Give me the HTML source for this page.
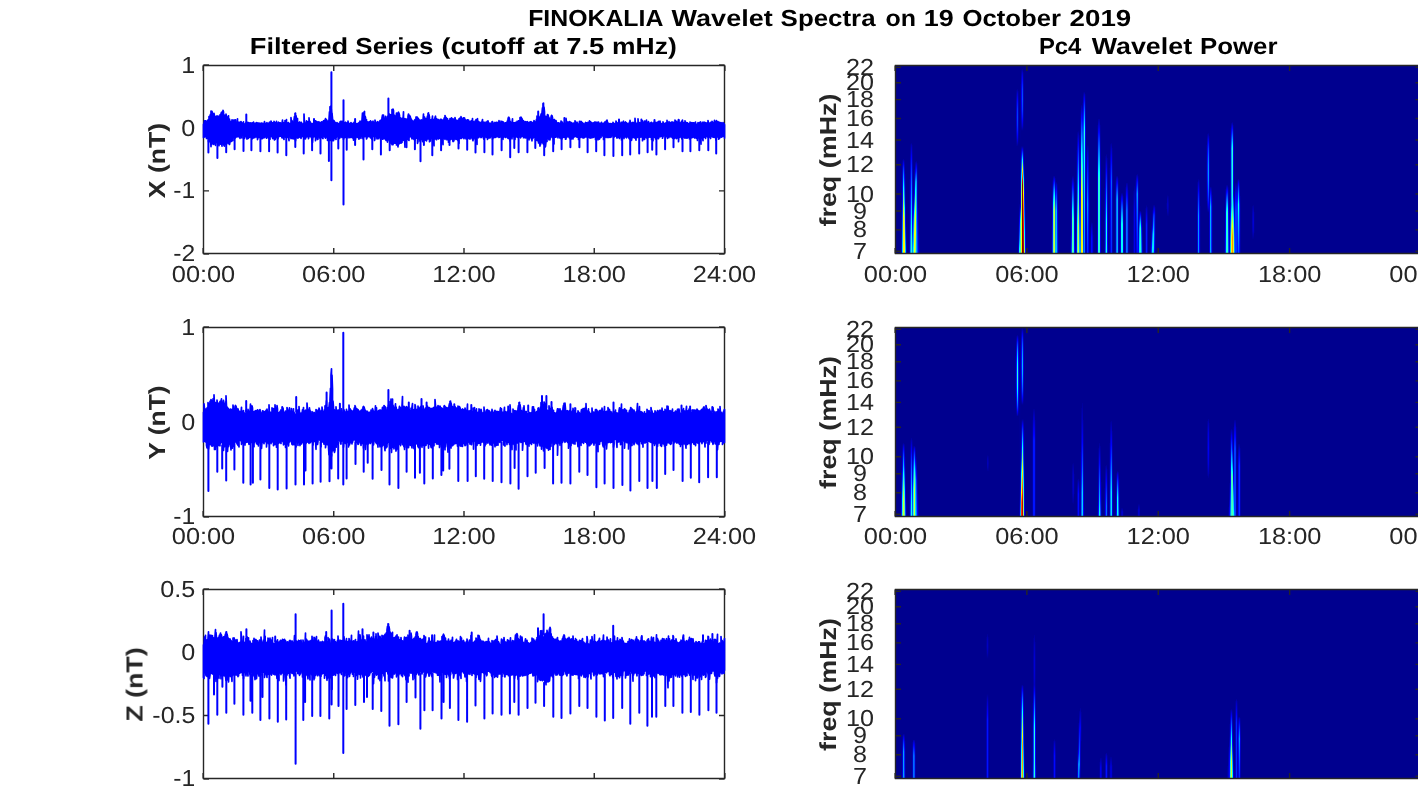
<!DOCTYPE html><html><head><meta charset="utf-8"><title>FINOKALIA Wavelet Spectra</title>
<style>html,body{margin:0;padding:0;background:#fff;overflow:hidden}svg{display:block}text{font-family:"Liberation Sans",sans-serif;fill:#262626;text-rendering:geometricPrecision}</style></head><body>
<svg width="1418" height="788" viewBox="0 0 1418 788">
<rect width="1418" height="788" fill="#fff"/>
<g shape-rendering="crispEdges">
<rect x="895.5" y="65.5" width="524.5" height="188.0" fill="#00008f"/>
<defs><linearGradient id="a5" x2="0" y2="1"><stop offset="0" stop-color="#000099"/><stop offset="0.581" stop-color="#0000b3"/><stop offset="1" stop-color="#0000d9"/></linearGradient><linearGradient id="a6" x2="0" y2="1"><stop offset="0" stop-color="#000096"/><stop offset="0.065" stop-color="#0000b7"/><stop offset="0.172" stop-color="#0000d7"/><stop offset="0.452" stop-color="#0002ff"/><stop offset="0.624" stop-color="#0050ff"/><stop offset="1" stop-color="#00e2ff"/></linearGradient><linearGradient id="a7" x2="0" y2="1"><stop offset="0" stop-color="#00008f"/><stop offset="0.043" stop-color="#0000dc"/><stop offset="0.064" stop-color="#0000fb"/><stop offset="0.074" stop-color="#000bff"/><stop offset="0.181" stop-color="#0086ff"/><stop offset="0.309" stop-color="#03fffc"/><stop offset="0.606" stop-color="#fbff04"/><stop offset="0.628" stop-color="#fff400"/><stop offset="1" stop-color="#fff400"/></linearGradient><linearGradient id="a8" x2="0" y2="1"><stop offset="0" stop-color="#000096"/><stop offset="0.194" stop-color="#0004ff"/><stop offset="0.333" stop-color="#0058ff"/><stop offset="0.452" stop-color="#00acff"/><stop offset="0.516" stop-color="#01fffe"/><stop offset="0.624" stop-color="#8aff75"/><stop offset="0.667" stop-color="#a2ff5d"/><stop offset="0.849" stop-color="#eaff15"/><stop offset="0.935" stop-color="#feff01"/><stop offset="1" stop-color="#fff500"/></linearGradient><linearGradient id="a9" x2="0" y2="1"><stop offset="0" stop-color="#000099"/><stop offset="0.354" stop-color="#0000b5"/><stop offset="0.62" stop-color="#0003ff"/><stop offset="0.759" stop-color="#0048ff"/><stop offset="1" stop-color="#00e0ff"/></linearGradient><linearGradient id="a10" x2="0" y2="1"><stop offset="0" stop-color="#000099"/><stop offset="0.538" stop-color="#0000b0"/><stop offset="1" stop-color="#0000d8"/></linearGradient><linearGradient id="a13" x2="0" y2="1"><stop offset="0" stop-color="#000099"/><stop offset="0.514" stop-color="#0000a0"/><stop offset="1" stop-color="#0000ba"/></linearGradient><linearGradient id="a14" x2="0" y2="1"><stop offset="0" stop-color="#000097"/><stop offset="0.156" stop-color="#0000c6"/><stop offset="0.45" stop-color="#0000ff"/><stop offset="0.67" stop-color="#0023ff"/><stop offset="0.853" stop-color="#0070ff"/><stop offset="1" stop-color="#0091ff"/></linearGradient><linearGradient id="a15" x2="0" y2="1"><stop offset="0" stop-color="#00008f"/><stop offset="0.018" stop-color="#0000ab"/><stop offset="0.045" stop-color="#0000c3"/><stop offset="0.136" stop-color="#0000ff"/><stop offset="0.391" stop-color="#0079ff"/><stop offset="0.745" stop-color="#00feff"/><stop offset="0.855" stop-color="#23ffdc"/><stop offset="1" stop-color="#23ffdc"/></linearGradient><linearGradient id="a16" x2="0" y2="1"><stop offset="0" stop-color="#000097"/><stop offset="0.231" stop-color="#0000bf"/><stop offset="0.667" stop-color="#0000f0"/><stop offset="0.722" stop-color="#0000ff"/><stop offset="0.806" stop-color="#001dff"/><stop offset="0.907" stop-color="#0066ff"/><stop offset="1" stop-color="#009aff"/></linearGradient><linearGradient id="a17" x2="0" y2="1"><stop offset="0" stop-color="#000099"/><stop offset="0.102" stop-color="#0000a5"/><stop offset="0.169" stop-color="#0000b7"/><stop offset="0.322" stop-color="#0001ff"/><stop offset="0.441" stop-color="#004fff"/><stop offset="0.593" stop-color="#0091ff"/><stop offset="0.678" stop-color="#00aeff"/><stop offset="0.797" stop-color="#00c8ff"/><stop offset="0.898" stop-color="#00feff"/><stop offset="1" stop-color="#32ffcd"/></linearGradient><linearGradient id="a18" x2="0" y2="1"><stop offset="0" stop-color="#000099"/><stop offset="0.19" stop-color="#0000ca"/><stop offset="0.298" stop-color="#0003ff"/><stop offset="0.393" stop-color="#0060ff"/><stop offset="0.512" stop-color="#00ffff"/><stop offset="0.571" stop-color="#55ffaa"/><stop offset="0.762" stop-color="#ebff14"/><stop offset="1" stop-color="#ecff13"/></linearGradient><linearGradient id="a19" x2="0" y2="1"><stop offset="0" stop-color="#000096"/><stop offset="0.11" stop-color="#0000fb"/><stop offset="0.121" stop-color="#0009ff"/><stop offset="0.176" stop-color="#0054ff"/><stop offset="0.22" stop-color="#00a1ff"/><stop offset="0.319" stop-color="#00fdff"/><stop offset="0.604" stop-color="#ecff13"/><stop offset="0.78" stop-color="#ecff13"/><stop offset="0.879" stop-color="#aeff51"/><stop offset="1" stop-color="#75ff8a"/></linearGradient><linearGradient id="a20" x2="0" y2="1"><stop offset="0" stop-color="#00008f"/><stop offset="0.076" stop-color="#0000fc"/><stop offset="0.228" stop-color="#00a1ff"/><stop offset="0.478" stop-color="#00b4ff"/><stop offset="0.598" stop-color="#00b4ff"/><stop offset="0.641" stop-color="#00a8ff"/><stop offset="1" stop-color="#00aeff"/></linearGradient><linearGradient id="a21" x2="0" y2="1"><stop offset="0" stop-color="#000098"/><stop offset="0.211" stop-color="#0000bf"/><stop offset="0.411" stop-color="#0000bd"/><stop offset="0.6" stop-color="#0000fe"/><stop offset="0.789" stop-color="#002bff"/><stop offset="1" stop-color="#004aff"/></linearGradient><linearGradient id="a22" x2="0" y2="1"><stop offset="0" stop-color="#000099"/><stop offset="1" stop-color="#0000e8"/></linearGradient><linearGradient id="a23" x2="0" y2="1"><stop offset="0" stop-color="#000099"/><stop offset="1" stop-color="#0000ae"/></linearGradient><linearGradient id="a120" x2="0" y2="1"><stop offset="0" stop-color="#000097"/><stop offset="0.236" stop-color="#0000c7"/><stop offset="0.491" stop-color="#0000d9"/><stop offset="0.745" stop-color="#0000c9"/><stop offset="1" stop-color="#000097"/></linearGradient><linearGradient id="a121" x2="0" y2="1"><stop offset="0" stop-color="#00008f"/><stop offset="0.088" stop-color="#0000cc"/><stop offset="0.211" stop-color="#0004ff"/><stop offset="0.351" stop-color="#002cff"/><stop offset="0.491" stop-color="#003bff"/><stop offset="0.632" stop-color="#0030ff"/><stop offset="0.789" stop-color="#0004ff"/><stop offset="0.912" stop-color="#0000cc"/><stop offset="1" stop-color="#00008f"/></linearGradient><linearGradient id="a122" x2="0" y2="1"><stop offset="0" stop-color="#000098"/><stop offset="0.08" stop-color="#0000b5"/><stop offset="0.167" stop-color="#0000c0"/><stop offset="0.259" stop-color="#0000b2"/><stop offset="0.34" stop-color="#00008f"/><stop offset="0.778" stop-color="#000093"/><stop offset="0.92" stop-color="#0000b0"/><stop offset="0.969" stop-color="#0000ce"/><stop offset="1" stop-color="#0000ec"/></linearGradient><linearGradient id="a123" x2="0" y2="1"><stop offset="0" stop-color="#000096"/><stop offset="0.224" stop-color="#0000cc"/><stop offset="0.367" stop-color="#0000fc"/><stop offset="0.551" stop-color="#0035ff"/><stop offset="0.694" stop-color="#006fff"/><stop offset="0.735" stop-color="#0084ff"/><stop offset="0.898" stop-color="#00f8ff"/><stop offset="1" stop-color="#32ffcd"/></linearGradient><linearGradient id="a124" x2="0" y2="1"><stop offset="0" stop-color="#000099"/><stop offset="0.13" stop-color="#00009c"/><stop offset="0.367" stop-color="#00008f"/><stop offset="0.503" stop-color="#0000aa"/><stop offset="0.598" stop-color="#0000d2"/><stop offset="0.722" stop-color="#0000f0"/><stop offset="0.728" stop-color="#0004ff"/><stop offset="0.763" stop-color="#0081ff"/><stop offset="0.805" stop-color="#01fffe"/><stop offset="0.822" stop-color="#34ffcb"/><stop offset="0.828" stop-color="#37ffc8"/><stop offset="1" stop-color="#37ffc8"/></linearGradient><linearGradient id="a125" x2="0" y2="1"><stop offset="0" stop-color="#000099"/><stop offset="0.038" stop-color="#0000c0"/><stop offset="0.082" stop-color="#0000df"/><stop offset="0.126" stop-color="#0000f1"/><stop offset="0.169" stop-color="#0000f6"/><stop offset="0.213" stop-color="#0000ed"/><stop offset="0.257" stop-color="#0000d8"/><stop offset="0.306" stop-color="#0000b1"/><stop offset="0.333" stop-color="#00008f"/><stop offset="0.415" stop-color="#00008f"/><stop offset="0.459" stop-color="#0000f7"/><stop offset="0.464" stop-color="#0004ff"/><stop offset="0.503" stop-color="#004cff"/><stop offset="0.541" stop-color="#0086ff"/><stop offset="0.579" stop-color="#00f0ff"/><stop offset="0.585" stop-color="#01fffe"/><stop offset="0.628" stop-color="#83ff7c"/><stop offset="0.661" stop-color="#99ff66"/><stop offset="0.754" stop-color="#c6ff39"/><stop offset="0.874" stop-color="#f0ff0f"/><stop offset="0.923" stop-color="#feff01"/><stop offset="1" stop-color="#ffec00"/></linearGradient><linearGradient id="a126" x2="0" y2="1"><stop offset="0" stop-color="#00008f"/><stop offset="0.027" stop-color="#0000cf"/><stop offset="0.06" stop-color="#0003ff"/><stop offset="0.114" stop-color="#003cff"/><stop offset="0.168" stop-color="#004fff"/><stop offset="0.223" stop-color="#003cff"/><stop offset="0.277" stop-color="#0003ff"/><stop offset="0.31" stop-color="#0000cf"/><stop offset="0.337" stop-color="#00008f"/><stop offset="0.418" stop-color="#00008f"/><stop offset="0.424" stop-color="#0000a0"/><stop offset="0.44" stop-color="#0000f6"/><stop offset="0.446" stop-color="#0013ff"/><stop offset="0.495" stop-color="#04fffb"/><stop offset="0.549" stop-color="#fff900"/><stop offset="0.603" stop-color="#fc0000"/><stop offset="0.63" stop-color="#800000"/><stop offset="1" stop-color="#800000"/></linearGradient><linearGradient id="a127" x2="0" y2="1"><stop offset="0" stop-color="#000099"/><stop offset="0.083" stop-color="#0000b5"/><stop offset="0.16" stop-color="#0000bd"/><stop offset="0.249" stop-color="#0000b0"/><stop offset="0.326" stop-color="#00008f"/><stop offset="0.409" stop-color="#00008f"/><stop offset="0.492" stop-color="#0000fc"/><stop offset="0.541" stop-color="#0052ff"/><stop offset="0.564" stop-color="#009aff"/><stop offset="0.586" stop-color="#00f0ff"/><stop offset="0.591" stop-color="#08fff7"/><stop offset="0.624" stop-color="#9dff62"/><stop offset="0.669" stop-color="#ffff00"/><stop offset="0.713" stop-color="#ffb000"/><stop offset="0.757" stop-color="#ff7000"/><stop offset="0.807" stop-color="#ff3600"/><stop offset="0.862" stop-color="#ff0200"/><stop offset="1" stop-color="#a80000"/></linearGradient><linearGradient id="a128" x2="0" y2="1"><stop offset="0" stop-color="#000099"/><stop offset="0.124" stop-color="#0000ad"/><stop offset="0.348" stop-color="#0000fe"/><stop offset="0.517" stop-color="#0055ff"/><stop offset="0.753" stop-color="#00f8ff"/><stop offset="0.764" stop-color="#01fffe"/><stop offset="1" stop-color="#a9ff56"/></linearGradient><linearGradient id="a129" x2="0" y2="1"><stop offset="0" stop-color="#000099"/><stop offset="0.469" stop-color="#0000bd"/><stop offset="0.878" stop-color="#0000fd"/><stop offset="1" stop-color="#0018ff"/></linearGradient><linearGradient id="a130" x2="0" y2="1"><stop offset="0" stop-color="#000099"/><stop offset="1" stop-color="#00009d"/></linearGradient><linearGradient id="a155" x2="0" y2="1"><stop offset="0" stop-color="#000099"/><stop offset="1" stop-color="#0000a4"/></linearGradient><linearGradient id="a156" x2="0" y2="1"><stop offset="0" stop-color="#000098"/><stop offset="0.219" stop-color="#0000be"/><stop offset="0.425" stop-color="#0000f1"/><stop offset="0.534" stop-color="#0000ff"/><stop offset="1" stop-color="#003cff"/></linearGradient><linearGradient id="a157" x2="0" y2="1"><stop offset="0" stop-color="#00008f"/><stop offset="0.104" stop-color="#0003ff"/><stop offset="0.351" stop-color="#00ffff"/><stop offset="0.455" stop-color="#62ff9d"/><stop offset="0.468" stop-color="#65ff9a"/><stop offset="1" stop-color="#87ff78"/></linearGradient><linearGradient id="a158" x2="0" y2="1"><stop offset="0" stop-color="#00008f"/><stop offset="0.065" stop-color="#0000ff"/><stop offset="0.182" stop-color="#009eff"/><stop offset="0.26" stop-color="#00faff"/><stop offset="0.273" stop-color="#0afff5"/><stop offset="0.455" stop-color="#ccff33"/><stop offset="1" stop-color="#ceff31"/></linearGradient><linearGradient id="a159" x2="0" y2="1"><stop offset="0" stop-color="#000099"/><stop offset="0.12" stop-color="#0000c2"/><stop offset="0.227" stop-color="#0006ff"/><stop offset="0.44" stop-color="#0084ff"/><stop offset="0.693" stop-color="#0090ff"/><stop offset="1" stop-color="#00bdff"/></linearGradient><linearGradient id="a160" x2="0" y2="1"><stop offset="0" stop-color="#000090"/><stop offset="0.042" stop-color="#0000c1"/><stop offset="0.113" stop-color="#0000fc"/><stop offset="0.282" stop-color="#0073ff"/><stop offset="0.408" stop-color="#00beff"/><stop offset="1" stop-color="#00beff"/></linearGradient><linearGradient id="a161" x2="0" y2="1"><stop offset="0" stop-color="#000097"/><stop offset="0.174" stop-color="#0000bb"/><stop offset="0.391" stop-color="#0000f7"/><stop offset="0.449" stop-color="#0000fe"/><stop offset="1" stop-color="#002fff"/></linearGradient><linearGradient id="a162" x2="0" y2="1"><stop offset="0" stop-color="#000099"/><stop offset="1" stop-color="#0000ac"/></linearGradient><linearGradient id="a174" x2="0" y2="1"><stop offset="0" stop-color="#000099"/><stop offset="1" stop-color="#0000ab"/></linearGradient><linearGradient id="a175" x2="0" y2="1"><stop offset="0" stop-color="#000099"/><stop offset="0.726" stop-color="#0000ff"/><stop offset="1" stop-color="#004eff"/></linearGradient><linearGradient id="a176" x2="0" y2="1"><stop offset="0" stop-color="#00008f"/><stop offset="0.117" stop-color="#0000fc"/><stop offset="0.455" stop-color="#03fffc"/><stop offset="0.558" stop-color="#4bffb4"/><stop offset="1" stop-color="#4bffb4"/></linearGradient><linearGradient id="a177" x2="0" y2="1"><stop offset="0" stop-color="#00008f"/><stop offset="0.156" stop-color="#0004ff"/><stop offset="0.558" stop-color="#00faff"/><stop offset="1" stop-color="#2cffd3"/></linearGradient><linearGradient id="a178" x2="0" y2="1"><stop offset="0" stop-color="#000099"/><stop offset="0.662" stop-color="#0000d4"/><stop offset="0.887" stop-color="#0000fc"/><stop offset="1" stop-color="#001bff"/></linearGradient><linearGradient id="a179" x2="0" y2="1"><stop offset="0" stop-color="#000099"/><stop offset="1" stop-color="#00009f"/></linearGradient><linearGradient id="a180" x2="0" y2="1"><stop offset="0" stop-color="#000099"/><stop offset="0.476" stop-color="#0000ad"/><stop offset="0.689" stop-color="#0000c9"/><stop offset="0.961" stop-color="#0000fe"/><stop offset="1" stop-color="#0009ff"/></linearGradient><linearGradient id="a181" x2="0" y2="1"><stop offset="0" stop-color="#000096"/><stop offset="0.24" stop-color="#0001ff"/><stop offset="0.545" stop-color="#0070ff"/><stop offset="0.744" stop-color="#01fffe"/><stop offset="0.785" stop-color="#1effe1"/><stop offset="1" stop-color="#52ffad"/></linearGradient><linearGradient id="a182" x2="0" y2="1"><stop offset="0" stop-color="#00008f"/><stop offset="0.041" stop-color="#0000bd"/><stop offset="0.115" stop-color="#0000fd"/><stop offset="0.467" stop-color="#00fbff"/><stop offset="0.779" stop-color="#c1ff3e"/><stop offset="1" stop-color="#c4ff3b"/></linearGradient><linearGradient id="a183" x2="0" y2="1"><stop offset="0" stop-color="#000098"/><stop offset="0.576" stop-color="#0001ff"/><stop offset="0.669" stop-color="#002bff"/><stop offset="0.78" stop-color="#006aff"/><stop offset="1" stop-color="#00c2ff"/></linearGradient><linearGradient id="a184" x2="0" y2="1"><stop offset="0" stop-color="#000099"/><stop offset="0.552" stop-color="#0000ff"/><stop offset="0.762" stop-color="#003fff"/><stop offset="1" stop-color="#00a6ff"/></linearGradient><linearGradient id="a185" x2="0" y2="1"><stop offset="0" stop-color="#000095"/><stop offset="0.088" stop-color="#0002ff"/><stop offset="0.331" stop-color="#00ffff"/><stop offset="0.601" stop-color="#fffc00"/><stop offset="0.622" stop-color="#ffea00"/><stop offset="1" stop-color="#ffea00"/></linearGradient><linearGradient id="a186" x2="0" y2="1"><stop offset="0" stop-color="#000099"/><stop offset="0.02" stop-color="#00009c"/><stop offset="0.12" stop-color="#0000ff"/><stop offset="0.42" stop-color="#00fcff"/><stop offset="0.553" stop-color="#66ff99"/><stop offset="0.627" stop-color="#b2ff4d"/><stop offset="0.787" stop-color="#d0ff2f"/><stop offset="1" stop-color="#e7ff18"/></linearGradient><linearGradient id="a187" x2="0" y2="1"><stop offset="0" stop-color="#00008f"/><stop offset="0.037" stop-color="#0000be"/><stop offset="0.112" stop-color="#0001ff"/><stop offset="0.255" stop-color="#0067ff"/><stop offset="0.863" stop-color="#0022ff"/><stop offset="1" stop-color="#005cff"/></linearGradient><linearGradient id="a188" x2="0" y2="1"><stop offset="0" stop-color="#00008f"/><stop offset="0.019" stop-color="#0000c2"/><stop offset="0.05" stop-color="#0000fd"/><stop offset="0.13" stop-color="#007fff"/><stop offset="0.224" stop-color="#00ffff"/><stop offset="0.255" stop-color="#22ffdd"/><stop offset="0.416" stop-color="#00ffff"/><stop offset="1" stop-color="#0082ff"/></linearGradient><linearGradient id="a189" x2="0" y2="1"><stop offset="0" stop-color="#000098"/><stop offset="0.245" stop-color="#0000ee"/><stop offset="1" stop-color="#0000c9"/></linearGradient><linearGradient id="a190" x2="0" y2="1"><stop offset="0" stop-color="#000099"/><stop offset="0.524" stop-color="#0000cd"/><stop offset="0.796" stop-color="#0000bf"/><stop offset="1" stop-color="#0000bf"/></linearGradient><linearGradient id="a191" x2="0" y2="1"><stop offset="0" stop-color="#000095"/><stop offset="0.065" stop-color="#0000c1"/><stop offset="0.185" stop-color="#0000fe"/><stop offset="0.546" stop-color="#0094ff"/><stop offset="1" stop-color="#0028ff"/></linearGradient><linearGradient id="a192" x2="0" y2="1"><stop offset="0" stop-color="#000097"/><stop offset="0.159" stop-color="#0000c6"/><stop offset="0.411" stop-color="#0001ff"/><stop offset="0.551" stop-color="#001cff"/><stop offset="0.766" stop-color="#0000ff"/><stop offset="1" stop-color="#0000f1"/></linearGradient><linearGradient id="a193" x2="0" y2="1"><stop offset="0" stop-color="#000099"/><stop offset="0.395" stop-color="#0000a2"/><stop offset="1" stop-color="#00009e"/></linearGradient><linearGradient id="a194" x2="0" y2="1"><stop offset="0" stop-color="#000099"/><stop offset="1" stop-color="#0000af"/></linearGradient><linearGradient id="a195" x2="0" y2="1"><stop offset="0" stop-color="#00008f"/><stop offset="0.161" stop-color="#0000c0"/><stop offset="0.452" stop-color="#0000fd"/><stop offset="0.516" stop-color="#0009ff"/><stop offset="1" stop-color="#0009ff"/></linearGradient><linearGradient id="a196" x2="0" y2="1"><stop offset="0" stop-color="#000098"/><stop offset="0.5" stop-color="#0000df"/><stop offset="1" stop-color="#0000e9"/></linearGradient><linearGradient id="a197" x2="0" y2="1"><stop offset="0" stop-color="#000099"/><stop offset="1" stop-color="#00009e"/></linearGradient><linearGradient id="a201" x2="0" y2="1"><stop offset="0" stop-color="#000099"/><stop offset="0.422" stop-color="#0000d4"/><stop offset="0.75" stop-color="#0000d5"/><stop offset="1" stop-color="#0000ea"/></linearGradient><linearGradient id="a202" x2="0" y2="1"><stop offset="0" stop-color="#000099"/><stop offset="0.104" stop-color="#0002ff"/><stop offset="0.403" stop-color="#00feff"/><stop offset="0.448" stop-color="#23ffdc"/><stop offset="1" stop-color="#23ffdc"/></linearGradient><linearGradient id="a203" x2="0" y2="1"><stop offset="0" stop-color="#000099"/><stop offset="0.104" stop-color="#0002ff"/><stop offset="0.403" stop-color="#00feff"/><stop offset="0.448" stop-color="#23ffdc"/><stop offset="1" stop-color="#23ffdc"/></linearGradient><linearGradient id="a204" x2="0" y2="1"><stop offset="0" stop-color="#000099"/><stop offset="0.422" stop-color="#0000d4"/><stop offset="0.75" stop-color="#0000d5"/><stop offset="1" stop-color="#0000ea"/></linearGradient><linearGradient id="a208" x2="0" y2="1"><stop offset="0" stop-color="#000099"/><stop offset="1" stop-color="#0000a9"/></linearGradient><linearGradient id="a209" x2="0" y2="1"><stop offset="0" stop-color="#000098"/><stop offset="0.443" stop-color="#0000ff"/><stop offset="0.691" stop-color="#0034ff"/><stop offset="0.845" stop-color="#0035ff"/><stop offset="1" stop-color="#0054ff"/></linearGradient><linearGradient id="a210" x2="0" y2="1"><stop offset="0" stop-color="#000094"/><stop offset="0.182" stop-color="#0004ff"/><stop offset="0.667" stop-color="#00fdff"/><stop offset="0.707" stop-color="#0ffff0"/><stop offset="1" stop-color="#0ffff0"/></linearGradient><linearGradient id="a211" x2="0" y2="1"><stop offset="0" stop-color="#000099"/><stop offset="0.684" stop-color="#0000fb"/><stop offset="0.874" stop-color="#0000ff"/><stop offset="1" stop-color="#0015ff"/></linearGradient><linearGradient id="a212" x2="0" y2="1"><stop offset="0" stop-color="#000099"/><stop offset="1" stop-color="#00009c"/></linearGradient><linearGradient id="a213" x2="0" y2="1"><stop offset="0" stop-color="#000099"/><stop offset="1" stop-color="#00009a"/></linearGradient><linearGradient id="a214" x2="0" y2="1"><stop offset="0" stop-color="#000097"/><stop offset="0.128" stop-color="#0000c3"/><stop offset="0.339" stop-color="#0000fa"/><stop offset="1" stop-color="#0000e0"/></linearGradient><linearGradient id="a215" x2="0" y2="1"><stop offset="0" stop-color="#000096"/><stop offset="0.064" stop-color="#0000c5"/><stop offset="0.164" stop-color="#0000fe"/><stop offset="0.355" stop-color="#0059ff"/><stop offset="1" stop-color="#0027ff"/></linearGradient><linearGradient id="a216" x2="0" y2="1"><stop offset="0" stop-color="#000099"/><stop offset="0.314" stop-color="#0000bf"/><stop offset="1" stop-color="#0000b3"/></linearGradient><linearGradient id="a219" x2="0" y2="1"><stop offset="0" stop-color="#000098"/><stop offset="0.26" stop-color="#0000b3"/><stop offset="1" stop-color="#0000b6"/></linearGradient><linearGradient id="a220" x2="0" y2="1"><stop offset="0" stop-color="#00008f"/><stop offset="0.052" stop-color="#0000c8"/><stop offset="0.13" stop-color="#0005ff"/><stop offset="0.273" stop-color="#0064ff"/><stop offset="0.312" stop-color="#0076ff"/><stop offset="0.896" stop-color="#0076ff"/><stop offset="1" stop-color="#007dff"/></linearGradient><linearGradient id="a221" x2="0" y2="1"><stop offset="0" stop-color="#00008f"/><stop offset="0.026" stop-color="#0000b7"/><stop offset="0.091" stop-color="#0000fb"/><stop offset="0.26" stop-color="#008aff"/><stop offset="0.312" stop-color="#00aaff"/><stop offset="1" stop-color="#00aaff"/></linearGradient><linearGradient id="a222" x2="0" y2="1"><stop offset="0" stop-color="#000097"/><stop offset="0.28" stop-color="#0000c3"/><stop offset="1" stop-color="#0000c7"/></linearGradient><linearGradient id="a224" x2="0" y2="1"><stop offset="0" stop-color="#000098"/><stop offset="0.474" stop-color="#0000cc"/><stop offset="0.754" stop-color="#0000cf"/><stop offset="1" stop-color="#0000e1"/></linearGradient><linearGradient id="a225" x2="0" y2="1"><stop offset="0" stop-color="#00008f"/><stop offset="0.083" stop-color="#0000df"/><stop offset="0.133" stop-color="#0008ff"/><stop offset="0.333" stop-color="#0091ff"/><stop offset="0.517" stop-color="#00faff"/><stop offset="1" stop-color="#00faff"/></linearGradient><linearGradient id="a226" x2="0" y2="1"><stop offset="0" stop-color="#00008f"/><stop offset="0.083" stop-color="#0000df"/><stop offset="0.133" stop-color="#0008ff"/><stop offset="0.333" stop-color="#0091ff"/><stop offset="0.517" stop-color="#00faff"/><stop offset="1" stop-color="#00faff"/></linearGradient><linearGradient id="a227" x2="0" y2="1"><stop offset="0" stop-color="#000098"/><stop offset="0.474" stop-color="#0000cc"/><stop offset="0.754" stop-color="#0000cf"/><stop offset="1" stop-color="#0000e1"/></linearGradient><linearGradient id="a229" x2="0" y2="1"><stop offset="0" stop-color="#000099"/><stop offset="0.364" stop-color="#0000b8"/><stop offset="1" stop-color="#0000bb"/></linearGradient><linearGradient id="a230" x2="0" y2="1"><stop offset="0" stop-color="#000098"/><stop offset="0.071" stop-color="#0000cb"/><stop offset="0.171" stop-color="#0003ff"/><stop offset="0.4" stop-color="#006dff"/><stop offset="1" stop-color="#006dff"/></linearGradient><linearGradient id="a231" x2="0" y2="1"><stop offset="0" stop-color="#000097"/><stop offset="0.086" stop-color="#0000c7"/><stop offset="0.214" stop-color="#0000fe"/><stop offset="0.4" stop-color="#0045ff"/><stop offset="1" stop-color="#004aff"/></linearGradient><linearGradient id="a232" x2="0" y2="1"><stop offset="0" stop-color="#000099"/><stop offset="0.333" stop-color="#0000ac"/><stop offset="1" stop-color="#0000ae"/></linearGradient><linearGradient id="a237" x2="0" y2="1"><stop offset="0" stop-color="#000099"/><stop offset="0.355" stop-color="#0000af"/><stop offset="1" stop-color="#0000af"/></linearGradient><linearGradient id="a238" x2="0" y2="1"><stop offset="0" stop-color="#000096"/><stop offset="0.388" stop-color="#0000e9"/><stop offset="1" stop-color="#0000ea"/></linearGradient><linearGradient id="a239" x2="0" y2="1"><stop offset="0" stop-color="#000098"/><stop offset="0.192" stop-color="#0000a8"/><stop offset="0.452" stop-color="#0000af"/><stop offset="1" stop-color="#0000af"/></linearGradient><linearGradient id="a240" x2="0" y2="1"><stop offset="0" stop-color="#000099"/><stop offset="0.051" stop-color="#0000c4"/><stop offset="0.141" stop-color="#0001ff"/><stop offset="0.244" stop-color="#003cff"/><stop offset="0.256" stop-color="#003cff"/><stop offset="0.744" stop-color="#0001ff"/><stop offset="1" stop-color="#0000e0"/></linearGradient><linearGradient id="a241" x2="0" y2="1"><stop offset="0" stop-color="#00008f"/><stop offset="0.089" stop-color="#0000fb"/><stop offset="0.253" stop-color="#0093ff"/><stop offset="0.266" stop-color="#0094ff"/><stop offset="1" stop-color="#000aff"/></linearGradient><linearGradient id="a242" x2="0" y2="1"><stop offset="0" stop-color="#000096"/><stop offset="0.234" stop-color="#0000c5"/><stop offset="0.662" stop-color="#0000b6"/><stop offset="0.948" stop-color="#0000ff"/><stop offset="1" stop-color="#0010ff"/></linearGradient><linearGradient id="a243" x2="0" y2="1"><stop offset="0" stop-color="#000091"/><stop offset="0.19" stop-color="#0001ff"/><stop offset="0.405" stop-color="#009cff"/><stop offset="0.429" stop-color="#00a5ff"/><stop offset="0.667" stop-color="#00c8ff"/><stop offset="1" stop-color="#00e5ff"/></linearGradient><linearGradient id="a244" x2="0" y2="1"><stop offset="0" stop-color="#00008f"/><stop offset="0.095" stop-color="#0003ff"/><stop offset="0.262" stop-color="#00a4ff"/><stop offset="0.357" stop-color="#00f5ff"/><stop offset="0.381" stop-color="#0afff5"/><stop offset="0.405" stop-color="#1dffe2"/><stop offset="0.429" stop-color="#23ffdc"/><stop offset="1" stop-color="#23ffdc"/></linearGradient><linearGradient id="a245" x2="0" y2="1"><stop offset="0" stop-color="#000095"/><stop offset="0.195" stop-color="#0000c8"/><stop offset="0.341" stop-color="#0003ff"/><stop offset="0.415" stop-color="#0023ff"/><stop offset="0.585" stop-color="#004aff"/><stop offset="1" stop-color="#0092ff"/></linearGradient><linearGradient id="a246" x2="0" y2="1"><stop offset="0" stop-color="#000098"/><stop offset="0.571" stop-color="#0000b2"/><stop offset="1" stop-color="#0000d1"/></linearGradient><linearGradient id="a249" x2="0" y2="1"><stop offset="0" stop-color="#000098"/><stop offset="0.356" stop-color="#0000b7"/><stop offset="1" stop-color="#0000b7"/></linearGradient><linearGradient id="a250" x2="0" y2="1"><stop offset="0" stop-color="#00008f"/><stop offset="0.125" stop-color="#0000c6"/><stop offset="0.312" stop-color="#0003ff"/><stop offset="0.417" stop-color="#001dff"/><stop offset="1" stop-color="#001dff"/></linearGradient><linearGradient id="a251" x2="0" y2="1"><stop offset="0" stop-color="#000099"/><stop offset="0.37" stop-color="#0000cb"/><stop offset="1" stop-color="#0000cc"/></linearGradient><linearGradient id="a254" x2="0" y2="1"><stop offset="0" stop-color="#000099"/><stop offset="1" stop-color="#0000af"/></linearGradient><linearGradient id="a255" x2="0" y2="1"><stop offset="0" stop-color="#000098"/><stop offset="0.407" stop-color="#0000be"/><stop offset="0.704" stop-color="#0000f7"/><stop offset="0.741" stop-color="#0002ff"/><stop offset="1" stop-color="#0040ff"/></linearGradient><linearGradient id="a256" x2="0" y2="1"><stop offset="0" stop-color="#000099"/><stop offset="0.256" stop-color="#0000bd"/><stop offset="0.326" stop-color="#0000d2"/><stop offset="0.419" stop-color="#0001ff"/><stop offset="0.558" stop-color="#0064ff"/><stop offset="0.744" stop-color="#00bbff"/><stop offset="0.86" stop-color="#00e6ff"/><stop offset="1" stop-color="#00e6ff"/></linearGradient><linearGradient id="a257" x2="0" y2="1"><stop offset="0" stop-color="#00008f"/><stop offset="0.104" stop-color="#0000cd"/><stop offset="0.167" stop-color="#0000fd"/><stop offset="0.208" stop-color="#0022ff"/><stop offset="0.292" stop-color="#004fff"/><stop offset="0.604" stop-color="#00e5ff"/><stop offset="0.875" stop-color="#00e6ff"/><stop offset="1" stop-color="#00bfff"/></linearGradient><linearGradient id="a258" x2="0" y2="1"><stop offset="0" stop-color="#00008f"/><stop offset="0.083" stop-color="#0000d5"/><stop offset="0.146" stop-color="#0000fd"/><stop offset="0.167" stop-color="#000aff"/><stop offset="0.229" stop-color="#0021ff"/><stop offset="0.604" stop-color="#002fff"/><stop offset="0.938" stop-color="#0002ff"/><stop offset="1" stop-color="#0000f7"/></linearGradient><linearGradient id="a259" x2="0" y2="1"><stop offset="0" stop-color="#000098"/><stop offset="0.174" stop-color="#0000a8"/><stop offset="1" stop-color="#00009c"/></linearGradient><linearGradient id="a270" x2="0" y2="1"><stop offset="0" stop-color="#000099"/><stop offset="1" stop-color="#000099"/></linearGradient><linearGradient id="a271" x2="0" y2="1"><stop offset="0" stop-color="#00008f"/><stop offset="0.238" stop-color="#0000b4"/><stop offset="0.476" stop-color="#0000c2"/><stop offset="0.762" stop-color="#0000b4"/><stop offset="1" stop-color="#00008f"/></linearGradient><linearGradient id="a272" x2="0" y2="1"><stop offset="0" stop-color="#000097"/><stop offset="0.474" stop-color="#0000b1"/><stop offset="0.737" stop-color="#0000ab"/><stop offset="1" stop-color="#000097"/></linearGradient><linearGradient id="a301" x2="0" y2="1"><stop offset="0" stop-color="#000099"/><stop offset="0.479" stop-color="#0000d9"/><stop offset="1" stop-color="#0000d9"/></linearGradient><linearGradient id="a302" x2="0" y2="1"><stop offset="0" stop-color="#00008f"/><stop offset="0.054" stop-color="#0000bb"/><stop offset="0.176" stop-color="#0001ff"/><stop offset="0.5" stop-color="#0094ff"/><stop offset="1" stop-color="#0095ff"/></linearGradient><linearGradient id="a303" x2="0" y2="1"><stop offset="0" stop-color="#000096"/><stop offset="0.178" stop-color="#0000c3"/><stop offset="0.493" stop-color="#0001ff"/><stop offset="1" stop-color="#0001ff"/></linearGradient><linearGradient id="a304" x2="0" y2="1"><stop offset="0" stop-color="#000099"/><stop offset="1" stop-color="#00009c"/></linearGradient><linearGradient id="a310" x2="0" y2="1"><stop offset="0" stop-color="#000099"/><stop offset="0.509" stop-color="#0000a2"/><stop offset="1" stop-color="#000099"/></linearGradient><linearGradient id="a311" x2="0" y2="1"><stop offset="0" stop-color="#000096"/><stop offset="0.115" stop-color="#0000cf"/><stop offset="0.269" stop-color="#0001ff"/><stop offset="0.385" stop-color="#0016ff"/><stop offset="0.5" stop-color="#001cff"/><stop offset="0.603" stop-color="#0016ff"/><stop offset="0.718" stop-color="#0002ff"/><stop offset="0.872" stop-color="#0000d1"/><stop offset="1" stop-color="#00008f"/></linearGradient><linearGradient id="a312" x2="0" y2="1"><stop offset="0" stop-color="#00008f"/><stop offset="0.076" stop-color="#0000dd"/><stop offset="0.127" stop-color="#0007ff"/><stop offset="0.215" stop-color="#0041ff"/><stop offset="0.316" stop-color="#0072ff"/><stop offset="0.418" stop-color="#008eff"/><stop offset="0.506" stop-color="#0095ff"/><stop offset="0.595" stop-color="#008dff"/><stop offset="0.696" stop-color="#006fff"/><stop offset="0.797" stop-color="#003dff"/><stop offset="0.886" stop-color="#0002ff"/><stop offset="0.949" stop-color="#0000cc"/><stop offset="1" stop-color="#000093"/></linearGradient><linearGradient id="a313" x2="0" y2="1"><stop offset="0" stop-color="#000099"/><stop offset="0.128" stop-color="#0000bb"/><stop offset="0.256" stop-color="#0000cc"/><stop offset="0.385" stop-color="#0000cb"/><stop offset="0.521" stop-color="#0000b7"/><stop offset="0.607" stop-color="#0000d2"/><stop offset="0.94" stop-color="#0000d2"/><stop offset="1" stop-color="#0000da"/></linearGradient><linearGradient id="a314" x2="0" y2="1"><stop offset="0" stop-color="#000092"/><stop offset="0.03" stop-color="#0000bc"/><stop offset="0.091" stop-color="#0000fb"/><stop offset="0.303" stop-color="#00aaff"/><stop offset="1" stop-color="#00aaff"/></linearGradient><linearGradient id="a315" x2="0" y2="1"><stop offset="0" stop-color="#00008f"/><stop offset="0.076" stop-color="#0000c1"/><stop offset="0.212" stop-color="#0002ff"/><stop offset="0.303" stop-color="#0027ff"/><stop offset="0.894" stop-color="#0027ff"/><stop offset="1" stop-color="#0035ff"/></linearGradient><linearGradient id="a316" x2="0" y2="1"><stop offset="0" stop-color="#000099"/><stop offset="0.207" stop-color="#0000a3"/><stop offset="1" stop-color="#0000a6"/></linearGradient><linearGradient id="a328" x2="0" y2="1"><stop offset="0" stop-color="#000099"/><stop offset="1" stop-color="#0000a3"/></linearGradient><linearGradient id="a329" x2="0" y2="1"><stop offset="0" stop-color="#000099"/><stop offset="0.375" stop-color="#0000da"/><stop offset="0.688" stop-color="#0000fe"/><stop offset="1" stop-color="#0023ff"/></linearGradient><linearGradient id="a330" x2="0" y2="1"><stop offset="0" stop-color="#00008f"/><stop offset="0.118" stop-color="#0000fe"/><stop offset="0.397" stop-color="#00f9ff"/><stop offset="0.412" stop-color="#00ffff"/><stop offset="1" stop-color="#13ffec"/></linearGradient><linearGradient id="a331" x2="0" y2="1"><stop offset="0" stop-color="#00008f"/><stop offset="0.074" stop-color="#0000e8"/><stop offset="0.103" stop-color="#0009ff"/><stop offset="0.353" stop-color="#00feff"/><stop offset="0.412" stop-color="#2dffd2"/><stop offset="1" stop-color="#2dffd2"/></linearGradient><linearGradient id="a332" x2="0" y2="1"><stop offset="0" stop-color="#000097"/><stop offset="0.197" stop-color="#0000c0"/><stop offset="0.409" stop-color="#0001ff"/><stop offset="1" stop-color="#0053ff"/></linearGradient><linearGradient id="a333" x2="0" y2="1"><stop offset="0" stop-color="#000099"/><stop offset="0.35" stop-color="#0000ab"/><stop offset="1" stop-color="#0000df"/></linearGradient><linearGradient id="a334" x2="0" y2="1"><stop offset="0" stop-color="#000099"/><stop offset="0.168" stop-color="#0000b6"/><stop offset="0.584" stop-color="#0000b7"/><stop offset="0.696" stop-color="#0000fe"/><stop offset="0.872" stop-color="#0099ff"/><stop offset="1" stop-color="#00d5ff"/></linearGradient><linearGradient id="a335" x2="0" y2="1"><stop offset="0" stop-color="#000097"/><stop offset="0.054" stop-color="#0000e6"/><stop offset="0.077" stop-color="#0005ff"/><stop offset="0.2" stop-color="#009bff"/><stop offset="0.631" stop-color="#009bff"/><stop offset="0.692" stop-color="#00f7ff"/><stop offset="0.7" stop-color="#04fffb"/><stop offset="0.877" stop-color="#f6ff09"/><stop offset="0.915" stop-color="#ffff00"/><stop offset="1" stop-color="#fff100"/></linearGradient><linearGradient id="a336" x2="0" y2="1"><stop offset="0" stop-color="#00008f"/><stop offset="0.053" stop-color="#0003ff"/><stop offset="0.176" stop-color="#00efff"/><stop offset="0.191" stop-color="#0cfff3"/><stop offset="0.206" stop-color="#23ffdc"/><stop offset="0.649" stop-color="#23ffdc"/><stop offset="0.794" stop-color="#feff01"/><stop offset="0.878" stop-color="#ff9100"/><stop offset="1" stop-color="#ff9000"/></linearGradient><linearGradient id="a337" x2="0" y2="1"><stop offset="0" stop-color="#000099"/><stop offset="0.188" stop-color="#0000e2"/><stop offset="0.539" stop-color="#0000e2"/><stop offset="0.555" stop-color="#0000f7"/><stop offset="0.562" stop-color="#0004ff"/><stop offset="0.727" stop-color="#00f5ff"/><stop offset="0.734" stop-color="#01fffe"/><stop offset="0.875" stop-color="#b8ff47"/><stop offset="1" stop-color="#daff25"/></linearGradient><linearGradient id="a338" x2="0" y2="1"><stop offset="0" stop-color="#000099"/><stop offset="0.097" stop-color="#00009f"/><stop offset="0.226" stop-color="#0000b5"/><stop offset="0.5" stop-color="#0000ff"/><stop offset="0.742" stop-color="#005bff"/><stop offset="1" stop-color="#0095ff"/></linearGradient><linearGradient id="a339" x2="0" y2="1"><stop offset="0" stop-color="#00008f"/><stop offset="0.086" stop-color="#0000be"/><stop offset="0.257" stop-color="#0001ff"/><stop offset="0.4" stop-color="#0030ff"/><stop offset="1" stop-color="#0031ff"/></linearGradient><linearGradient id="a340" x2="0" y2="1"><stop offset="0" stop-color="#000092"/><stop offset="0.1" stop-color="#0000c4"/><stop offset="0.257" stop-color="#0001ff"/><stop offset="0.4" stop-color="#0030ff"/><stop offset="1" stop-color="#0031ff"/></linearGradient><linearGradient id="a341" x2="0" y2="1"><stop offset="0" stop-color="#000099"/><stop offset="0.247" stop-color="#0001ff"/><stop offset="0.342" stop-color="#0034ff"/><stop offset="0.438" stop-color="#0038ff"/><stop offset="0.699" stop-color="#002bff"/><stop offset="1" stop-color="#0005ff"/></linearGradient><linearGradient id="a342" x2="0" y2="1"><stop offset="0" stop-color="#00008f"/><stop offset="0.041" stop-color="#0000d3"/><stop offset="0.081" stop-color="#0006ff"/><stop offset="0.203" stop-color="#0086ff"/><stop offset="0.338" stop-color="#02fffd"/><stop offset="0.351" stop-color="#0efff1"/><stop offset="0.405" stop-color="#00feff"/><stop offset="1" stop-color="#0047ff"/></linearGradient><linearGradient id="a343" x2="0" y2="1"><stop offset="0" stop-color="#000099"/><stop offset="0.247" stop-color="#0001ff"/><stop offset="0.342" stop-color="#0034ff"/><stop offset="0.438" stop-color="#0038ff"/><stop offset="0.699" stop-color="#002bff"/><stop offset="1" stop-color="#0005ff"/></linearGradient><linearGradient id="a344" x2="0" y2="1"><stop offset="0" stop-color="#000099"/><stop offset="0.298" stop-color="#0000a5"/><stop offset="1" stop-color="#0000a6"/></linearGradient><linearGradient id="a356" x2="0" y2="1"><stop offset="0" stop-color="#000099"/><stop offset="0.25" stop-color="#0000b5"/><stop offset="0.5" stop-color="#0000be"/><stop offset="0.75" stop-color="#0000b4"/><stop offset="1" stop-color="#000096"/></linearGradient><linearGradient id="a357" x2="0" y2="1"><stop offset="0" stop-color="#000095"/><stop offset="0.235" stop-color="#0000c4"/><stop offset="0.5" stop-color="#0000d6"/><stop offset="0.765" stop-color="#0000c2"/><stop offset="1" stop-color="#00008f"/></linearGradient><linearGradient id="a358" x2="0" y2="1"><stop offset="0" stop-color="#000099"/><stop offset="1" stop-color="#000099"/></linearGradient></defs>
<rect x="901" y="209.5" width="1" height="44" fill="url(#a5)"/><rect x="902" y="159.5" width="1" height="94" fill="url(#a6)"/><rect x="903" y="158.5" width="1" height="95" fill="url(#a7)"/><rect x="904" y="159.5" width="1" height="94" fill="url(#a8)"/><rect x="905" y="173.5" width="1" height="80" fill="url(#a9)"/><rect x="906" y="226.5" width="1" height="27" fill="url(#a10)"/><rect x="909" y="178.5" width="1" height="75" fill="url(#a13)"/><rect x="910" y="143.5" width="1" height="110" fill="url(#a14)"/><rect x="911" y="142.5" width="1" height="111" fill="url(#a15)"/><rect x="912" y="144.5" width="1" height="109" fill="url(#a16)"/><rect x="913" y="193.5" width="1" height="60" fill="url(#a17)"/><rect x="914" y="168.5" width="1" height="85" fill="url(#a18)"/><rect x="915" y="161.5" width="1" height="92" fill="url(#a19)"/><rect x="916" y="160.5" width="1" height="93" fill="url(#a20)"/><rect x="917" y="162.5" width="1" height="91" fill="url(#a21)"/><rect x="918" y="207.5" width="1" height="46" fill="url(#a22)"/><rect x="919" y="233.5" width="1" height="20" fill="url(#a23)"/><rect x="1016" y="89.5" width="1" height="56" fill="url(#a120)"/><rect x="1017" y="88.5" width="1" height="58" fill="url(#a121)"/><rect x="1018" y="90.5" width="1" height="163" fill="url(#a122)"/><rect x="1019" y="203.5" width="1" height="50" fill="url(#a123)"/><rect x="1020" y="83.5" width="1" height="170" fill="url(#a124)"/><rect x="1021" y="69.5" width="1" height="184" fill="url(#a125)"/><rect x="1022" y="68.5" width="1" height="185" fill="url(#a126)"/><rect x="1023" y="71.5" width="1" height="182" fill="url(#a127)"/><rect x="1024" y="163.5" width="1" height="90" fill="url(#a128)"/><rect x="1025" y="203.5" width="1" height="50" fill="url(#a129)"/><rect x="1026" y="247.5" width="1" height="6" fill="url(#a130)"/><rect x="1051" y="225.5" width="1" height="28" fill="url(#a155)"/><rect x="1052" y="179.5" width="1" height="74" fill="url(#a156)"/><rect x="1053" y="175.5" width="1" height="78" fill="url(#a157)"/><rect x="1054" y="175.5" width="1" height="78" fill="url(#a158)"/><rect x="1055" y="177.5" width="1" height="76" fill="url(#a159)"/><rect x="1056" y="181.5" width="1" height="72" fill="url(#a160)"/><rect x="1057" y="183.5" width="1" height="70" fill="url(#a161)"/><rect x="1058" y="208.5" width="1" height="45" fill="url(#a162)"/><rect x="1070" y="235.5" width="1" height="18" fill="url(#a174)"/><rect x="1071" y="179.5" width="1" height="74" fill="url(#a175)"/><rect x="1072" y="175.5" width="1" height="78" fill="url(#a176)"/><rect x="1073" y="175.5" width="1" height="78" fill="url(#a177)"/><rect x="1074" y="181.5" width="1" height="72" fill="url(#a178)"/><rect x="1075" y="245.5" width="1" height="8" fill="url(#a179)"/><rect x="1076" y="149.5" width="1" height="104" fill="url(#a180)"/><rect x="1077" y="131.5" width="1" height="122" fill="url(#a181)"/><rect x="1078" y="130.5" width="1" height="123" fill="url(#a182)"/><rect x="1079" y="134.5" width="1" height="119" fill="url(#a183)"/><rect x="1080" y="109.5" width="1" height="144" fill="url(#a184)"/><rect x="1081" y="104.5" width="1" height="149" fill="url(#a185)"/><rect x="1082" y="102.5" width="1" height="151" fill="url(#a186)"/><rect x="1083" y="91.5" width="1" height="162" fill="url(#a187)"/><rect x="1084" y="91.5" width="1" height="162" fill="url(#a188)"/><rect x="1085" y="93.5" width="1" height="160" fill="url(#a189)"/><rect x="1086" y="149.5" width="1" height="104" fill="url(#a190)"/><rect x="1087" y="144.5" width="1" height="109" fill="url(#a191)"/><rect x="1088" y="145.5" width="1" height="108" fill="url(#a192)"/><rect x="1089" y="171.5" width="1" height="82" fill="url(#a193)"/><rect x="1090" y="226.5" width="1" height="27" fill="url(#a194)"/><rect x="1091" y="221.5" width="1" height="32" fill="url(#a195)"/><rect x="1092" y="222.5" width="1" height="31" fill="url(#a196)"/><rect x="1093" y="234.5" width="1" height="19" fill="url(#a197)"/><rect x="1097" y="124.5" width="1" height="129" fill="url(#a201)"/><rect x="1098" y="118.5" width="1" height="135" fill="url(#a202)"/><rect x="1099" y="118.5" width="1" height="135" fill="url(#a203)"/><rect x="1100" y="124.5" width="1" height="129" fill="url(#a204)"/><rect x="1104" y="187.5" width="1" height="66" fill="url(#a208)"/><rect x="1105" y="155.5" width="1" height="98" fill="url(#a209)"/><rect x="1106" y="153.5" width="1" height="100" fill="url(#a210)"/><rect x="1107" y="157.5" width="1" height="96" fill="url(#a211)"/><rect x="1108" y="244.5" width="1" height="9" fill="url(#a212)"/><rect x="1109" y="167.5" width="1" height="86" fill="url(#a213)"/><rect x="1110" y="143.5" width="1" height="110" fill="url(#a214)"/><rect x="1111" y="142.5" width="1" height="111" fill="url(#a215)"/><rect x="1112" y="147.5" width="1" height="106" fill="url(#a216)"/><rect x="1115" y="179.5" width="1" height="74" fill="url(#a219)"/><rect x="1116" y="175.5" width="1" height="78" fill="url(#a220)"/><rect x="1117" y="175.5" width="1" height="78" fill="url(#a221)"/><rect x="1118" y="177.5" width="1" height="76" fill="url(#a222)"/><rect x="1120" y="195.5" width="1" height="58" fill="url(#a224)"/><rect x="1121" y="192.5" width="1" height="61" fill="url(#a225)"/><rect x="1122" y="192.5" width="1" height="61" fill="url(#a226)"/><rect x="1123" y="195.5" width="1" height="58" fill="url(#a227)"/><rect x="1125" y="186.5" width="1" height="67" fill="url(#a229)"/><rect x="1126" y="182.5" width="1" height="71" fill="url(#a230)"/><rect x="1127" y="182.5" width="1" height="71" fill="url(#a231)"/><rect x="1128" y="189.5" width="1" height="64" fill="url(#a232)"/><rect x="1133" y="190.5" width="1" height="63" fill="url(#a237)"/><rect x="1134" y="185.5" width="1" height="68" fill="url(#a238)"/><rect x="1135" y="179.5" width="1" height="74" fill="url(#a239)"/><rect x="1136" y="174.5" width="1" height="79" fill="url(#a240)"/><rect x="1137" y="173.5" width="1" height="80" fill="url(#a241)"/><rect x="1138" y="175.5" width="1" height="78" fill="url(#a242)"/><rect x="1139" y="210.5" width="1" height="43" fill="url(#a243)"/><rect x="1140" y="210.5" width="1" height="43" fill="url(#a244)"/><rect x="1141" y="211.5" width="1" height="42" fill="url(#a245)"/><rect x="1142" y="224.5" width="1" height="29" fill="url(#a246)"/><rect x="1145" y="207.5" width="1" height="46" fill="url(#a249)"/><rect x="1146" y="204.5" width="1" height="49" fill="url(#a250)"/><rect x="1147" y="206.5" width="1" height="47" fill="url(#a251)"/><rect x="1150" y="243.5" width="1" height="10" fill="url(#a254)"/><rect x="1151" y="225.5" width="1" height="28" fill="url(#a255)"/><rect x="1152" y="209.5" width="1" height="44" fill="url(#a256)"/><rect x="1153" y="204.5" width="1" height="49" fill="url(#a257)"/><rect x="1154" y="204.5" width="1" height="49" fill="url(#a258)"/><rect x="1155" y="206.5" width="1" height="47" fill="url(#a259)"/><rect x="1166" y="202.5" width="1" height="6" fill="url(#a270)"/><rect x="1167" y="194.5" width="1" height="22" fill="url(#a271)"/><rect x="1168" y="195.5" width="1" height="20" fill="url(#a272)"/><rect x="1197" y="181.5" width="1" height="72" fill="url(#a301)"/><rect x="1198" y="178.5" width="1" height="75" fill="url(#a302)"/><rect x="1199" y="179.5" width="1" height="74" fill="url(#a303)"/><rect x="1200" y="205.5" width="1" height="48" fill="url(#a304)"/><rect x="1206" y="144.5" width="1" height="56" fill="url(#a310)"/><rect x="1207" y="133.5" width="1" height="79" fill="url(#a311)"/><rect x="1208" y="132.5" width="1" height="80" fill="url(#a312)"/><rect x="1209" y="135.5" width="1" height="118" fill="url(#a313)"/><rect x="1210" y="186.5" width="1" height="67" fill="url(#a314)"/><rect x="1211" y="186.5" width="1" height="67" fill="url(#a315)"/><rect x="1212" y="194.5" width="1" height="59" fill="url(#a316)"/><rect x="1224" y="231.5" width="1" height="22" fill="url(#a328)"/><rect x="1225" y="188.5" width="1" height="65" fill="url(#a329)"/><rect x="1226" y="184.5" width="1" height="69" fill="url(#a330)"/><rect x="1227" y="184.5" width="1" height="69" fill="url(#a331)"/><rect x="1228" y="186.5" width="1" height="67" fill="url(#a332)"/><rect x="1229" y="212.5" width="1" height="41" fill="url(#a333)"/><rect x="1230" y="127.5" width="1" height="126" fill="url(#a334)"/><rect x="1231" y="122.5" width="1" height="131" fill="url(#a335)"/><rect x="1232" y="121.5" width="1" height="132" fill="url(#a336)"/><rect x="1233" y="124.5" width="1" height="129" fill="url(#a337)"/><rect x="1234" y="190.5" width="1" height="63" fill="url(#a338)"/><rect x="1235" y="182.5" width="1" height="71" fill="url(#a339)"/><rect x="1236" y="182.5" width="1" height="71" fill="url(#a340)"/><rect x="1237" y="179.5" width="1" height="74" fill="url(#a341)"/><rect x="1238" y="178.5" width="1" height="75" fill="url(#a342)"/><rect x="1239" y="179.5" width="1" height="74" fill="url(#a343)"/><rect x="1240" y="195.5" width="1" height="58" fill="url(#a344)"/><rect x="1252" y="205.5" width="1" height="33" fill="url(#a356)"/><rect x="1253" y="204.5" width="1" height="35" fill="url(#a357)"/><rect x="1254" y="211.5" width="1" height="21" fill="url(#a358)"/>
<rect x="895.5" y="327.5" width="524.5" height="189.0" fill="#00008f"/>
<defs><linearGradient id="b4" x2="0" y2="1"><stop offset="0" stop-color="#000099"/><stop offset="1" stop-color="#0000a4"/></linearGradient><linearGradient id="b5" x2="0" y2="1"><stop offset="0" stop-color="#000099"/><stop offset="0.413" stop-color="#0000ba"/><stop offset="0.826" stop-color="#0000ff"/><stop offset="1" stop-color="#0024ff"/></linearGradient><linearGradient id="b6" x2="0" y2="1"><stop offset="0" stop-color="#000094"/><stop offset="0.097" stop-color="#0000b4"/><stop offset="0.306" stop-color="#0000e3"/><stop offset="0.361" stop-color="#0000fc"/><stop offset="0.486" stop-color="#0044ff"/><stop offset="0.764" stop-color="#00f9ff"/><stop offset="1" stop-color="#3affc5"/></linearGradient><linearGradient id="b7" x2="0" y2="1"><stop offset="0" stop-color="#00008f"/><stop offset="0.055" stop-color="#0000d8"/><stop offset="0.096" stop-color="#0004ff"/><stop offset="0.233" stop-color="#0079ff"/><stop offset="0.411" stop-color="#00f8ff"/><stop offset="0.425" stop-color="#02fffd"/><stop offset="0.753" stop-color="#ccff33"/><stop offset="1" stop-color="#ceff31"/></linearGradient><linearGradient id="b8" x2="0" y2="1"><stop offset="0" stop-color="#000097"/><stop offset="0.069" stop-color="#0000bc"/><stop offset="0.194" stop-color="#0000eb"/><stop offset="0.25" stop-color="#0000fd"/><stop offset="0.306" stop-color="#0010ff"/><stop offset="0.653" stop-color="#00f9ff"/><stop offset="0.764" stop-color="#3fffc0"/><stop offset="1" stop-color="#6cff93"/></linearGradient><linearGradient id="b9" x2="0" y2="1"><stop offset="0" stop-color="#000099"/><stop offset="0.153" stop-color="#00009e"/><stop offset="0.407" stop-color="#0000b9"/><stop offset="0.559" stop-color="#0000d6"/><stop offset="0.695" stop-color="#0000fd"/><stop offset="1" stop-color="#0054ff"/></linearGradient><linearGradient id="b10" x2="0" y2="1"><stop offset="0" stop-color="#000099"/><stop offset="1" stop-color="#0000b1"/></linearGradient><linearGradient id="b13" x2="0" y2="1"><stop offset="0" stop-color="#000099"/><stop offset="1" stop-color="#0000aa"/></linearGradient><linearGradient id="b14" x2="0" y2="1"><stop offset="0" stop-color="#000099"/><stop offset="0.263" stop-color="#0000c7"/><stop offset="0.684" stop-color="#0001ff"/><stop offset="1" stop-color="#0052ff"/></linearGradient><linearGradient id="b15" x2="0" y2="1"><stop offset="0" stop-color="#000097"/><stop offset="0.064" stop-color="#0000c3"/><stop offset="0.179" stop-color="#0000ff"/><stop offset="0.449" stop-color="#0076ff"/><stop offset="0.808" stop-color="#00fdff"/><stop offset="0.859" stop-color="#0ffff0"/><stop offset="1" stop-color="#0ffff0"/></linearGradient><linearGradient id="b16" x2="0" y2="1"><stop offset="0" stop-color="#000099"/><stop offset="0.474" stop-color="#0000e4"/><stop offset="0.539" stop-color="#0000ff"/><stop offset="0.776" stop-color="#0040ff"/><stop offset="1" stop-color="#006fff"/></linearGradient><linearGradient id="b17" x2="0" y2="1"><stop offset="0" stop-color="#000092"/><stop offset="0.057" stop-color="#0000ba"/><stop offset="0.186" stop-color="#0005ff"/><stop offset="0.614" stop-color="#03fffc"/><stop offset="0.7" stop-color="#14ffeb"/><stop offset="1" stop-color="#36ffc9"/></linearGradient><linearGradient id="b18" x2="0" y2="1"><stop offset="0" stop-color="#00008f"/><stop offset="0.043" stop-color="#0000dd"/><stop offset="0.071" stop-color="#0006ff"/><stop offset="0.2" stop-color="#008dff"/><stop offset="0.314" stop-color="#00eeff"/><stop offset="0.343" stop-color="#06fff9"/><stop offset="0.629" stop-color="#ceff31"/><stop offset="1" stop-color="#ceff31"/></linearGradient><linearGradient id="b19" x2="0" y2="1"><stop offset="0" stop-color="#000097"/><stop offset="0.174" stop-color="#0000dd"/><stop offset="0.217" stop-color="#0000ff"/><stop offset="0.478" stop-color="#00c2ff"/><stop offset="1" stop-color="#00ebff"/></linearGradient><linearGradient id="b20" x2="0" y2="1"><stop offset="0" stop-color="#000098"/><stop offset="0.169" stop-color="#0000c4"/><stop offset="0.322" stop-color="#0000fe"/><stop offset="0.39" stop-color="#001bff"/><stop offset="0.576" stop-color="#0044ff"/><stop offset="1" stop-color="#0087ff"/></linearGradient><linearGradient id="b21" x2="0" y2="1"><stop offset="0" stop-color="#000098"/><stop offset="0.413" stop-color="#0000bf"/><stop offset="0.891" stop-color="#0000fd"/><stop offset="1" stop-color="#000dff"/></linearGradient><linearGradient id="b22" x2="0" y2="1"><stop offset="0" stop-color="#000099"/><stop offset="1" stop-color="#0000b7"/></linearGradient><linearGradient id="b91" x2="0" y2="1"><stop offset="0" stop-color="#00008f"/><stop offset="0.25" stop-color="#0000ae"/><stop offset="0.5" stop-color="#0000b8"/><stop offset="0.75" stop-color="#0000ae"/><stop offset="1" stop-color="#00008f"/></linearGradient><linearGradient id="b92" x2="0" y2="1"><stop offset="0" stop-color="#000097"/><stop offset="0.5" stop-color="#0000aa"/><stop offset="1" stop-color="#000097"/></linearGradient><linearGradient id="b119" x2="0" y2="1"><stop offset="0" stop-color="#000099"/><stop offset="1" stop-color="#000099"/></linearGradient><linearGradient id="b120" x2="0" y2="1"><stop offset="0" stop-color="#000095"/><stop offset="0.113" stop-color="#0000cd"/><stop offset="0.263" stop-color="#0000fe"/><stop offset="0.388" stop-color="#0015ff"/><stop offset="0.5" stop-color="#001cff"/><stop offset="0.613" stop-color="#0015ff"/><stop offset="0.725" stop-color="#0000ff"/><stop offset="0.887" stop-color="#0000cb"/><stop offset="1" stop-color="#00008f"/></linearGradient><linearGradient id="b121" x2="0" y2="1"><stop offset="0" stop-color="#00008f"/><stop offset="0.049" stop-color="#0000e1"/><stop offset="0.074" stop-color="#0005ff"/><stop offset="0.148" stop-color="#005eff"/><stop offset="0.222" stop-color="#00a6ff"/><stop offset="0.296" stop-color="#00deff"/><stop offset="0.358" stop-color="#02fffd"/><stop offset="0.432" stop-color="#1bffe4"/><stop offset="0.506" stop-color="#23ffdc"/><stop offset="0.58" stop-color="#1affe5"/><stop offset="0.654" stop-color="#00feff"/><stop offset="0.716" stop-color="#00daff"/><stop offset="0.79" stop-color="#00a1ff"/><stop offset="0.864" stop-color="#0058ff"/><stop offset="0.938" stop-color="#0000fc"/><stop offset="0.975" stop-color="#0000c4"/><stop offset="1" stop-color="#00008f"/></linearGradient><linearGradient id="b122" x2="0" y2="1"><stop offset="0" stop-color="#000095"/><stop offset="0.113" stop-color="#0000cd"/><stop offset="0.263" stop-color="#0000fe"/><stop offset="0.388" stop-color="#0015ff"/><stop offset="0.5" stop-color="#001cff"/><stop offset="0.613" stop-color="#0015ff"/><stop offset="0.725" stop-color="#0000ff"/><stop offset="0.887" stop-color="#0000cb"/><stop offset="1" stop-color="#00008f"/></linearGradient><linearGradient id="b123" x2="0" y2="1"><stop offset="0" stop-color="#000099"/><stop offset="0.762" stop-color="#000091"/><stop offset="0.881" stop-color="#00009c"/><stop offset="1" stop-color="#0000bb"/></linearGradient><linearGradient id="b124" x2="0" y2="1"><stop offset="0" stop-color="#000099"/><stop offset="0.17" stop-color="#00009d"/><stop offset="0.433" stop-color="#00008f"/><stop offset="0.655" stop-color="#00009f"/><stop offset="0.76" stop-color="#0000c8"/><stop offset="0.836" stop-color="#0000fd"/><stop offset="0.877" stop-color="#0029ff"/><stop offset="1" stop-color="#00c9ff"/></linearGradient><linearGradient id="b125" x2="0" y2="1"><stop offset="0" stop-color="#000095"/><stop offset="0.059" stop-color="#0000d2"/><stop offset="0.128" stop-color="#0000fd"/><stop offset="0.198" stop-color="#000eff"/><stop offset="0.267" stop-color="#0002ff"/><stop offset="0.342" stop-color="#0000d5"/><stop offset="0.385" stop-color="#0000ad"/><stop offset="0.406" stop-color="#00008f"/><stop offset="0.481" stop-color="#00008f"/><stop offset="0.626" stop-color="#0000fd"/><stop offset="0.69" stop-color="#003eff"/><stop offset="0.727" stop-color="#008eff"/><stop offset="0.77" stop-color="#00f8ff"/><stop offset="0.775" stop-color="#06fff9"/><stop offset="0.872" stop-color="#fffd00"/><stop offset="0.925" stop-color="#ff7500"/><stop offset="1" stop-color="#ff3100"/></linearGradient><linearGradient id="b126" x2="0" y2="1"><stop offset="0" stop-color="#00008f"/><stop offset="0.043" stop-color="#0001ff"/><stop offset="0.085" stop-color="#0050ff"/><stop offset="0.128" stop-color="#0089ff"/><stop offset="0.17" stop-color="#00abff"/><stop offset="0.207" stop-color="#00b4ff"/><stop offset="0.245" stop-color="#00a9ff"/><stop offset="0.287" stop-color="#0086ff"/><stop offset="0.33" stop-color="#004cff"/><stop offset="0.367" stop-color="#0006ff"/><stop offset="0.388" stop-color="#0000d4"/><stop offset="0.41" stop-color="#00008f"/><stop offset="0.484" stop-color="#00008f"/><stop offset="0.516" stop-color="#0000f4"/><stop offset="0.521" stop-color="#0003ff"/><stop offset="0.58" stop-color="#008fff"/><stop offset="0.633" stop-color="#05fffa"/><stop offset="0.734" stop-color="#d2ff2d"/><stop offset="0.761" stop-color="#fff800"/><stop offset="0.894" stop-color="#fe0000"/><stop offset="0.926" stop-color="#c60000"/><stop offset="1" stop-color="#c60000"/></linearGradient><linearGradient id="b127" x2="0" y2="1"><stop offset="0" stop-color="#000098"/><stop offset="0.102" stop-color="#0000d1"/><stop offset="0.204" stop-color="#0000e2"/><stop offset="0.312" stop-color="#0000c9"/><stop offset="0.366" stop-color="#0000ad"/><stop offset="0.403" stop-color="#00008f"/><stop offset="0.478" stop-color="#00008f"/><stop offset="0.516" stop-color="#0000c8"/><stop offset="0.575" stop-color="#0000ff"/><stop offset="0.688" stop-color="#003eff"/><stop offset="0.833" stop-color="#00faff"/><stop offset="0.925" stop-color="#7bff84"/><stop offset="1" stop-color="#9eff61"/></linearGradient><linearGradient id="b128" x2="0" y2="1"><stop offset="0" stop-color="#000099"/><stop offset="0.326" stop-color="#0000a0"/><stop offset="0.453" stop-color="#0000ab"/><stop offset="0.674" stop-color="#0000c6"/><stop offset="1" stop-color="#0000fc"/></linearGradient><linearGradient id="b136" x2="0" y2="1"><stop offset="0" stop-color="#000099"/><stop offset="0.219" stop-color="#0000a6"/><stop offset="1" stop-color="#0000a6"/></linearGradient><linearGradient id="b137" x2="0" y2="1"><stop offset="0" stop-color="#000094"/><stop offset="0.084" stop-color="#0000c0"/><stop offset="0.243" stop-color="#0000ff"/><stop offset="0.299" stop-color="#0013ff"/><stop offset="1" stop-color="#0013ff"/></linearGradient><linearGradient id="b138" x2="0" y2="1"><stop offset="0" stop-color="#000094"/><stop offset="0.084" stop-color="#0000c0"/><stop offset="0.243" stop-color="#0000ff"/><stop offset="0.299" stop-color="#0013ff"/><stop offset="1" stop-color="#0013ff"/></linearGradient><linearGradient id="b139" x2="0" y2="1"><stop offset="0" stop-color="#000099"/><stop offset="0.219" stop-color="#0000a6"/><stop offset="1" stop-color="#0000a6"/></linearGradient><linearGradient id="b176" x2="0" y2="1"><stop offset="0" stop-color="#000096"/><stop offset="0.237" stop-color="#0000ae"/><stop offset="0.5" stop-color="#0000b7"/><stop offset="0.737" stop-color="#0000b0"/><stop offset="1" stop-color="#000098"/></linearGradient><linearGradient id="b177" x2="0" y2="1"><stop offset="0" stop-color="#000094"/><stop offset="0.25" stop-color="#0000bd"/><stop offset="0.5" stop-color="#0000cc"/><stop offset="0.75" stop-color="#0000bf"/><stop offset="1" stop-color="#000097"/></linearGradient><linearGradient id="b178" x2="0" y2="1"><stop offset="0" stop-color="#000099"/><stop offset="1" stop-color="#000099"/></linearGradient><linearGradient id="b181" x2="0" y2="1"><stop offset="0" stop-color="#000098"/><stop offset="0.389" stop-color="#0000c3"/><stop offset="1" stop-color="#0000c3"/></linearGradient><linearGradient id="b182" x2="0" y2="1"><stop offset="0" stop-color="#000097"/><stop offset="0.135" stop-color="#0000c5"/><stop offset="0.351" stop-color="#0000fd"/><stop offset="0.405" stop-color="#0009ff"/><stop offset="1" stop-color="#0009ff"/></linearGradient><linearGradient id="b183" x2="0" y2="1"><stop offset="0" stop-color="#000097"/><stop offset="0.371" stop-color="#0000b2"/><stop offset="1" stop-color="#0000b2"/></linearGradient><linearGradient id="b184" x2="0" y2="1"><stop offset="0" stop-color="#000099"/><stop offset="1" stop-color="#0000b3"/></linearGradient><linearGradient id="b185" x2="0" y2="1"><stop offset="0" stop-color="#000099"/><stop offset="0.259" stop-color="#0000be"/><stop offset="0.556" stop-color="#0000ff"/><stop offset="0.694" stop-color="#0026ff"/><stop offset="0.778" stop-color="#004cff"/><stop offset="1" stop-color="#006dff"/></linearGradient><linearGradient id="b186" x2="0" y2="1"><stop offset="0" stop-color="#000099"/><stop offset="0.168" stop-color="#0000bf"/><stop offset="0.354" stop-color="#0000fe"/><stop offset="0.549" stop-color="#0054ff"/><stop offset="0.788" stop-color="#00d2ff"/><stop offset="1" stop-color="#00d2ff"/></linearGradient><linearGradient id="b187" x2="0" y2="1"><stop offset="0" stop-color="#000099"/><stop offset="0.521" stop-color="#0000c3"/><stop offset="1" stop-color="#0005ff"/></linearGradient><linearGradient id="b188" x2="0" y2="1"><stop offset="0" stop-color="#000099"/><stop offset="1" stop-color="#00009c"/></linearGradient><linearGradient id="b201" x2="0" y2="1"><stop offset="0" stop-color="#000099"/><stop offset="1" stop-color="#0000a0"/></linearGradient><linearGradient id="b202" x2="0" y2="1"><stop offset="0" stop-color="#000099"/><stop offset="0.75" stop-color="#0000e2"/><stop offset="0.868" stop-color="#0000ff"/><stop offset="1" stop-color="#0022ff"/></linearGradient><linearGradient id="b203" x2="0" y2="1"><stop offset="0" stop-color="#000097"/><stop offset="0.288" stop-color="#0003ff"/><stop offset="0.945" stop-color="#00f6ff"/><stop offset="1" stop-color="#00faff"/></linearGradient><linearGradient id="b204" x2="0" y2="1"><stop offset="0" stop-color="#000099"/><stop offset="0.671" stop-color="#0001ff"/><stop offset="0.757" stop-color="#000fff"/><stop offset="0.957" stop-color="#0056ff"/><stop offset="1" stop-color="#005eff"/></linearGradient><linearGradient id="b205" x2="0" y2="1"><stop offset="0" stop-color="#000099"/><stop offset="1" stop-color="#0000ad"/></linearGradient><linearGradient id="b208" x2="0" y2="1"><stop offset="0" stop-color="#000099"/><stop offset="1" stop-color="#00009f"/></linearGradient><linearGradient id="b209" x2="0" y2="1"><stop offset="0" stop-color="#000098"/><stop offset="0.28" stop-color="#0000c5"/><stop offset="0.74" stop-color="#0000ff"/><stop offset="1" stop-color="#0007ff"/></linearGradient><linearGradient id="b210" x2="0" y2="1"><stop offset="0" stop-color="#000096"/><stop offset="0.118" stop-color="#0000c1"/><stop offset="0.333" stop-color="#0000fe"/><stop offset="0.804" stop-color="#006dff"/><stop offset="1" stop-color="#006dff"/></linearGradient><linearGradient id="b211" x2="0" y2="1"><stop offset="0" stop-color="#000098"/><stop offset="0.787" stop-color="#0000c4"/><stop offset="1" stop-color="#0000c4"/></linearGradient><linearGradient id="b213" x2="0" y2="1"><stop offset="0" stop-color="#000099"/><stop offset="1" stop-color="#0000b4"/></linearGradient><linearGradient id="b214" x2="0" y2="1"><stop offset="0" stop-color="#000097"/><stop offset="0.372" stop-color="#0000ff"/><stop offset="0.745" stop-color="#0073ff"/><stop offset="0.904" stop-color="#0073ff"/><stop offset="1" stop-color="#0081ff"/></linearGradient><linearGradient id="b215" x2="0" y2="1"><stop offset="0" stop-color="#000098"/><stop offset="0.253" stop-color="#0000ff"/><stop offset="0.747" stop-color="#00e6ff"/><stop offset="1" stop-color="#00e6ff"/></linearGradient><linearGradient id="b216" x2="0" y2="1"><stop offset="0" stop-color="#000099"/><stop offset="0.718" stop-color="#0000d6"/><stop offset="1" stop-color="#0000dd"/></linearGradient><linearGradient id="b219" x2="0" y2="1"><stop offset="0" stop-color="#000099"/><stop offset="1" stop-color="#00009d"/></linearGradient><linearGradient id="b220" x2="0" y2="1"><stop offset="0" stop-color="#000098"/><stop offset="0.488" stop-color="#0000dc"/><stop offset="0.721" stop-color="#0000e9"/><stop offset="0.86" stop-color="#0000fc"/><stop offset="1" stop-color="#0015ff"/></linearGradient><linearGradient id="b221" x2="0" y2="1"><stop offset="0" stop-color="#00008f"/><stop offset="0.111" stop-color="#0000e8"/><stop offset="0.156" stop-color="#0007ff"/><stop offset="0.356" stop-color="#007fff"/><stop offset="0.6" stop-color="#00feff"/><stop offset="1" stop-color="#05fffa"/></linearGradient><linearGradient id="b222" x2="0" y2="1"><stop offset="0" stop-color="#000098"/><stop offset="0.136" stop-color="#0000cf"/><stop offset="0.295" stop-color="#0003ff"/><stop offset="0.591" stop-color="#0055ff"/><stop offset="0.705" stop-color="#0058ff"/><stop offset="1" stop-color="#008fff"/></linearGradient><linearGradient id="b223" x2="0" y2="1"><stop offset="0" stop-color="#000099"/><stop offset="1" stop-color="#0000b9"/></linearGradient><linearGradient id="b225" x2="0" y2="1"><stop offset="0" stop-color="#00008f"/><stop offset="0.5" stop-color="#0000be"/><stop offset="1" stop-color="#0000c1"/></linearGradient><linearGradient id="b226" x2="0" y2="1"><stop offset="0" stop-color="#00008f"/><stop offset="0.5" stop-color="#0000c9"/><stop offset="1" stop-color="#0000cc"/></linearGradient><linearGradient id="b227" x2="0" y2="1"><stop offset="0" stop-color="#000098"/><stop offset="1" stop-color="#00009b"/></linearGradient><linearGradient id="b241" x2="0" y2="1"><stop offset="0" stop-color="#000099"/><stop offset="1" stop-color="#00009b"/></linearGradient><linearGradient id="b242" x2="0" y2="1"><stop offset="0" stop-color="#00008f"/><stop offset="0.5" stop-color="#0000ca"/><stop offset="1" stop-color="#0000cc"/></linearGradient><linearGradient id="b243" x2="0" y2="1"><stop offset="0" stop-color="#00008f"/><stop offset="0.5" stop-color="#0000bf"/><stop offset="1" stop-color="#0000c1"/></linearGradient><linearGradient id="b311" x2="0" y2="1"><stop offset="0" stop-color="#000099"/><stop offset="0.259" stop-color="#0000b3"/><stop offset="0.5" stop-color="#0000bb"/><stop offset="0.741" stop-color="#0000b3"/><stop offset="1" stop-color="#000099"/></linearGradient><linearGradient id="b312" x2="0" y2="1"><stop offset="0" stop-color="#000099"/><stop offset="0.103" stop-color="#0000bc"/><stop offset="0.241" stop-color="#0000dc"/><stop offset="0.5" stop-color="#0000f4"/><stop offset="0.759" stop-color="#0000dc"/><stop offset="0.897" stop-color="#0000bc"/><stop offset="1" stop-color="#000099"/></linearGradient><linearGradient id="b313" x2="0" y2="1"><stop offset="0" stop-color="#000099"/><stop offset="0.5" stop-color="#0000ac"/><stop offset="1" stop-color="#000099"/></linearGradient><linearGradient id="b332" x2="0" y2="1"><stop offset="0" stop-color="#000099"/><stop offset="1" stop-color="#0000ac"/></linearGradient><linearGradient id="b333" x2="0" y2="1"><stop offset="0" stop-color="#000099"/><stop offset="0.485" stop-color="#0000b5"/><stop offset="1" stop-color="#0006ff"/></linearGradient><linearGradient id="b334" x2="0" y2="1"><stop offset="0" stop-color="#000096"/><stop offset="0.163" stop-color="#0000b8"/><stop offset="0.453" stop-color="#0000d5"/><stop offset="0.616" stop-color="#0001ff"/><stop offset="1" stop-color="#00a4ff"/></linearGradient><linearGradient id="b335" x2="0" y2="1"><stop offset="0" stop-color="#000097"/><stop offset="0.115" stop-color="#0000ff"/><stop offset="0.448" stop-color="#01fffe"/><stop offset="0.552" stop-color="#4bffb4"/><stop offset="0.632" stop-color="#31ffce"/><stop offset="0.724" stop-color="#24ffdb"/><stop offset="1" stop-color="#29ffd6"/></linearGradient><linearGradient id="b336" x2="0" y2="1"><stop offset="0" stop-color="#000096"/><stop offset="0.116" stop-color="#0000c6"/><stop offset="0.221" stop-color="#0000ff"/><stop offset="0.372" stop-color="#0076ff"/><stop offset="0.442" stop-color="#00bfff"/><stop offset="0.488" stop-color="#00ffff"/><stop offset="0.547" stop-color="#49ffb6"/><stop offset="0.558" stop-color="#4bffb4"/><stop offset="1" stop-color="#4bffb4"/></linearGradient><linearGradient id="b337" x2="0" y2="1"><stop offset="0" stop-color="#000099"/><stop offset="0.382" stop-color="#0000b0"/><stop offset="0.494" stop-color="#0000ca"/><stop offset="0.584" stop-color="#0000fb"/><stop offset="0.618" stop-color="#0013ff"/><stop offset="0.764" stop-color="#0091ff"/><stop offset="0.854" stop-color="#00d1ff"/><stop offset="0.944" stop-color="#00ffff"/><stop offset="1" stop-color="#14ffeb"/></linearGradient><linearGradient id="b338" x2="0" y2="1"><stop offset="0" stop-color="#000096"/><stop offset="0.073" stop-color="#0000c9"/><stop offset="0.177" stop-color="#0002ff"/><stop offset="0.302" stop-color="#003bff"/><stop offset="0.917" stop-color="#003bff"/><stop offset="1" stop-color="#0081ff"/></linearGradient><linearGradient id="b339" x2="0" y2="1"><stop offset="0" stop-color="#000096"/><stop offset="0.073" stop-color="#0000c9"/><stop offset="0.177" stop-color="#0002ff"/><stop offset="0.302" stop-color="#003bff"/><stop offset="1" stop-color="#003bff"/></linearGradient><linearGradient id="b340" x2="0" y2="1"><stop offset="0" stop-color="#000099"/><stop offset="0.247" stop-color="#0000ac"/><stop offset="1" stop-color="#0000ac"/></linearGradient><linearGradient id="b341" x2="0" y2="1"><stop offset="0" stop-color="#000099"/><stop offset="1" stop-color="#00009f"/></linearGradient><linearGradient id="b342" x2="0" y2="1"><stop offset="0" stop-color="#000095"/><stop offset="0.125" stop-color="#0000c6"/><stop offset="0.306" stop-color="#0000fa"/><stop offset="1" stop-color="#0000fa"/></linearGradient><linearGradient id="b343" x2="0" y2="1"><stop offset="0" stop-color="#000097"/><stop offset="0.083" stop-color="#0000cc"/><stop offset="0.194" stop-color="#0004ff"/><stop offset="0.306" stop-color="#0031ff"/><stop offset="1" stop-color="#0031ff"/></linearGradient><linearGradient id="b344" x2="0" y2="1"><stop offset="0" stop-color="#000099"/><stop offset="0.265" stop-color="#0000b1"/><stop offset="1" stop-color="#0000b1"/></linearGradient></defs>
<rect x="900" y="505.5" width="1" height="11" fill="url(#b4)"/><rect x="901" y="469.5" width="1" height="47" fill="url(#b5)"/><rect x="902" y="443.5" width="1" height="73" fill="url(#b6)"/><rect x="903" y="442.5" width="1" height="74" fill="url(#b7)"/><rect x="904" y="443.5" width="1" height="73" fill="url(#b8)"/><rect x="905" y="456.5" width="1" height="60" fill="url(#b9)"/><rect x="906" y="497.5" width="1" height="19" fill="url(#b10)"/><rect x="909" y="488.5" width="1" height="28" fill="url(#b13)"/><rect x="910" y="439.5" width="1" height="77" fill="url(#b14)"/><rect x="911" y="437.5" width="1" height="79" fill="url(#b15)"/><rect x="912" y="439.5" width="1" height="77" fill="url(#b16)"/><rect x="913" y="445.5" width="1" height="71" fill="url(#b17)"/><rect x="914" y="445.5" width="1" height="71" fill="url(#b18)"/><rect x="915" y="446.5" width="1" height="70" fill="url(#b19)"/><rect x="916" y="456.5" width="1" height="60" fill="url(#b20)"/><rect x="917" y="469.5" width="1" height="47" fill="url(#b21)"/><rect x="918" y="493.5" width="1" height="23" fill="url(#b22)"/><rect x="987" y="454.5" width="1" height="17" fill="url(#b91)"/><rect x="988" y="455.5" width="1" height="15" fill="url(#b92)"/><rect x="1015" y="355.5" width="1" height="41" fill="url(#b119)"/><rect x="1016" y="335.5" width="1" height="81" fill="url(#b120)"/><rect x="1017" y="334.5" width="1" height="82" fill="url(#b121)"/><rect x="1018" y="335.5" width="1" height="81" fill="url(#b122)"/><rect x="1019" y="355.5" width="1" height="161" fill="url(#b123)"/><rect x="1020" y="344.5" width="1" height="172" fill="url(#b124)"/><rect x="1021" y="328.5" width="1" height="188" fill="url(#b125)"/><rect x="1022" y="327.5" width="1" height="189" fill="url(#b126)"/><rect x="1023" y="329.5" width="1" height="187" fill="url(#b127)"/><rect x="1024" y="429.5" width="1" height="87" fill="url(#b128)"/><rect x="1032" y="419.5" width="1" height="97" fill="url(#b136)"/><rect x="1033" y="408.5" width="1" height="108" fill="url(#b137)"/><rect x="1034" y="408.5" width="1" height="108" fill="url(#b138)"/><rect x="1035" y="419.5" width="1" height="97" fill="url(#b139)"/><rect x="1072" y="463.5" width="1" height="39" fill="url(#b176)"/><rect x="1073" y="462.5" width="1" height="41" fill="url(#b177)"/><rect x="1074" y="473.5" width="1" height="20" fill="url(#b178)"/><rect x="1077" y="479.5" width="1" height="37" fill="url(#b181)"/><rect x="1078" y="478.5" width="1" height="38" fill="url(#b182)"/><rect x="1079" y="480.5" width="1" height="36" fill="url(#b183)"/><rect x="1080" y="451.5" width="1" height="65" fill="url(#b184)"/><rect x="1081" y="407.5" width="1" height="109" fill="url(#b185)"/><rect x="1082" y="402.5" width="1" height="114" fill="url(#b186)"/><rect x="1083" y="419.5" width="1" height="97" fill="url(#b187)"/><rect x="1084" y="507.5" width="1" height="9" fill="url(#b188)"/><rect x="1097" y="505.5" width="1" height="11" fill="url(#b201)"/><rect x="1098" y="447.5" width="1" height="69" fill="url(#b202)"/><rect x="1099" y="442.5" width="1" height="74" fill="url(#b203)"/><rect x="1100" y="445.5" width="1" height="71" fill="url(#b204)"/><rect x="1101" y="481.5" width="1" height="35" fill="url(#b205)"/><rect x="1104" y="487.5" width="1" height="29" fill="url(#b208)"/><rect x="1105" y="465.5" width="1" height="51" fill="url(#b209)"/><rect x="1106" y="464.5" width="1" height="52" fill="url(#b210)"/><rect x="1107" y="468.5" width="1" height="48" fill="url(#b211)"/><rect x="1109" y="442.5" width="1" height="74" fill="url(#b213)"/><rect x="1110" y="421.5" width="1" height="95" fill="url(#b214)"/><rect x="1111" y="420.5" width="1" height="96" fill="url(#b215)"/><rect x="1112" y="430.5" width="1" height="86" fill="url(#b216)"/><rect x="1115" y="510.5" width="1" height="6" fill="url(#b219)"/><rect x="1116" y="472.5" width="1" height="44" fill="url(#b220)"/><rect x="1117" y="470.5" width="1" height="46" fill="url(#b221)"/><rect x="1118" y="471.5" width="1" height="45" fill="url(#b222)"/><rect x="1119" y="478.5" width="1" height="38" fill="url(#b223)"/><rect x="1121" y="507.5" width="1" height="9" fill="url(#b225)"/><rect x="1122" y="507.5" width="1" height="9" fill="url(#b226)"/><rect x="1123" y="510.5" width="1" height="6" fill="url(#b227)"/><rect x="1137" y="508.5" width="1" height="8" fill="url(#b241)"/><rect x="1138" y="503.5" width="1" height="13" fill="url(#b242)"/><rect x="1139" y="503.5" width="1" height="13" fill="url(#b243)"/><rect x="1207" y="420.5" width="1" height="55" fill="url(#b311)"/><rect x="1208" y="418.5" width="1" height="59" fill="url(#b312)"/><rect x="1209" y="422.5" width="1" height="51" fill="url(#b313)"/><rect x="1228" y="506.5" width="1" height="10" fill="url(#b332)"/><rect x="1229" y="482.5" width="1" height="34" fill="url(#b333)"/><rect x="1230" y="429.5" width="1" height="87" fill="url(#b334)"/><rect x="1231" y="428.5" width="1" height="88" fill="url(#b335)"/><rect x="1232" y="429.5" width="1" height="87" fill="url(#b336)"/><rect x="1233" y="426.5" width="1" height="90" fill="url(#b337)"/><rect x="1234" y="419.5" width="1" height="97" fill="url(#b338)"/><rect x="1235" y="419.5" width="1" height="97" fill="url(#b339)"/><rect x="1236" y="426.5" width="1" height="90" fill="url(#b340)"/><rect x="1237" y="455.5" width="1" height="61" fill="url(#b341)"/><rect x="1238" y="443.5" width="1" height="73" fill="url(#b342)"/><rect x="1239" y="443.5" width="1" height="73" fill="url(#b343)"/><rect x="1240" y="447.5" width="1" height="69" fill="url(#b344)"/>
<rect x="895.5" y="589.5" width="524.5" height="189.0" fill="#00008f"/>
<defs><linearGradient id="c6" x2="0" y2="1"><stop offset="0" stop-color="#000095"/><stop offset="0.395" stop-color="#0000cf"/><stop offset="0.744" stop-color="#0000d0"/><stop offset="1" stop-color="#0000e3"/></linearGradient><linearGradient id="c7" x2="0" y2="1"><stop offset="0" stop-color="#00008f"/><stop offset="0.068" stop-color="#0000d5"/><stop offset="0.114" stop-color="#0000f8"/><stop offset="0.136" stop-color="#0009ff"/><stop offset="0.25" stop-color="#004dff"/><stop offset="0.409" stop-color="#009eff"/><stop offset="1" stop-color="#00a0ff"/></linearGradient><linearGradient id="c8" x2="0" y2="1"><stop offset="0" stop-color="#00008f"/><stop offset="0.114" stop-color="#0000c7"/><stop offset="0.295" stop-color="#0003ff"/><stop offset="0.409" stop-color="#0021ff"/><stop offset="0.75" stop-color="#0023ff"/><stop offset="1" stop-color="#003eff"/></linearGradient><linearGradient id="c9" x2="0" y2="1"><stop offset="0" stop-color="#000099"/><stop offset="1" stop-color="#0000a9"/></linearGradient><linearGradient id="c16" x2="0" y2="1"><stop offset="0" stop-color="#000099"/><stop offset="0.361" stop-color="#0000b8"/><stop offset="1" stop-color="#0000bb"/></linearGradient><linearGradient id="c17" x2="0" y2="1"><stop offset="0" stop-color="#00008f"/><stop offset="0.026" stop-color="#0000b0"/><stop offset="0.053" stop-color="#0000c4"/><stop offset="0.158" stop-color="#0003ff"/><stop offset="0.342" stop-color="#0055ff"/><stop offset="0.421" stop-color="#006dff"/><stop offset="1" stop-color="#006dff"/></linearGradient><linearGradient id="c18" x2="0" y2="1"><stop offset="0" stop-color="#00008f"/><stop offset="0.026" stop-color="#0000aa"/><stop offset="0.079" stop-color="#0000c9"/><stop offset="0.211" stop-color="#0002ff"/><stop offset="0.421" stop-color="#0045ff"/><stop offset="1" stop-color="#004aff"/></linearGradient><linearGradient id="c19" x2="0" y2="1"><stop offset="0" stop-color="#000098"/><stop offset="0.343" stop-color="#0000ab"/><stop offset="1" stop-color="#0000ae"/></linearGradient><linearGradient id="c90" x2="0" y2="1"><stop offset="0" stop-color="#000098"/><stop offset="0.071" stop-color="#0000a1"/><stop offset="0.156" stop-color="#00008f"/><stop offset="0.404" stop-color="#00008f"/><stop offset="0.589" stop-color="#0000bd"/><stop offset="1" stop-color="#0000bd"/></linearGradient><linearGradient id="c91" x2="0" y2="1"><stop offset="0" stop-color="#000095"/><stop offset="0.042" stop-color="#0000b6"/><stop offset="0.083" stop-color="#0000c2"/><stop offset="0.132" stop-color="#0000b4"/><stop offset="0.174" stop-color="#00008f"/><stop offset="0.417" stop-color="#00008f"/><stop offset="0.472" stop-color="#0000c7"/><stop offset="0.562" stop-color="#0001ff"/><stop offset="0.597" stop-color="#0013ff"/><stop offset="1" stop-color="#0013ff"/></linearGradient><linearGradient id="c92" x2="0" y2="1"><stop offset="0" stop-color="#000098"/><stop offset="0.071" stop-color="#0000a1"/><stop offset="0.156" stop-color="#00008f"/><stop offset="0.404" stop-color="#00008f"/><stop offset="0.589" stop-color="#0000bd"/><stop offset="1" stop-color="#0000bd"/></linearGradient><linearGradient id="c124" x2="0" y2="1"><stop offset="0" stop-color="#000099"/><stop offset="0.556" stop-color="#0000b1"/><stop offset="0.84" stop-color="#0000d7"/><stop offset="1" stop-color="#0000fa"/></linearGradient><linearGradient id="c125" x2="0" y2="1"><stop offset="0" stop-color="#00008f"/><stop offset="0.065" stop-color="#0000c0"/><stop offset="0.183" stop-color="#0000fe"/><stop offset="0.602" stop-color="#00b1ff"/><stop offset="0.656" stop-color="#00e1ff"/><stop offset="0.699" stop-color="#00fbff"/><stop offset="0.86" stop-color="#51ffae"/><stop offset="1" stop-color="#89ff76"/></linearGradient><linearGradient id="c126" x2="0" y2="1"><stop offset="0" stop-color="#00008f"/><stop offset="0.022" stop-color="#0000be"/><stop offset="0.065" stop-color="#0000ff"/><stop offset="0.183" stop-color="#0092ff"/><stop offset="0.29" stop-color="#06fff9"/><stop offset="0.548" stop-color="#fdff02"/><stop offset="0.656" stop-color="#ffa400"/><stop offset="1" stop-color="#ffa400"/></linearGradient><linearGradient id="c127" x2="0" y2="1"><stop offset="0" stop-color="#000097"/><stop offset="0.109" stop-color="#0000c3"/><stop offset="0.304" stop-color="#0000ff"/><stop offset="0.609" stop-color="#0051ff"/><stop offset="0.652" stop-color="#006fff"/><stop offset="0.924" stop-color="#01fffe"/><stop offset="1" stop-color="#26ffd9"/></linearGradient><linearGradient id="c128" x2="0" y2="1"><stop offset="0" stop-color="#000099"/><stop offset="0.333" stop-color="#00009d"/><stop offset="1" stop-color="#0000d5"/></linearGradient><linearGradient id="c136" x2="0" y2="1"><stop offset="0" stop-color="#000099"/><stop offset="1" stop-color="#0000ad"/></linearGradient><linearGradient id="c137" x2="0" y2="1"><stop offset="0" stop-color="#000098"/><stop offset="0.164" stop-color="#0000ad"/><stop offset="0.336" stop-color="#0000a6"/><stop offset="0.514" stop-color="#0000fe"/><stop offset="0.65" stop-color="#003dff"/><stop offset="0.879" stop-color="#003eff"/><stop offset="1" stop-color="#006aff"/></linearGradient><linearGradient id="c138" x2="0" y2="1"><stop offset="0" stop-color="#000098"/><stop offset="0.084" stop-color="#0000be"/><stop offset="0.175" stop-color="#0000d3"/><stop offset="0.259" stop-color="#0000d4"/><stop offset="0.35" stop-color="#0000c3"/><stop offset="0.399" stop-color="#0001ff"/><stop offset="0.629" stop-color="#04fffb"/><stop offset="0.664" stop-color="#23ffdc"/><stop offset="1" stop-color="#23ffdc"/></linearGradient><linearGradient id="c139" x2="0" y2="1"><stop offset="0" stop-color="#000099"/><stop offset="0.154" stop-color="#0000a3"/><stop offset="0.316" stop-color="#00009e"/><stop offset="0.632" stop-color="#0000fe"/><stop offset="0.875" stop-color="#0002ff"/><stop offset="1" stop-color="#0027ff"/></linearGradient><linearGradient id="c140" x2="0" y2="1"><stop offset="0" stop-color="#000099"/><stop offset="1" stop-color="#00009f"/></linearGradient><linearGradient id="c157" x2="0" y2="1"><stop offset="0" stop-color="#000098"/><stop offset="0.378" stop-color="#0000b9"/><stop offset="1" stop-color="#0000b9"/></linearGradient><linearGradient id="c158" x2="0" y2="1"><stop offset="0" stop-color="#00008f"/><stop offset="0.128" stop-color="#0000c2"/><stop offset="0.359" stop-color="#0000fc"/><stop offset="0.436" stop-color="#0009ff"/><stop offset="1" stop-color="#0009ff"/></linearGradient><linearGradient id="c159" x2="0" y2="1"><stop offset="0" stop-color="#000098"/><stop offset="0.378" stop-color="#0000b9"/><stop offset="1" stop-color="#0000b9"/></linearGradient><linearGradient id="c181" x2="0" y2="1"><stop offset="0" stop-color="#000099"/><stop offset="0.714" stop-color="#0000c5"/><stop offset="1" stop-color="#0000eb"/></linearGradient><linearGradient id="c182" x2="0" y2="1"><stop offset="0" stop-color="#000099"/><stop offset="0.345" stop-color="#0000bc"/><stop offset="0.455" stop-color="#0000d8"/><stop offset="0.545" stop-color="#0000fd"/><stop offset="0.655" stop-color="#003dff"/><stop offset="0.745" stop-color="#008aff"/><stop offset="1" stop-color="#008bff"/></linearGradient><linearGradient id="c183" x2="0" y2="1"><stop offset="0" stop-color="#000099"/><stop offset="0.134" stop-color="#0000ba"/><stop offset="0.284" stop-color="#0000ff"/><stop offset="0.791" stop-color="#008bff"/><stop offset="0.881" stop-color="#004dff"/><stop offset="1" stop-color="#001cff"/></linearGradient><linearGradient id="c184" x2="0" y2="1"><stop offset="0" stop-color="#000099"/><stop offset="0.286" stop-color="#0000f7"/><stop offset="0.6" stop-color="#0000c6"/><stop offset="0.8" stop-color="#0000ba"/><stop offset="1" stop-color="#0000a3"/></linearGradient><linearGradient id="c185" x2="0" y2="1"><stop offset="0" stop-color="#000099"/><stop offset="0.571" stop-color="#0000a1"/><stop offset="1" stop-color="#000099"/></linearGradient><linearGradient id="c203" x2="0" y2="1"><stop offset="0" stop-color="#000099"/><stop offset="1" stop-color="#0000a2"/></linearGradient><linearGradient id="c204" x2="0" y2="1"><stop offset="0" stop-color="#000097"/><stop offset="0.5" stop-color="#0000ea"/><stop offset="1" stop-color="#0000ea"/></linearGradient><linearGradient id="c205" x2="0" y2="1"><stop offset="0" stop-color="#000095"/><stop offset="0.5" stop-color="#0000cb"/><stop offset="1" stop-color="#0000cb"/></linearGradient><linearGradient id="c209" x2="0" y2="1"><stop offset="0" stop-color="#000099"/><stop offset="0.458" stop-color="#0000c6"/><stop offset="1" stop-color="#0000c8"/></linearGradient><linearGradient id="c210" x2="0" y2="1"><stop offset="0" stop-color="#000099"/><stop offset="0.16" stop-color="#0000c7"/><stop offset="0.4" stop-color="#0000fd"/><stop offset="0.52" stop-color="#0013ff"/><stop offset="1" stop-color="#0013ff"/></linearGradient><linearGradient id="c211" x2="0" y2="1"><stop offset="0" stop-color="#000099"/><stop offset="0.435" stop-color="#0000b3"/><stop offset="1" stop-color="#0000b4"/></linearGradient><linearGradient id="c213" x2="0" y2="1"><stop offset="0" stop-color="#000099"/><stop offset="1" stop-color="#00009b"/></linearGradient><linearGradient id="c214" x2="0" y2="1"><stop offset="0" stop-color="#000095"/><stop offset="0.476" stop-color="#0000d3"/><stop offset="1" stop-color="#0000d6"/></linearGradient><linearGradient id="c215" x2="0" y2="1"><stop offset="0" stop-color="#000095"/><stop offset="0.476" stop-color="#0000d3"/><stop offset="1" stop-color="#0000d6"/></linearGradient><linearGradient id="c216" x2="0" y2="1"><stop offset="0" stop-color="#000099"/><stop offset="1" stop-color="#00009b"/></linearGradient><linearGradient id="c331" x2="0" y2="1"><stop offset="0" stop-color="#000099"/><stop offset="1" stop-color="#0000ad"/></linearGradient><linearGradient id="c332" x2="0" y2="1"><stop offset="0" stop-color="#000099"/><stop offset="1" stop-color="#0000dd"/></linearGradient><linearGradient id="c333" x2="0" y2="1"><stop offset="0" stop-color="#000099"/><stop offset="0.222" stop-color="#0000a1"/><stop offset="0.556" stop-color="#0000e7"/><stop offset="0.741" stop-color="#0000fd"/><stop offset="1" stop-color="#0014ff"/></linearGradient><linearGradient id="c334" x2="0" y2="1"><stop offset="0" stop-color="#000098"/><stop offset="0.279" stop-color="#0000ff"/><stop offset="0.515" stop-color="#0048ff"/><stop offset="0.75" stop-color="#00faff"/><stop offset="1" stop-color="#4affb5"/></linearGradient><linearGradient id="c335" x2="0" y2="1"><stop offset="0" stop-color="#00008f"/><stop offset="0.058" stop-color="#0000d1"/><stop offset="0.116" stop-color="#0007ff"/><stop offset="0.435" stop-color="#00fdff"/><stop offset="0.754" stop-color="#d7ff28"/><stop offset="1" stop-color="#d8ff27"/></linearGradient><linearGradient id="c336" x2="0" y2="1"><stop offset="0" stop-color="#000095"/><stop offset="0.338" stop-color="#0000e5"/><stop offset="0.471" stop-color="#0000ff"/><stop offset="0.515" stop-color="#0009ff"/><stop offset="0.618" stop-color="#0040ff"/><stop offset="0.75" stop-color="#009cff"/><stop offset="0.912" stop-color="#00e2ff"/><stop offset="1" stop-color="#04fffb"/></linearGradient><linearGradient id="c337" x2="0" y2="1"><stop offset="0" stop-color="#000099"/><stop offset="0.531" stop-color="#0000b6"/><stop offset="1" stop-color="#0000e1"/></linearGradient><linearGradient id="c338" x2="0" y2="1"><stop offset="0" stop-color="#000099"/><stop offset="1" stop-color="#0000ad"/></linearGradient><linearGradient id="c339" x2="0" y2="1"><stop offset="0" stop-color="#000099"/><stop offset="0.286" stop-color="#0000c4"/><stop offset="1" stop-color="#0000c4"/></linearGradient><linearGradient id="c340" x2="0" y2="1"><stop offset="0" stop-color="#00008f"/><stop offset="0.025" stop-color="#0000aa"/><stop offset="0.063" stop-color="#0000c2"/><stop offset="0.203" stop-color="#0002ff"/><stop offset="0.304" stop-color="#0027ff"/><stop offset="1" stop-color="#0027ff"/></linearGradient><linearGradient id="c341" x2="0" y2="1"><stop offset="0" stop-color="#000099"/><stop offset="0.286" stop-color="#0000c4"/><stop offset="1" stop-color="#0000c4"/></linearGradient><linearGradient id="c342" x2="0" y2="1"><stop offset="0" stop-color="#000093"/><stop offset="0.082" stop-color="#0000c4"/><stop offset="0.246" stop-color="#0001ff"/><stop offset="0.361" stop-color="#0021ff"/><stop offset="0.672" stop-color="#0000ff"/><stop offset="1" stop-color="#0000dc"/></linearGradient><linearGradient id="c343" x2="0" y2="1"><stop offset="0" stop-color="#00008f"/><stop offset="0.033" stop-color="#0000c3"/><stop offset="0.098" stop-color="#0000fe"/><stop offset="0.246" stop-color="#0063ff"/><stop offset="0.361" stop-color="#009eff"/><stop offset="1" stop-color="#001fff"/></linearGradient><linearGradient id="c344" x2="0" y2="1"><stop offset="0" stop-color="#000097"/><stop offset="0.35" stop-color="#0000cf"/><stop offset="1" stop-color="#0000b1"/></linearGradient></defs>
<rect x="902" y="734.5" width="1" height="44" fill="url(#c6)"/><rect x="903" y="733.5" width="1" height="45" fill="url(#c7)"/><rect x="904" y="733.5" width="1" height="45" fill="url(#c8)"/><rect x="905" y="740.5" width="1" height="38" fill="url(#c9)"/><rect x="912" y="741.5" width="1" height="37" fill="url(#c16)"/><rect x="913" y="739.5" width="1" height="39" fill="url(#c17)"/><rect x="914" y="739.5" width="1" height="39" fill="url(#c18)"/><rect x="915" y="742.5" width="1" height="36" fill="url(#c19)"/><rect x="986" y="636.5" width="1" height="142" fill="url(#c90)"/><rect x="987" y="633.5" width="1" height="145" fill="url(#c91)"/><rect x="988" y="636.5" width="1" height="142" fill="url(#c92)"/><rect x="1020" y="696.5" width="1" height="82" fill="url(#c124)"/><rect x="1021" y="684.5" width="1" height="94" fill="url(#c125)"/><rect x="1022" y="684.5" width="1" height="94" fill="url(#c126)"/><rect x="1023" y="685.5" width="1" height="93" fill="url(#c127)"/><rect x="1024" y="723.5" width="1" height="55" fill="url(#c128)"/><rect x="1032" y="702.5" width="1" height="76" fill="url(#c136)"/><rect x="1033" y="637.5" width="1" height="141" fill="url(#c137)"/><rect x="1034" y="634.5" width="1" height="144" fill="url(#c138)"/><rect x="1035" y="641.5" width="1" height="137" fill="url(#c139)"/><rect x="1036" y="764.5" width="1" height="14" fill="url(#c140)"/><rect x="1053" y="740.5" width="1" height="38" fill="url(#c157)"/><rect x="1054" y="738.5" width="1" height="40" fill="url(#c158)"/><rect x="1055" y="740.5" width="1" height="38" fill="url(#c159)"/><rect x="1077" y="749.5" width="1" height="29" fill="url(#c181)"/><rect x="1078" y="722.5" width="1" height="56" fill="url(#c182)"/><rect x="1079" y="710.5" width="1" height="68" fill="url(#c183)"/><rect x="1080" y="707.5" width="1" height="71" fill="url(#c184)"/><rect x="1081" y="711.5" width="1" height="29" fill="url(#c185)"/><rect x="1099" y="761.5" width="1" height="17" fill="url(#c203)"/><rect x="1100" y="757.5" width="1" height="21" fill="url(#c204)"/><rect x="1101" y="757.5" width="1" height="21" fill="url(#c205)"/><rect x="1105" y="753.5" width="1" height="25" fill="url(#c209)"/><rect x="1106" y="752.5" width="1" height="26" fill="url(#c210)"/><rect x="1107" y="754.5" width="1" height="24" fill="url(#c211)"/><rect x="1109" y="764.5" width="1" height="14" fill="url(#c213)"/><rect x="1110" y="756.5" width="1" height="22" fill="url(#c214)"/><rect x="1111" y="756.5" width="1" height="22" fill="url(#c215)"/><rect x="1112" y="764.5" width="1" height="14" fill="url(#c216)"/><rect x="1227" y="765.5" width="1" height="13" fill="url(#c331)"/><rect x="1228" y="746.5" width="1" height="32" fill="url(#c332)"/><rect x="1229" y="723.5" width="1" height="55" fill="url(#c333)"/><rect x="1230" y="709.5" width="1" height="69" fill="url(#c334)"/><rect x="1231" y="708.5" width="1" height="70" fill="url(#c335)"/><rect x="1232" y="709.5" width="1" height="69" fill="url(#c336)"/><rect x="1233" y="745.5" width="1" height="33" fill="url(#c337)"/><rect x="1234" y="765.5" width="1" height="13" fill="url(#c338)"/><rect x="1235" y="700.5" width="1" height="78" fill="url(#c339)"/><rect x="1236" y="698.5" width="1" height="80" fill="url(#c340)"/><rect x="1237" y="700.5" width="1" height="78" fill="url(#c341)"/><rect x="1238" y="716.5" width="1" height="62" fill="url(#c342)"/><rect x="1239" y="716.5" width="1" height="62" fill="url(#c343)"/><rect x="1240" y="717.5" width="1" height="61" fill="url(#c344)"/>
</g>
<path d="M203.5 65.5H724.5V253.5H203.5ZM203.05 253.5v-5.5M203.05 65.5v5.5M333.75 253.5v-5.5M333.75 65.5v5.5M464.00 253.5v-5.5M464.00 65.5v5.5M594.25 253.5v-5.5M594.25 65.5v5.5M724.95 253.5v-5.5M724.95 65.5v5.5M203.5 65.05h5.5M724.5 65.05h-5.5M203.5 128.17h5.5M724.5 128.17h-5.5M203.5 190.83h5.5M724.5 190.83h-5.5M203.5 253.95h5.5M724.5 253.95h-5.5M895.5 65.5H1421.0V253.5H895.5ZM895.05 253.5v-5.5M895.05 65.5v5.5M1026.88 253.5v-5.5M1026.88 65.5v5.5M1158.25 253.5v-5.5M1158.25 65.5v5.5M1289.62 253.5v-5.5M1289.62 65.5v5.5M1421.45 253.5v-5.5M1421.45 65.5v5.5M203.5 327.5H724.5V516.5H203.5ZM203.05 516.5v-5.5M203.05 327.5v5.5M333.75 516.5v-5.5M333.75 327.5v5.5M464.00 516.5v-5.5M464.00 327.5v5.5M594.25 516.5v-5.5M594.25 327.5v5.5M724.95 516.5v-5.5M724.95 327.5v5.5M203.5 327.05h5.5M724.5 327.05h-5.5M203.5 422.00h5.5M724.5 422.00h-5.5M203.5 516.95h5.5M724.5 516.95h-5.5M895.5 327.5H1421.0V516.5H895.5ZM895.05 516.5v-5.5M895.05 327.5v5.5M1026.88 516.5v-5.5M1026.88 327.5v5.5M1158.25 516.5v-5.5M1158.25 327.5v5.5M1289.62 516.5v-5.5M1289.62 327.5v5.5M1421.45 516.5v-5.5M1421.45 327.5v5.5M203.5 589.5H724.5V778.5H203.5ZM203.05 778.5v-5.5M203.05 589.5v5.5M333.75 778.5v-5.5M333.75 589.5v5.5M464.00 778.5v-5.5M464.00 589.5v5.5M594.25 778.5v-5.5M594.25 589.5v5.5M724.95 778.5v-5.5M724.95 589.5v5.5M203.5 589.05h5.5M724.5 589.05h-5.5M203.5 652.50h5.5M724.5 652.50h-5.5M203.5 715.50h5.5M724.5 715.50h-5.5M203.5 778.95h5.5M724.5 778.95h-5.5M895.5 589.5H1421.0V778.5H895.5ZM895.05 778.5v-5.5M895.05 589.5v5.5M1026.88 778.5v-5.5M1026.88 589.5v5.5M1158.25 778.5v-5.5M1158.25 589.5v5.5M1289.62 778.5v-5.5M1289.62 589.5v5.5M1421.45 778.5v-5.5M1421.45 589.5v5.5" fill="none" stroke="#262626" stroke-width="1.4"/>
<path d="M895.5 251.31h5.5M1421.0 251.31h-5.5M895.5 229.86h5.5M1421.0 229.86h-5.5M895.5 210.95h5.5M1421.0 210.95h-5.5M895.5 194.03h5.5M1421.0 194.03h-5.5M895.5 164.75h5.5M1421.0 164.75h-5.5M895.5 139.99h5.5M1421.0 139.99h-5.5M895.5 118.54h5.5M1421.0 118.54h-5.5M895.5 99.63h5.5M1421.0 99.63h-5.5M895.5 82.71h5.5M1421.0 82.71h-5.5M895.5 67.40h5.5M1421.0 67.40h-5.5M895.5 514.30h5.5M1421.0 514.30h-5.5M895.5 492.74h5.5M1421.0 492.74h-5.5M895.5 473.72h5.5M1421.0 473.72h-5.5M895.5 456.71h5.5M1421.0 456.71h-5.5M895.5 427.27h5.5M1421.0 427.27h-5.5M895.5 402.39h5.5M1421.0 402.39h-5.5M895.5 380.83h5.5M1421.0 380.83h-5.5M895.5 361.81h5.5M1421.0 361.81h-5.5M895.5 344.80h5.5M1421.0 344.80h-5.5M895.5 329.41h5.5M1421.0 329.41h-5.5M895.5 776.30h5.5M1421.0 776.30h-5.5M895.5 754.74h5.5M1421.0 754.74h-5.5M895.5 735.72h5.5M1421.0 735.72h-5.5M895.5 718.71h5.5M1421.0 718.71h-5.5M895.5 689.27h5.5M1421.0 689.27h-5.5M895.5 664.39h5.5M1421.0 664.39h-5.5M895.5 642.83h5.5M1421.0 642.83h-5.5M895.5 623.81h5.5M1421.0 623.81h-5.5M895.5 606.80h5.5M1421.0 606.80h-5.5M895.5 591.41h5.5M1421.0 591.41h-5.5" fill="none" stroke="#262626" stroke-width="1.4"/>
<polyline points="203.5,124.3 203.5,137.6 204.0,135.5 204.0,123.6 204.5,120.8 204.5,136.9 205.0,135.3 205.0,121.6 205.5,120.8 205.5,136.3 206.0,136.9 206.0,121.4 206.5,123.2 206.5,138.5 207.0,137.5 207.0,121.6 207.5,120.5 207.5,135.6 208.0,139.0 208.0,120.1 208.5,119.6 208.5,141.6 209.0,139.9 209.0,116.5 209.5,117.6 209.5,141.6 210.0,139.6 210.0,116.0 210.5,114.3 210.5,140.0 211.0,146.7 211.0,111.0 211.5,111.8 211.5,144.8 212.0,142.5 212.0,111.4 212.5,113.6 212.5,141.4 213.0,141.8 213.0,114.7 213.5,115.1 213.5,144.3 214.0,142.6 214.0,113.4 214.5,116.5 214.5,143.9 215.0,141.2 215.0,116.6 215.5,116.6 215.5,145.3 216.0,142.4 216.0,116.6 216.5,116.6 216.5,142.5 217.0,142.3 217.0,115.9 217.5,116.6 217.5,140.4 218.0,141.2 218.0,116.2 218.5,116.4 218.5,143.5 219.0,145.7 219.0,116.2 219.5,116.0 219.5,141.0 220.0,140.1 220.0,114.8 220.5,115.1 220.5,144.1 221.0,141.7 221.0,113.8 221.5,112.3 221.5,142.7 222.0,146.2 222.0,112.8 222.5,111.6 222.5,142.1 223.0,143.9 223.0,110.3 223.5,112.0 223.5,141.6 224.0,145.7 224.0,114.7 224.5,115.3 224.5,146.1 225.0,143.1 225.0,115.7 225.5,116.4 225.5,142.3 226.0,144.1 226.0,114.2 226.5,116.6 226.5,139.4 227.0,142.5 227.0,117.9 227.5,117.8 227.5,141.2 228.0,143.6 228.0,117.2 228.5,115.8 228.5,140.9 229.0,142.4 229.0,119.4 229.5,119.1 229.5,144.5 230.0,142.0 230.0,121.1 230.5,122.3 230.5,139.3 231.0,139.3 231.0,121.5 231.5,123.1 231.5,141.4 232.0,138.3 232.0,119.8 232.5,120.5 232.5,140.6 233.0,140.5 233.0,122.6 233.5,122.7 233.5,137.4 234.0,137.6 234.0,119.9 234.5,124.1 234.5,137.3 235.0,138.0 235.0,123.2 235.5,119.9 235.5,137.6 236.0,137.2 236.0,123.2 236.5,123.9 236.5,136.9 237.0,134.9 237.0,124.2 237.5,118.8 237.5,136.4 238.0,136.8 238.0,123.6 238.5,122.4 238.5,136.7 239.0,135.7 239.0,123.8 239.5,122.8 239.5,136.0 240.0,138.4 240.0,122.2 240.5,123.3 240.5,136.3 241.0,136.8 241.0,121.5 241.5,123.0 241.5,136.3 242.0,138.0 242.0,123.9 242.5,123.2 242.5,136.1 243.0,135.8 243.0,124.4 243.5,121.9 243.5,135.4 244.0,135.7 244.0,124.3 244.5,124.2 244.5,138.4 245.0,136.6 245.0,123.9 245.5,124.9 245.5,136.4 246.0,136.0 246.0,122.7 246.5,123.2 246.5,135.5 247.0,139.1 247.0,122.2 247.5,124.3 247.5,136.1 248.0,136.3 248.0,124.5 248.5,122.6 248.5,138.4 249.0,135.8 249.0,124.5 249.5,123.1 249.5,136.5 250.0,137.1 250.0,122.9 250.5,124.8 250.5,135.8 251.0,136.7 251.0,122.8 251.5,125.1 251.5,137.6 252.0,138.9 252.0,124.5 252.5,122.9 252.5,138.3 253.0,138.1 253.0,124.3 253.5,122.1 253.5,137.9 254.0,135.0 254.0,123.0 254.5,123.8 254.5,136.5 255.0,137.6 255.0,124.3 255.5,123.7 255.5,136.4 256.0,135.8 256.0,123.0 256.5,122.6 256.5,136.2 257.0,137.4 257.0,123.5 257.5,123.1 257.5,139.6 258.0,137.3 258.0,122.9 258.5,124.3 258.5,136.5 259.0,137.3 259.0,123.4 259.5,123.2 259.5,135.1 260.0,137.3 260.0,123.4 260.5,123.5 260.5,135.5 261.0,136.5 261.0,124.5 261.5,123.0 261.5,137.8 262.0,138.8 262.0,124.9 262.5,123.5 262.5,135.7 263.0,138.1 263.0,123.7 263.5,123.7 263.5,137.2 264.0,136.8 264.0,124.6 264.5,121.7 264.5,137.7 265.0,136.8 265.0,123.7 265.5,124.2 265.5,136.0 266.0,135.5 266.0,123.3 266.5,124.0 266.5,138.2 267.0,136.3 267.0,122.7 267.5,124.1 267.5,135.5 268.0,136.8 268.0,123.8 268.5,123.8 268.5,137.9 269.0,136.5 269.0,122.9 269.5,122.1 269.5,138.2 270.0,139.2 270.0,123.1 270.5,123.1 270.5,136.0 271.0,136.4 271.0,121.0 271.5,122.5 271.5,134.6 272.0,136.8 272.0,124.4 272.5,122.9 272.5,138.0 273.0,138.6 273.0,123.0 273.5,124.5 273.5,136.9 274.0,137.1 274.0,121.4 274.5,123.6 274.5,140.0 275.0,137.2 275.0,122.6 275.5,123.2 275.5,139.2 276.0,136.7 276.0,125.1 276.5,121.3 276.5,136.1 277.0,136.1 277.0,123.1 277.5,124.2 277.5,137.9 278.0,138.5 278.0,123.5 278.5,122.2 278.5,136.2 279.0,136.0 279.0,124.9 279.5,122.9 279.5,136.4 280.0,135.1 280.0,123.0 280.5,122.8 280.5,136.2 281.0,136.0 281.0,123.1 281.5,125.4 281.5,135.9 282.0,137.9 282.0,123.5 282.5,120.1 282.5,136.1 283.0,136.6 283.0,124.1 283.5,122.7 283.5,137.9 284.0,139.5 284.0,122.9 284.5,123.2 284.5,136.1 285.0,135.3 285.0,120.6 285.5,123.7 285.5,137.1 286.0,135.8 286.0,124.3 286.5,119.7 286.5,137.8 287.0,135.6 287.0,122.7 287.5,123.8 287.5,135.7 288.0,137.1 288.0,124.3 288.5,122.6 288.5,137.2 289.0,140.7 289.0,123.4 289.5,124.1 289.5,135.1 290.0,136.2 290.0,123.7 290.5,124.0 290.5,136.6 291.0,138.6 291.0,117.7 291.5,124.5 291.5,137.2 292.0,135.7 292.0,120.6 292.5,122.9 292.5,138.6 293.0,136.1 293.0,122.7 293.5,121.9 293.5,136.5 294.0,139.0 294.0,119.8 294.5,116.5 294.5,137.3 295.0,135.7 295.0,113.4 295.5,113.1 295.5,140.8 296.0,136.2 296.0,115.6 296.5,119.1 296.5,136.8 297.0,136.6 297.0,121.5 297.5,118.6 297.5,138.0 298.0,138.1 298.0,122.8 298.5,122.9 298.5,135.2 299.0,137.3 299.0,122.5 299.5,122.0 299.5,137.2 300.0,136.3 300.0,124.1 300.5,124.8 300.5,135.9 301.0,138.4 301.0,122.3 301.5,122.6 301.5,136.9 302.0,136.6 302.0,124.1 302.5,124.4 302.5,136.5 303.0,134.5 303.0,123.8 303.5,123.9 303.5,135.3 304.0,139.0 304.0,114.1 304.5,124.5 304.5,136.6 305.0,137.3 305.0,123.2 305.5,123.8 305.5,138.8 306.0,136.3 306.0,123.2 306.5,120.9 306.5,135.7 307.0,136.8 307.0,121.3 307.5,122.5 307.5,136.2 308.0,135.3 308.0,121.8 308.5,123.5 308.5,138.7 309.0,136.3 309.0,117.8 309.5,122.5 309.5,136.3 310.0,136.4 310.0,121.7 310.5,122.6 310.5,135.3 311.0,136.9 311.0,123.3 311.5,123.7 311.5,136.4 312.0,140.9 312.0,124.1 312.5,124.0 312.5,142.5 313.0,135.2 313.0,123.5 313.5,123.2 313.5,136.8 314.0,136.7 314.0,122.9 314.5,123.5 314.5,136.3 315.0,135.0 315.0,122.3 315.5,120.9 315.5,140.7 316.0,136.0 316.0,123.1 316.5,121.6 316.5,137.7 317.0,137.3 317.0,123.2 317.5,124.5 317.5,139.4 318.0,139.1 318.0,121.9 318.5,124.7 318.5,135.4 319.0,136.5 319.0,121.8 319.5,122.9 319.5,137.0 320.0,138.1 320.0,122.9 320.5,122.9 320.5,136.7 321.0,137.3 321.0,122.5 321.5,121.9 321.5,135.7 322.0,135.2 322.0,122.0 322.5,122.4 322.5,138.2 323.0,138.5 323.0,121.8 323.5,121.0 323.5,135.9 324.0,136.0 324.0,120.9 324.5,120.3 324.5,136.1 325.0,137.3 325.0,120.5 325.5,118.6 325.5,138.1 326.0,136.7 326.0,119.9 326.5,119.6 326.5,137.0 327.0,136.6 327.0,120.9 327.5,121.4 327.5,140.3 328.0,137.1 328.0,121.3 328.5,120.7 328.5,140.6 329.0,137.9 329.0,119.4 329.5,111.9 329.5,140.2 330.0,138.7 330.0,106.9 330.5,106.7 330.5,140.1 331.0,140.1 331.0,106.0 331.5,112.5 331.5,141.1 332.0,140.8 332.0,113.3 332.5,118.4 332.5,139.5 333.0,139.3 333.0,120.1 333.5,120.7 333.5,140.7 334.0,136.7 334.0,120.7 334.5,122.1 334.5,138.6 335.0,136.3 335.0,122.2 335.5,123.1 335.5,136.7 336.0,139.5 336.0,123.2 336.5,123.1 336.5,137.3 337.0,136.7 337.0,122.5 337.5,124.0 337.5,135.7 338.0,136.4 338.0,123.9 338.5,123.6 338.5,136.3 339.0,138.6 339.0,123.7 339.5,124.3 339.5,137.6 340.0,137.9 340.0,121.8 340.5,123.0 340.5,136.5 341.0,136.5 341.0,121.2 341.5,123.3 341.5,136.7 342.0,137.4 342.0,124.4 342.5,121.3 342.5,136.4 343.0,136.8 343.0,123.0 343.5,123.3 343.5,139.2 344.0,137.5 344.0,122.7 344.5,123.1 344.5,136.7 345.0,135.6 345.0,123.3 345.5,122.2 345.5,137.4 346.0,136.1 346.0,123.1 346.5,123.8 346.5,136.1 347.0,137.9 347.0,122.8 347.5,123.3 347.5,136.8 348.0,136.5 348.0,121.1 348.5,124.7 348.5,135.8 349.0,137.8 349.0,123.6 349.5,124.1 349.5,136.3 350.0,137.3 350.0,123.3 350.5,124.6 350.5,137.5 351.0,137.4 351.0,122.5 351.5,123.9 351.5,135.9 352.0,135.7 352.0,124.7 352.5,123.6 352.5,137.8 353.0,136.0 353.0,123.7 353.5,123.1 353.5,140.1 354.0,135.6 354.0,122.4 354.5,123.8 354.5,136.9 355.0,139.7 355.0,123.6 355.5,123.6 355.5,139.3 356.0,135.6 356.0,123.7 356.5,124.1 356.5,136.2 357.0,137.0 357.0,123.5 357.5,124.7 357.5,136.1 358.0,137.4 358.0,123.7 358.5,123.2 358.5,137.8 359.0,139.1 359.0,122.6 359.5,123.1 359.5,137.9 360.0,136.7 360.0,121.2 360.5,122.0 360.5,135.8 361.0,138.3 361.0,121.7 361.5,121.2 361.5,135.8 362.0,136.4 362.0,120.0 362.5,113.1 362.5,135.1 363.0,138.6 363.0,113.8 363.5,115.6 363.5,137.2 364.0,135.8 364.0,112.4 364.5,111.4 364.5,136.6 365.0,135.8 365.0,116.1 365.5,117.3 365.5,136.3 366.0,136.8 366.0,120.0 366.5,119.7 366.5,139.0 367.0,137.8 367.0,121.6 367.5,122.0 367.5,136.6 368.0,135.3 368.0,122.2 368.5,122.3 368.5,136.4 369.0,136.6 369.0,122.1 369.5,121.9 369.5,135.5 370.0,136.6 370.0,123.9 370.5,120.8 370.5,137.8 371.0,136.4 371.0,122.8 371.5,122.1 371.5,136.7 372.0,139.3 372.0,122.2 372.5,123.0 372.5,137.2 373.0,136.2 373.0,121.2 373.5,122.8 373.5,135.7 374.0,135.0 374.0,122.6 374.5,123.4 374.5,140.4 375.0,138.8 375.0,120.2 375.5,122.6 375.5,136.0 376.0,136.0 376.0,123.6 376.5,123.3 376.5,135.0 377.0,138.9 377.0,122.5 377.5,121.7 377.5,136.8 378.0,138.2 378.0,123.1 378.5,123.6 378.5,138.7 379.0,135.7 379.0,122.0 379.5,121.9 379.5,137.2 380.0,137.3 380.0,120.5 380.5,121.5 380.5,139.0 381.0,137.9 381.0,121.0 381.5,119.4 381.5,137.7 382.0,137.7 382.0,117.8 382.5,115.2 382.5,139.2 383.0,137.2 383.0,117.4 383.5,115.2 383.5,138.0 384.0,138.9 384.0,118.3 384.5,118.7 384.5,136.1 385.0,138.2 385.0,119.4 385.5,116.3 385.5,137.9 386.0,140.3 386.0,120.2 386.5,120.1 386.5,137.3 387.0,140.8 387.0,119.0 387.5,116.4 387.5,142.1 388.0,137.0 388.0,118.7 388.5,118.8 388.5,140.0 389.0,138.6 389.0,118.2 389.5,114.2 389.5,138.8 390.0,143.5 390.0,115.8 390.5,115.1 390.5,136.9 391.0,140.1 391.0,115.1 391.5,114.5 391.5,140.4 392.0,144.7 392.0,109.5 392.5,109.7 392.5,141.2 393.0,144.7 393.0,109.0 393.5,110.7 393.5,143.6 394.0,141.2 394.0,114.8 394.5,115.7 394.5,142.0 395.0,143.2 395.0,116.0 395.5,116.6 395.5,139.8 396.0,143.1 396.0,117.4 396.5,113.2 396.5,144.9 397.0,139.8 397.0,116.8 397.5,115.0 397.5,142.6 398.0,147.0 398.0,112.9 398.5,112.1 398.5,142.5 399.0,143.0 399.0,113.2 399.5,115.4 399.5,143.7 400.0,142.7 400.0,117.3 400.5,118.4 400.5,142.3 401.0,143.2 401.0,118.8 401.5,118.5 401.5,139.2 402.0,142.5 402.0,119.1 402.5,118.2 402.5,137.7 403.0,140.5 403.0,120.5 403.5,111.8 403.5,137.9 404.0,139.7 404.0,120.9 404.5,120.6 404.5,138.2 405.0,147.2 405.0,118.7 405.5,120.1 405.5,141.0 406.0,141.3 406.0,119.1 406.5,119.3 406.5,139.0 407.0,137.9 407.0,119.8 407.5,119.0 407.5,139.3 408.0,137.1 408.0,116.3 408.5,114.0 408.5,140.0 409.0,140.4 409.0,115.6 409.5,115.4 409.5,135.9 410.0,136.8 410.0,116.0 410.5,117.5 410.5,136.4 411.0,136.6 411.0,118.7 411.5,120.3 411.5,136.4 412.0,138.9 412.0,120.2 412.5,121.7 412.5,135.4 413.0,135.9 413.0,121.7 413.5,121.5 413.5,138.4 414.0,139.4 414.0,120.9 414.5,120.1 414.5,136.3 415.0,140.4 415.0,120.0 415.5,119.3 415.5,137.6 416.0,137.8 416.0,117.1 416.5,117.0 416.5,138.2 417.0,136.7 417.0,117.1 417.5,117.4 417.5,143.3 418.0,141.6 418.0,119.1 418.5,118.7 418.5,137.8 419.0,137.7 419.0,119.8 419.5,120.2 419.5,137.8 420.0,141.1 420.0,120.2 420.5,120.4 420.5,140.3 421.0,137.2 421.0,120.6 421.5,119.9 421.5,139.2 422.0,138.6 422.0,120.6 422.5,120.6 422.5,141.6 423.0,137.2 423.0,120.0 423.5,114.1 423.5,138.7 424.0,138.0 424.0,120.8 424.5,117.1 424.5,138.4 425.0,140.2 425.0,120.7 425.5,118.6 425.5,138.6 426.0,137.3 426.0,120.5 426.5,120.0 426.5,140.9 427.0,138.3 427.0,118.5 427.5,116.0 427.5,136.8 428.0,139.0 428.0,113.5 428.5,112.9 428.5,136.6 429.0,138.9 429.0,114.7 429.5,117.5 429.5,141.7 430.0,139.7 430.0,119.5 430.5,120.4 430.5,141.0 431.0,137.7 431.0,120.6 431.5,119.4 431.5,136.8 432.0,138.4 432.0,120.7 432.5,116.2 432.5,136.4 433.0,136.9 433.0,120.4 433.5,119.8 433.5,140.1 434.0,145.8 434.0,119.7 434.5,118.9 434.5,139.0 435.0,138.2 435.0,117.6 435.5,116.2 435.5,138.9 436.0,138.4 436.0,118.5 436.5,118.6 436.5,139.7 437.0,137.8 437.0,119.3 437.5,120.0 437.5,136.9 438.0,136.8 438.0,119.6 438.5,119.5 438.5,138.9 439.0,138.2 439.0,120.5 439.5,120.7 439.5,138.1 440.0,138.3 440.0,121.4 440.5,119.3 440.5,138.3 441.0,138.8 441.0,120.7 441.5,119.5 441.5,137.0 442.0,139.7 442.0,120.6 442.5,120.6 442.5,139.2 443.0,144.7 443.0,120.0 443.5,119.9 443.5,138.4 444.0,138.4 444.0,118.8 444.5,117.6 444.5,137.3 445.0,139.4 445.0,115.5 445.5,117.9 445.5,137.8 446.0,138.3 446.0,117.3 446.5,118.9 446.5,137.8 447.0,139.8 447.0,118.9 447.5,118.7 447.5,136.0 448.0,137.9 448.0,120.5 448.5,120.7 448.5,142.2 449.0,139.8 449.0,120.6 449.5,120.2 449.5,137.4 450.0,139.5 450.0,118.6 450.5,119.2 450.5,139.6 451.0,136.4 451.0,118.7 451.5,117.8 451.5,137.9 452.0,139.0 452.0,119.0 452.5,118.8 452.5,138.4 453.0,141.5 453.0,119.0 453.5,119.1 453.5,141.3 454.0,140.2 454.0,119.8 454.5,120.0 454.5,139.2 455.0,136.8 455.0,117.6 455.5,120.5 455.5,136.9 456.0,139.4 456.0,120.2 456.5,120.6 456.5,139.4 457.0,138.6 457.0,120.7 457.5,120.6 457.5,137.6 458.0,140.5 458.0,120.3 458.5,120.3 458.5,138.0 459.0,143.3 459.0,118.9 459.5,119.5 459.5,136.3 460.0,137.5 460.0,118.1 460.5,118.0 460.5,138.3 461.0,137.6 461.0,116.7 461.5,118.0 461.5,138.3 462.0,137.3 462.0,118.4 462.5,119.6 462.5,137.4 463.0,136.4 463.0,119.7 463.5,117.9 463.5,137.4 464.0,138.6 464.0,118.7 464.5,117.9 464.5,137.6 465.0,137.2 465.0,119.2 465.5,120.8 465.5,136.7 466.0,138.9 466.0,121.1 466.5,121.4 466.5,138.9 467.0,136.8 467.0,120.1 467.5,119.8 467.5,138.2 468.0,135.4 468.0,121.5 468.5,120.0 468.5,138.4 469.0,137.3 469.0,121.1 469.5,122.5 469.5,136.7 470.0,139.1 470.0,122.8 470.5,121.3 470.5,135.5 471.0,138.0 471.0,122.4 471.5,120.9 471.5,136.7 472.0,136.1 472.0,122.3 472.5,118.5 472.5,139.2 473.0,140.7 473.0,121.1 473.5,122.1 473.5,136.6 474.0,138.9 474.0,122.1 474.5,122.0 474.5,138.1 475.0,136.5 475.0,121.2 475.5,121.2 475.5,136.2 476.0,137.6 476.0,119.7 476.5,120.3 476.5,137.0 477.0,144.5 477.0,119.7 477.5,118.7 477.5,137.4 478.0,137.4 478.0,121.1 478.5,121.6 478.5,137.7 479.0,137.1 479.0,122.1 479.5,122.3 479.5,135.9 480.0,135.7 480.0,122.5 480.5,122.6 480.5,136.7 481.0,137.6 481.0,122.6 481.5,123.3 481.5,137.3 482.0,135.7 482.0,121.8 482.5,119.6 482.5,136.1 483.0,136.9 483.0,122.8 483.5,124.2 483.5,138.4 484.0,139.2 484.0,122.0 484.5,123.6 484.5,138.0 485.0,135.9 485.0,123.7 485.5,123.0 485.5,135.5 486.0,136.6 486.0,122.1 486.5,122.4 486.5,137.4 487.0,136.3 487.0,123.9 487.5,121.0 487.5,139.4 488.0,137.2 488.0,120.9 488.5,123.1 488.5,136.2 489.0,138.0 489.0,124.2 489.5,124.4 489.5,137.0 490.0,137.9 490.0,123.1 490.5,124.5 490.5,137.3 491.0,136.6 491.0,123.9 491.5,123.2 491.5,135.4 492.0,135.2 492.0,121.8 492.5,121.6 492.5,138.9 493.0,137.8 493.0,123.6 493.5,123.8 493.5,136.5 494.0,136.6 494.0,123.1 494.5,124.1 494.5,137.5 495.0,135.0 495.0,122.3 495.5,123.4 495.5,137.3 496.0,136.5 496.0,123.7 496.5,122.4 496.5,136.8 497.0,136.6 497.0,123.2 497.5,124.0 497.5,135.3 498.0,136.5 498.0,122.3 498.5,123.9 498.5,135.6 499.0,137.5 499.0,120.6 499.5,123.6 499.5,136.0 500.0,137.0 500.0,123.4 500.5,123.4 500.5,137.0 501.0,137.0 501.0,121.2 501.5,125.7 501.5,136.8 502.0,135.7 502.0,123.8 502.5,121.7 502.5,136.9 503.0,139.3 503.0,121.8 503.5,122.4 503.5,136.5 504.0,137.0 504.0,124.6 504.5,123.2 504.5,135.9 505.0,136.0 505.0,123.7 505.5,122.9 505.5,137.5 506.0,136.8 506.0,122.9 506.5,122.7 506.5,136.4 507.0,136.5 507.0,122.2 507.5,120.8 507.5,137.7 508.0,138.3 508.0,118.9 508.5,117.3 508.5,136.1 509.0,138.6 509.0,117.4 509.5,119.1 509.5,135.7 510.0,140.8 510.0,121.0 510.5,122.3 510.5,137.5 511.0,136.4 511.0,122.7 511.5,122.9 511.5,136.0 512.0,138.8 512.0,122.9 512.5,118.8 512.5,136.7 513.0,135.1 513.0,124.0 513.5,122.9 513.5,136.6 514.0,136.3 514.0,122.9 514.5,122.9 514.5,138.5 515.0,139.3 515.0,122.8 515.5,122.5 515.5,137.0 516.0,135.1 516.0,122.8 516.5,122.8 516.5,136.7 517.0,136.9 517.0,121.4 517.5,122.4 517.5,137.3 518.0,135.9 518.0,121.5 518.5,120.9 518.5,134.8 519.0,136.9 519.0,120.8 519.5,120.7 519.5,136.6 520.0,136.8 520.0,117.7 520.5,119.1 520.5,137.8 521.0,136.8 521.0,117.0 521.5,118.1 521.5,136.4 522.0,136.2 522.0,118.6 522.5,120.8 522.5,135.1 523.0,135.7 523.0,121.5 523.5,120.7 523.5,137.7 524.0,135.3 524.0,122.3 524.5,122.0 524.5,137.6 525.0,135.0 525.0,122.6 525.5,121.7 525.5,137.2 526.0,138.1 526.0,122.8 526.5,122.6 526.5,136.3 527.0,137.4 527.0,121.9 527.5,121.7 527.5,136.1 528.0,136.3 528.0,122.9 528.5,122.7 528.5,136.3 529.0,139.9 529.0,123.7 529.5,123.5 529.5,138.8 530.0,135.6 530.0,121.9 530.5,122.3 530.5,137.2 531.0,137.1 531.0,121.6 531.5,123.3 531.5,138.1 532.0,140.8 532.0,123.5 532.5,122.6 532.5,138.8 533.0,138.0 533.0,122.4 533.5,122.9 533.5,137.1 534.0,137.3 534.0,120.5 534.5,121.7 534.5,137.6 535.0,137.5 535.0,121.8 535.5,124.5 535.5,139.6 536.0,140.1 536.0,122.4 536.5,119.3 536.5,137.9 537.0,140.5 537.0,116.2 537.5,120.2 537.5,139.1 538.0,141.0 538.0,120.2 538.5,121.6 538.5,143.0 539.0,142.1 539.0,120.8 539.5,117.1 539.5,141.8 540.0,146.1 540.0,118.5 540.5,115.9 540.5,144.5 541.0,141.7 541.0,114.1 541.5,115.6 541.5,140.1 542.0,140.8 542.0,112.8 542.5,107.9 542.5,142.9 543.0,141.0 543.0,103.6 543.5,103.1 543.5,144.3 544.0,140.4 544.0,107.0 544.5,112.2 544.5,140.0 545.0,147.2 545.0,115.9 545.5,116.7 545.5,146.5 546.0,141.7 546.0,118.0 546.5,117.5 546.5,140.0 547.0,141.5 547.0,116.8 547.5,114.7 547.5,137.3 548.0,138.3 548.0,114.8 548.5,116.9 548.5,138.4 549.0,139.8 549.0,117.7 549.5,119.8 549.5,137.5 550.0,139.8 550.0,120.3 550.5,119.3 550.5,137.8 551.0,137.4 551.0,117.2 551.5,115.4 551.5,135.8 552.0,136.4 552.0,115.6 552.5,117.8 552.5,136.3 553.0,137.8 553.0,120.3 553.5,121.9 553.5,139.1 554.0,143.9 554.0,119.6 554.5,119.7 554.5,135.8 555.0,137.0 555.0,122.8 555.5,122.7 555.5,135.6 556.0,137.2 556.0,120.6 556.5,122.8 556.5,136.0 557.0,135.1 557.0,123.7 557.5,125.0 557.5,135.6 558.0,137.8 558.0,122.9 558.5,122.8 558.5,135.3 559.0,136.2 559.0,123.7 559.5,124.0 559.5,136.2 560.0,138.1 560.0,123.1 560.5,123.2 560.5,137.1 561.0,136.4 561.0,121.0 561.5,121.7 561.5,139.5 562.0,137.9 562.0,124.6 562.5,122.4 562.5,137.7 563.0,135.7 563.0,123.4 563.5,123.8 563.5,137.0 564.0,137.3 564.0,123.3 564.5,124.4 564.5,137.1 565.0,135.9 565.0,123.6 565.5,123.2 565.5,139.2 566.0,138.9 566.0,118.4 566.5,122.0 566.5,136.5 567.0,137.0 567.0,123.8 567.5,122.1 567.5,136.6 568.0,136.0 568.0,123.5 568.5,124.4 568.5,136.8 569.0,135.6 569.0,121.9 569.5,121.6 569.5,138.0 570.0,137.2 570.0,121.8 570.5,123.9 570.5,139.5 571.0,136.8 571.0,122.9 571.5,122.6 571.5,136.8 572.0,138.8 572.0,124.2 572.5,123.6 572.5,136.3 573.0,138.9 573.0,123.6 573.5,123.2 573.5,135.8 574.0,137.0 574.0,123.5 574.5,123.1 574.5,136.2 575.0,136.6 575.0,120.8 575.5,123.0 575.5,136.3 576.0,136.0 576.0,124.2 576.5,123.6 576.5,135.9 577.0,137.2 577.0,122.2 577.5,124.0 577.5,136.2 578.0,137.1 578.0,124.9 578.5,124.3 578.5,139.4 579.0,136.7 579.0,124.5 579.5,121.4 579.5,135.8 580.0,137.2 580.0,123.7 580.5,123.0 580.5,137.5 581.0,137.1 581.0,121.4 581.5,122.5 581.5,135.9 582.0,136.4 582.0,122.4 582.5,125.7 582.5,137.7 583.0,135.2 583.0,123.2 583.5,124.8 583.5,138.0 584.0,135.8 584.0,124.1 584.5,124.1 584.5,137.6 585.0,136.9 585.0,123.8 585.5,122.5 585.5,136.4 586.0,135.8 586.0,123.1 586.5,122.8 586.5,137.0 587.0,135.7 587.0,124.9 587.5,123.5 587.5,136.3 588.0,137.2 588.0,122.4 588.5,123.8 588.5,137.3 589.0,137.0 589.0,123.3 589.5,120.8 589.5,136.1 590.0,138.1 590.0,123.1 590.5,121.9 590.5,137.4 591.0,137.9 591.0,122.2 591.5,122.9 591.5,137.5 592.0,137.7 592.0,122.8 592.5,124.6 592.5,134.9 593.0,137.5 593.0,123.0 593.5,123.8 593.5,137.3 594.0,136.7 594.0,122.7 594.5,122.9 594.5,137.0 595.0,136.6 595.0,121.9 595.5,123.4 595.5,139.5 596.0,135.7 596.0,123.0 596.5,122.4 596.5,137.4 597.0,135.6 597.0,122.3 597.5,122.3 597.5,137.2 598.0,139.8 598.0,123.3 598.5,122.1 598.5,136.4 599.0,136.1 599.0,124.3 599.5,123.4 599.5,139.1 600.0,137.2 600.0,124.5 600.5,123.4 600.5,136.7 601.0,137.4 601.0,124.7 601.5,122.4 601.5,135.6 602.0,135.7 602.0,123.7 602.5,123.9 602.5,134.9 603.0,136.3 603.0,123.6 603.5,123.3 603.5,139.5 604.0,136.8 604.0,123.8 604.5,122.9 604.5,135.0 605.0,137.5 605.0,121.8 605.5,124.5 605.5,135.1 606.0,136.9 606.0,123.0 606.5,120.7 606.5,136.8 607.0,137.6 607.0,120.0 607.5,122.7 607.5,135.6 608.0,135.5 608.0,124.4 608.5,123.3 608.5,137.4 609.0,136.3 609.0,124.1 609.5,123.9 609.5,136.2 610.0,137.4 610.0,123.5 610.5,124.5 610.5,137.2 611.0,136.9 611.0,123.5 611.5,124.8 611.5,136.7 612.0,135.5 612.0,123.8 612.5,123.6 612.5,135.1 613.0,135.3 613.0,122.3 613.5,123.7 613.5,137.3 614.0,137.1 614.0,125.0 614.5,124.3 614.5,136.1 615.0,136.3 615.0,123.6 615.5,123.0 615.5,135.2 616.0,134.6 616.0,121.0 616.5,122.3 616.5,136.1 617.0,138.1 617.0,122.9 617.5,124.0 617.5,136.3 618.0,136.6 618.0,122.9 618.5,122.9 618.5,137.4 619.0,136.5 619.0,123.9 619.5,123.6 619.5,138.5 620.0,136.4 620.0,125.5 620.5,123.7 620.5,136.0 621.0,136.5 621.0,122.3 621.5,122.4 621.5,139.9 622.0,137.3 622.0,123.6 622.5,124.1 622.5,137.2 623.0,137.1 623.0,122.1 623.5,121.2 623.5,135.9 624.0,138.6 624.0,124.2 624.5,123.0 624.5,135.0 625.0,137.0 625.0,123.2 625.5,122.0 625.5,136.8 626.0,136.7 626.0,123.7 626.5,122.8 626.5,137.8 627.0,135.3 627.0,124.0 627.5,123.7 627.5,136.2 628.0,136.6 628.0,124.3 628.5,124.2 628.5,137.1 629.0,138.2 629.0,123.3 629.5,122.2 629.5,138.9 630.0,135.9 630.0,120.3 630.5,124.4 630.5,136.9 631.0,135.6 631.0,123.0 631.5,125.1 631.5,140.3 632.0,137.0 632.0,122.7 632.5,123.9 632.5,136.9 633.0,137.3 633.0,122.4 633.5,123.1 633.5,137.4 634.0,136.8 634.0,122.6 634.5,123.6 634.5,137.8 635.0,137.2 635.0,118.4 635.5,124.5 635.5,137.3 636.0,140.2 636.0,123.1 636.5,123.7 636.5,135.9 637.0,135.5 637.0,123.3 637.5,124.2 637.5,137.4 638.0,135.7 638.0,118.8 638.5,123.6 638.5,136.9 639.0,136.3 639.0,125.5 639.5,123.8 639.5,137.5 640.0,136.6 640.0,122.6 640.5,125.3 640.5,135.9 641.0,137.0 641.0,124.3 641.5,122.6 641.5,136.9 642.0,135.2 642.0,123.9 642.5,120.8 642.5,140.7 643.0,138.7 643.0,124.9 643.5,123.3 643.5,136.9 644.0,136.8 644.0,123.0 644.5,121.1 644.5,139.5 645.0,135.9 645.0,124.0 645.5,121.4 645.5,136.9 646.0,136.3 646.0,122.5 646.5,120.2 646.5,137.8 647.0,135.7 647.0,122.1 647.5,124.5 647.5,138.0 648.0,136.7 648.0,124.0 648.5,121.6 648.5,136.9 649.0,137.2 649.0,124.0 649.5,123.3 649.5,136.9 650.0,136.4 650.0,123.9 650.5,122.9 650.5,137.1 651.0,136.9 651.0,122.5 651.5,122.4 651.5,139.5 652.0,138.0 652.0,124.2 652.5,123.2 652.5,139.6 653.0,140.7 653.0,124.3 653.5,124.0 653.5,135.5 654.0,136.6 654.0,122.3 654.5,122.8 654.5,137.1 655.0,137.5 655.0,123.6 655.5,122.5 655.5,139.0 656.0,135.6 656.0,124.0 656.5,124.4 656.5,136.0 657.0,136.3 657.0,122.3 657.5,122.8 657.5,137.6 658.0,138.7 658.0,122.2 658.5,121.4 658.5,138.6 659.0,135.8 659.0,122.5 659.5,123.7 659.5,136.8 660.0,135.2 660.0,121.1 660.5,123.6 660.5,136.6 661.0,136.2 661.0,123.4 661.5,124.9 661.5,135.6 662.0,136.0 662.0,123.7 662.5,123.5 662.5,138.2 663.0,136.4 663.0,121.9 663.5,125.2 663.5,135.4 664.0,135.8 664.0,123.3 664.5,124.5 664.5,135.8 665.0,136.1 665.0,124.5 665.5,123.2 665.5,136.5 666.0,136.2 666.0,122.9 666.5,123.5 666.5,136.3 667.0,137.2 667.0,120.4 667.5,125.3 667.5,138.3 668.0,135.9 668.0,123.2 668.5,122.8 668.5,135.7 669.0,137.6 669.0,121.7 669.5,123.7 669.5,135.7 670.0,136.2 670.0,124.3 670.5,122.7 670.5,135.8 671.0,137.0 671.0,124.2 671.5,122.2 671.5,136.5 672.0,136.6 672.0,122.0 672.5,122.1 672.5,138.1 673.0,135.5 673.0,123.2 673.5,122.4 673.5,136.4 674.0,137.2 674.0,123.5 674.5,122.3 674.5,138.5 675.0,135.5 675.0,120.1 675.5,122.4 675.5,137.7 676.0,137.1 676.0,121.0 676.5,122.2 676.5,138.6 677.0,135.2 677.0,123.6 677.5,122.1 677.5,135.9 678.0,138.0 678.0,123.3 678.5,119.7 678.5,141.7 679.0,135.5 679.0,123.6 679.5,122.9 679.5,135.8 680.0,137.0 680.0,124.5 680.5,122.9 680.5,136.0 681.0,136.1 681.0,124.0 681.5,121.4 681.5,137.9 682.0,138.9 682.0,124.9 682.5,120.2 682.5,136.6 683.0,137.5 683.0,122.5 683.5,122.6 683.5,136.9 684.0,134.9 684.0,123.7 684.5,124.1 684.5,136.7 685.0,138.2 685.0,120.8 685.5,123.9 685.5,134.8 686.0,137.0 686.0,124.5 686.5,122.6 686.5,138.0 687.0,138.2 687.0,123.7 687.5,122.8 687.5,135.6 688.0,137.6 688.0,124.3 688.5,123.8 688.5,136.9 689.0,136.7 689.0,124.7 689.5,124.0 689.5,138.9 690.0,136.7 690.0,122.2 690.5,122.5 690.5,136.2 691.0,137.0 691.0,124.4 691.5,123.4 691.5,137.8 692.0,137.1 692.0,122.6 692.5,123.4 692.5,135.8 693.0,137.4 693.0,122.8 693.5,123.0 693.5,136.3 694.0,135.5 694.0,122.9 694.5,123.7 694.5,137.0 695.0,138.1 695.0,123.8 695.5,122.0 695.5,135.8 696.0,135.9 696.0,124.8 696.5,125.1 696.5,138.0 697.0,138.8 697.0,124.2 697.5,123.9 697.5,140.4 698.0,136.2 698.0,122.5 698.5,124.1 698.5,137.5 699.0,135.8 699.0,123.8 699.5,122.7 699.5,138.2 700.0,136.1 700.0,122.6 700.5,122.0 700.5,137.2 701.0,144.2 701.0,123.6 701.5,124.1 701.5,136.5 702.0,136.4 702.0,124.5 702.5,122.3 702.5,137.7 703.0,140.7 703.0,123.7 703.5,123.4 703.5,136.7 704.0,137.1 704.0,122.0 704.5,124.3 704.5,136.9 705.0,136.7 705.0,122.6 705.5,122.8 705.5,138.4 706.0,136.8 706.0,123.0 706.5,124.9 706.5,136.2 707.0,136.1 707.0,122.8 707.5,124.5 707.5,135.1 708.0,137.2 708.0,120.6 708.5,123.4 708.5,137.3 709.0,135.9 709.0,123.0 709.5,123.7 709.5,135.1 710.0,137.4 710.0,123.2 710.5,122.5 710.5,138.5 711.0,136.6 711.0,124.8 711.5,122.5 711.5,135.1 712.0,136.1 712.0,121.3 712.5,122.6 712.5,135.8 713.0,137.1 713.0,122.5 713.5,122.9 713.5,136.5 714.0,137.4 714.0,124.7 714.5,120.3 714.5,136.4 715.0,135.3 715.0,121.8 715.5,124.0 715.5,136.7 716.0,140.0 716.0,123.8 716.5,120.7 716.5,136.2 717.0,137.1 717.0,124.0 717.5,123.2 717.5,136.7 718.0,136.4 718.0,121.5 718.5,123.5 718.5,139.2 719.0,136.4 719.0,124.0 719.5,122.3 719.5,138.6 720.0,136.8 720.0,123.8 720.5,123.8 720.5,136.6 721.0,135.5 721.0,122.5 721.5,123.9 721.5,137.2 722.0,136.2 722.0,123.6 722.5,124.8 722.5,136.6 723.0,136.3 723.0,122.6 723.5,123.3 723.5,134.7 724.0,134.5 724.0,123.7 724.5,124.8 724.5,138.1" fill="none" stroke="#00f" stroke-width="1.7" stroke-linejoin="round" stroke-linecap="round"/>
<path d="M208.4 140.0V152.5M217.4 143.3V158.1M226.2 143.2V152.2M234.6 137.9V149.2M243.5 137.0V151.0M251.4 137.0V150.3M260.4 137.0V151.2M269.1 137.0V151.2M277.6 137.0V152.5M286.3 137.0V155.3M295.3 137.0V146.9M303.7 137.0V153.5M312.1 137.0V150.3M320.5 137.0V153.5M328.9 139.4V160.9M331.4 140.1V180.2M338.3 137.1V148.4M343.5 137.0V204.5M346.7 137.0V149.7M355.1 137.0V145.1M363.5 137.0V159.5M372.3 137.1V149.2M380.9 138.1V154.4M389.7 141.0V150.3M398.1 142.2V145.1M406.5 139.5V147.3M414.9 138.1V149.2M420.5 139.0V161.3M423.9 138.9V145.1M432.3 138.9V155.3M441.1 138.9V150.3M449.5 138.9V145.1M458.5 138.4V148.4M467.2 137.8V149.7M475.5 137.3V152.5M484.4 137.0V152.2M492.5 137.0V154.4M501.6 137.0V150.3M510.2 137.0V157.2M514.3 137.0V147.9M518.6 137.0V152.2M527.4 137.1V152.2M535.3 139.2V147.9M544.2 142.1V155.3M553.2 137.4V151.2M561.6 137.0V149.2M570.4 137.0V147.3M579.4 137.0V147.3M587.6 137.0V152.2M596.2 137.0V151.2M604.4 137.0V155.3M613.4 137.0V155.9M622.2 137.0V155.3M630.2 137.0V154.4M639.2 137.0V153.5M647.6 137.0V152.2M652.2 137.0V149.7M656.4 137.0V154.4M665.1 137.0V149.2M673.5 137.0V147.3M682.5 137.0V151.2M690.4 137.0V151.2M699.3 137.0V150.3M708.3 137.0V150.3M716.2 137.0V153.5M246.3 122.9V114.4M314.0 122.9V119.0M331.4 121.7V72.3M343.5 122.9V100.3M355.1 122.9V119.0M388.4 119.6V98.5M538.2 119.9V111.6M564.4 122.9V118.1M619.0 122.9V119.4M641.4 122.9V119.4M654.5 122.9V120.0M678.8 122.9V120.0" stroke="#00f" stroke-width="2" stroke-linecap="round" fill="none"/>
<polyline points="203.5,412.3 203.5,441.9 204.0,441.0 204.0,403.8 204.5,409.1 204.5,438.6 205.0,441.1 205.0,413.8 205.5,409.0 205.5,441.8 206.0,441.2 206.0,409.3 206.5,411.5 206.5,445.1 207.0,447.9 207.0,408.2 207.5,407.4 207.5,442.6 208.0,446.2 208.0,402.7 208.5,405.5 208.5,449.1 209.0,445.1 209.0,403.9 209.5,403.3 209.5,443.4 210.0,442.5 210.0,401.4 210.5,401.0 210.5,444.1 211.0,444.7 211.0,399.6 211.5,401.0 211.5,445.7 212.0,446.1 212.0,402.9 212.5,403.7 212.5,438.5 213.0,445.8 213.0,398.9 213.5,404.3 213.5,443.5 214.0,444.3 214.0,394.9 214.5,405.0 214.5,449.5 215.0,446.5 215.0,405.0 215.5,402.5 215.5,449.4 216.0,446.0 216.0,405.0 216.5,405.0 216.5,440.8 217.0,446.1 217.0,400.0 217.5,404.8 217.5,445.0 218.0,441.7 218.0,404.5 218.5,404.2 218.5,445.5 219.0,441.1 219.0,403.1 219.5,403.0 219.5,440.8 220.0,445.8 220.0,401.6 220.5,401.3 220.5,443.3 221.0,442.4 221.0,401.1 221.5,398.9 221.5,440.9 222.0,441.4 222.0,402.5 222.5,403.1 222.5,441.0 223.0,448.7 223.0,403.0 223.5,400.4 223.5,450.5 224.0,438.1 224.0,404.0 224.5,405.1 224.5,443.7 225.0,446.6 225.0,405.5 225.5,401.9 225.5,446.0 226.0,445.8 226.0,395.8 226.5,406.6 226.5,441.1 227.0,444.8 227.0,406.9 227.5,407.8 227.5,451.4 228.0,444.2 228.0,411.0 228.5,408.7 228.5,446.6 229.0,443.4 229.0,409.9 229.5,409.9 229.5,443.9 230.0,440.3 230.0,413.7 230.5,409.2 230.5,443.1 231.0,449.9 231.0,410.8 231.5,414.5 231.5,443.0 232.0,444.2 232.0,409.4 232.5,410.4 232.5,448.2 233.0,440.7 233.0,405.1 233.5,410.8 233.5,439.7 234.0,446.3 234.0,410.3 234.5,408.6 234.5,441.3 235.0,442.3 235.0,406.5 235.5,405.4 235.5,439.9 236.0,441.5 236.0,406.2 236.5,408.2 236.5,439.6 237.0,443.9 237.0,410.0 237.5,411.0 237.5,440.8 238.0,445.3 238.0,408.8 238.5,411.4 238.5,442.5 239.0,447.0 239.0,411.0 239.5,412.9 239.5,439.8 240.0,438.6 240.0,411.6 240.5,414.0 240.5,440.3 241.0,441.0 241.0,412.5 241.5,407.3 241.5,444.3 242.0,441.2 242.0,412.0 242.5,411.8 242.5,443.1 243.0,442.2 243.0,411.2 243.5,410.6 243.5,439.7 244.0,441.5 244.0,412.3 244.5,415.7 244.5,441.5 245.0,445.1 245.0,415.4 245.5,413.6 245.5,442.8 246.0,438.9 246.0,410.0 246.5,411.6 246.5,440.3 247.0,442.2 247.0,412.9 247.5,412.5 247.5,441.5 248.0,441.1 248.0,409.4 248.5,411.7 248.5,441.4 249.0,444.3 249.0,411.8 249.5,413.8 249.5,444.1 250.0,444.2 250.0,411.6 250.5,404.0 250.5,441.9 251.0,440.0 251.0,414.9 251.5,412.1 251.5,442.5 252.0,442.5 252.0,405.9 252.5,407.9 252.5,440.9 253.0,442.8 253.0,412.8 253.5,413.6 253.5,439.5 254.0,446.8 254.0,411.7 254.5,411.6 254.5,442.3 255.0,441.2 255.0,412.1 255.5,410.7 255.5,440.9 256.0,440.5 256.0,415.9 256.5,410.8 256.5,443.6 257.0,439.5 257.0,411.1 257.5,409.8 257.5,444.3 258.0,442.5 258.0,412.8 258.5,412.5 258.5,445.9 259.0,441.3 259.0,411.2 259.5,410.0 259.5,440.1 260.0,441.6 260.0,409.6 260.5,413.8 260.5,442.9 261.0,443.7 261.0,413.3 261.5,412.9 261.5,448.5 262.0,442.0 262.0,414.0 262.5,410.9 262.5,442.6 263.0,442.3 263.0,411.9 263.5,411.1 263.5,439.5 264.0,443.7 264.0,414.5 264.5,412.8 264.5,440.6 265.0,441.7 265.0,411.5 265.5,411.9 265.5,440.2 266.0,440.7 266.0,410.3 266.5,412.9 266.5,447.0 267.0,440.3 267.0,409.2 267.5,413.3 267.5,441.0 268.0,441.9 268.0,412.4 268.5,414.1 268.5,443.6 269.0,441.4 269.0,404.9 269.5,414.9 269.5,440.9 270.0,439.6 270.0,413.5 270.5,412.3 270.5,441.0 271.0,443.7 271.0,416.1 271.5,412.5 271.5,442.5 272.0,441.3 272.0,407.9 272.5,413.3 272.5,437.6 273.0,441.7 273.0,413.4 273.5,408.6 273.5,445.6 274.0,437.4 274.0,414.1 274.5,412.6 274.5,440.3 275.0,444.6 275.0,404.9 275.5,409.5 275.5,440.3 276.0,441.7 276.0,414.2 276.5,409.5 276.5,447.2 277.0,441.4 277.0,405.5 277.5,409.2 277.5,441.9 278.0,437.5 278.0,414.0 278.5,413.1 278.5,443.3 279.0,441.7 279.0,412.7 279.5,413.9 279.5,442.6 280.0,440.0 280.0,411.8 280.5,411.0 280.5,442.0 281.0,443.4 281.0,409.9 281.5,412.9 281.5,440.9 282.0,440.9 282.0,411.0 282.5,416.0 282.5,438.3 283.0,441.9 283.0,408.2 283.5,412.2 283.5,444.8 284.0,444.1 284.0,413.4 284.5,414.2 284.5,439.3 285.0,436.9 285.0,413.5 285.5,411.1 285.5,447.4 286.0,440.1 286.0,412.1 286.5,414.9 286.5,440.6 287.0,443.3 287.0,407.5 287.5,409.7 287.5,440.0 288.0,444.9 288.0,414.2 288.5,414.8 288.5,446.0 289.0,439.6 289.0,412.5 289.5,407.8 289.5,442.0 290.0,440.7 290.0,410.9 290.5,411.6 290.5,440.7 291.0,439.9 291.0,414.2 291.5,408.7 291.5,441.6 292.0,444.3 292.0,412.1 292.5,412.0 292.5,440.8 293.0,444.8 293.0,413.0 293.5,408.8 293.5,441.2 294.0,441.2 294.0,412.2 294.5,415.2 294.5,444.6 295.0,440.6 295.0,415.0 295.5,415.9 295.5,438.1 296.0,446.9 296.0,414.4 296.5,411.6 296.5,439.5 297.0,441.2 297.0,412.1 297.5,410.4 297.5,440.0 298.0,445.5 298.0,409.8 298.5,415.9 298.5,437.9 299.0,437.5 299.0,406.6 299.5,412.6 299.5,440.8 300.0,445.6 300.0,413.0 300.5,415.5 300.5,441.8 301.0,442.3 301.0,413.1 301.5,415.8 301.5,444.0 302.0,441.8 302.0,414.1 302.5,409.9 302.5,440.9 303.0,442.5 303.0,412.5 303.5,407.5 303.5,438.6 304.0,442.6 304.0,412.4 304.5,415.0 304.5,438.5 305.0,440.5 305.0,411.1 305.5,410.2 305.5,440.8 306.0,443.3 306.0,410.7 306.5,410.8 306.5,442.4 307.0,439.1 307.0,403.1 307.5,409.8 307.5,439.5 308.0,442.1 308.0,409.8 308.5,410.9 308.5,441.4 309.0,443.4 309.0,412.5 309.5,407.9 309.5,441.1 310.0,438.4 310.0,410.0 310.5,415.1 310.5,442.6 311.0,439.9 311.0,414.4 311.5,413.7 311.5,440.8 312.0,441.6 312.0,411.5 312.5,414.0 312.5,440.0 313.0,445.0 313.0,416.6 313.5,412.9 313.5,440.0 314.0,441.6 314.0,412.4 314.5,413.6 314.5,438.5 315.0,439.6 315.0,413.3 315.5,413.6 315.5,440.0 316.0,449.3 316.0,409.6 316.5,410.1 316.5,438.5 317.0,442.0 317.0,410.8 317.5,414.5 317.5,444.5 318.0,441.3 318.0,413.8 318.5,409.7 318.5,439.8 319.0,439.0 319.0,408.1 319.5,409.6 319.5,436.9 320.0,440.4 320.0,412.8 320.5,412.4 320.5,440.2 321.0,446.8 321.0,411.2 321.5,410.7 321.5,441.2 322.0,439.1 322.0,407.1 322.5,411.2 322.5,442.0 323.0,441.1 323.0,414.8 323.5,411.8 323.5,439.8 324.0,444.2 324.0,413.3 324.5,409.8 324.5,443.0 325.0,440.4 325.0,405.9 325.5,405.6 325.5,447.7 326.0,443.4 326.0,408.4 326.5,400.9 326.5,444.5 327.0,443.0 327.0,409.6 327.5,408.2 327.5,442.6 328.0,445.1 328.0,407.8 328.5,407.6 328.5,447.2 329.0,454.7 329.0,407.1 329.5,402.5 329.5,452.1 330.0,450.9 330.0,399.6 330.5,388.3 330.5,451.2 331.0,454.9 331.0,375.0 331.5,368.8 331.5,456.2 332.0,451.2 332.0,375.2 332.5,389.0 332.5,449.8 333.0,450.7 333.0,401.0 333.5,407.2 333.5,446.9 334.0,448.3 334.0,409.4 334.5,410.2 334.5,452.4 335.0,450.3 335.0,410.5 335.5,411.4 335.5,441.0 336.0,444.6 336.0,406.8 336.5,411.7 336.5,447.1 337.0,441.4 337.0,411.0 337.5,415.6 337.5,443.0 338.0,444.4 338.0,410.1 338.5,410.2 338.5,440.1 339.0,440.2 339.0,411.8 339.5,417.3 339.5,436.8 340.0,441.7 340.0,414.3 340.5,411.1 340.5,443.0 341.0,444.0 341.0,411.3 341.5,408.9 341.5,439.8 342.0,441.1 342.0,414.3 342.5,413.8 342.5,440.2 343.0,439.1 343.0,414.2 343.5,410.2 343.5,447.3 344.0,439.6 344.0,409.9 344.5,412.1 344.5,443.1 345.0,442.3 345.0,411.8 345.5,413.5 345.5,442.7 346.0,443.7 346.0,414.9 346.5,409.4 346.5,443.1 347.0,440.8 347.0,411.1 347.5,412.3 347.5,439.5 348.0,442.1 348.0,411.5 348.5,412.8 348.5,446.9 349.0,441.5 349.0,405.1 349.5,411.3 349.5,445.0 350.0,441.4 350.0,408.7 350.5,412.1 350.5,442.6 351.0,438.7 351.0,410.2 351.5,411.4 351.5,439.4 352.0,443.9 352.0,411.4 352.5,411.3 352.5,442.3 353.0,439.5 353.0,411.1 353.5,410.8 353.5,439.2 354.0,439.8 354.0,409.2 354.5,407.7 354.5,439.4 355.0,438.3 355.0,405.7 355.5,407.1 355.5,449.5 356.0,439.1 356.0,408.5 356.5,408.6 356.5,438.7 357.0,442.1 357.0,408.9 357.5,410.5 357.5,441.2 358.0,444.3 358.0,409.5 358.5,411.3 358.5,444.1 359.0,442.5 359.0,411.4 359.5,411.4 359.5,438.2 360.0,438.7 360.0,411.4 360.5,411.3 360.5,439.3 361.0,445.4 361.0,410.4 361.5,410.4 361.5,440.7 362.0,443.6 362.0,409.8 362.5,409.1 362.5,440.4 363.0,440.2 363.0,407.3 363.5,406.5 363.5,448.0 364.0,439.6 364.0,406.9 364.5,408.4 364.5,439.9 365.0,439.3 365.0,409.8 365.5,411.1 365.5,449.4 366.0,441.9 366.0,411.3 366.5,411.4 366.5,439.5 367.0,443.8 367.0,411.4 367.5,411.4 367.5,439.9 368.0,441.5 368.0,413.3 368.5,412.7 368.5,443.8 369.0,439.8 369.0,413.7 369.5,412.4 369.5,442.1 370.0,442.7 370.0,413.4 370.5,412.1 370.5,443.4 371.0,442.0 371.0,410.2 371.5,412.2 371.5,440.4 372.0,442.0 372.0,413.6 372.5,408.5 372.5,438.4 373.0,439.3 373.0,409.8 373.5,417.3 373.5,444.9 374.0,440.9 374.0,413.0 374.5,411.3 374.5,439.0 375.0,437.7 375.0,412.8 375.5,405.9 375.5,440.5 376.0,442.9 376.0,413.7 376.5,407.8 376.5,442.9 377.0,443.8 377.0,412.2 377.5,415.7 377.5,442.7 378.0,447.1 378.0,411.5 378.5,410.6 378.5,441.7 379.0,443.3 379.0,411.2 379.5,410.2 379.5,441.7 380.0,446.9 380.0,414.0 380.5,410.0 380.5,444.7 381.0,446.0 381.0,411.5 381.5,411.0 381.5,442.6 382.0,446.3 382.0,411.6 382.5,407.4 382.5,445.6 383.0,442.6 383.0,412.0 383.5,411.7 383.5,442.6 384.0,445.1 384.0,405.5 384.5,406.3 384.5,445.8 385.0,450.7 385.0,412.2 385.5,407.2 385.5,444.8 386.0,448.0 386.0,410.6 386.5,410.4 386.5,440.9 387.0,446.9 387.0,412.1 387.5,407.5 387.5,443.7 388.0,438.2 388.0,408.7 388.5,405.2 388.5,441.5 389.0,442.4 389.0,412.1 389.5,408.4 389.5,445.1 390.0,441.8 390.0,401.5 390.5,409.9 390.5,448.5 391.0,442.5 391.0,399.1 391.5,410.3 391.5,452.4 392.0,442.5 392.0,411.1 392.5,408.6 392.5,447.2 393.0,445.8 393.0,405.3 393.5,407.8 393.5,444.2 394.0,448.8 394.0,408.5 394.5,413.0 394.5,443.5 395.0,441.3 395.0,407.6 395.5,403.8 395.5,444.0 396.0,451.1 396.0,406.8 396.5,409.2 396.5,442.4 397.0,449.6 397.0,412.2 397.5,410.7 397.5,442.4 398.0,448.5 398.0,409.8 398.5,411.2 398.5,441.7 399.0,441.2 399.0,409.7 399.5,406.4 399.5,444.1 400.0,443.8 400.0,407.2 400.5,410.5 400.5,445.6 401.0,439.5 401.0,409.0 401.5,407.8 401.5,440.0 402.0,442.3 402.0,406.0 402.5,396.6 402.5,444.5 403.0,440.7 403.0,407.6 403.5,410.4 403.5,445.3 404.0,446.8 404.0,406.3 404.5,407.8 404.5,449.4 405.0,440.4 405.0,410.8 405.5,409.5 405.5,440.8 406.0,442.8 406.0,407.3 406.5,406.6 406.5,447.4 407.0,447.7 407.0,407.6 407.5,410.1 407.5,443.1 408.0,443.0 408.0,411.1 408.5,406.5 408.5,447.6 409.0,443.7 409.0,408.6 409.5,411.9 409.5,440.0 410.0,444.7 410.0,411.4 410.5,411.9 410.5,445.3 411.0,437.5 411.0,408.4 411.5,408.2 411.5,444.3 412.0,448.0 412.0,407.2 412.5,403.6 412.5,440.2 413.0,443.9 413.0,414.2 413.5,410.6 413.5,443.4 414.0,448.6 414.0,409.6 414.5,412.1 414.5,442.0 415.0,445.6 415.0,404.7 415.5,406.5 415.5,444.0 416.0,442.3 416.0,411.2 416.5,410.6 416.5,441.4 417.0,443.8 417.0,409.6 417.5,409.3 417.5,442.8 418.0,446.6 418.0,406.2 418.5,410.0 418.5,447.6 419.0,445.8 419.0,408.3 419.5,409.7 419.5,440.9 420.0,445.1 420.0,407.4 420.5,409.0 420.5,445.7 421.0,441.1 421.0,406.4 421.5,412.1 421.5,441.4 422.0,447.3 422.0,409.9 422.5,409.1 422.5,442.1 423.0,439.4 423.0,405.9 423.5,408.3 423.5,445.4 424.0,441.4 424.0,409.5 424.5,410.1 424.5,441.8 425.0,444.7 425.0,414.3 425.5,408.3 425.5,445.5 426.0,445.2 426.0,409.1 426.5,407.4 426.5,442.8 427.0,443.6 427.0,406.1 427.5,406.3 427.5,442.6 428.0,439.9 428.0,409.3 428.5,412.5 428.5,448.1 429.0,439.9 429.0,407.6 429.5,407.9 429.5,444.1 430.0,440.0 430.0,411.1 430.5,408.6 430.5,441.2 431.0,447.2 431.0,412.3 431.5,411.1 431.5,447.7 432.0,445.2 432.0,408.3 432.5,409.7 432.5,446.1 433.0,439.4 433.0,412.5 433.5,407.5 433.5,445.7 434.0,445.7 434.0,407.6 434.5,410.6 434.5,439.1 435.0,440.7 435.0,399.5 435.5,405.9 435.5,442.2 436.0,440.1 436.0,408.2 436.5,408.6 436.5,443.9 437.0,440.6 437.0,407.3 437.5,406.7 437.5,442.7 438.0,444.1 438.0,405.6 438.5,410.6 438.5,443.3 439.0,443.7 439.0,406.7 439.5,409.2 439.5,447.4 440.0,446.1 440.0,406.0 440.5,407.5 440.5,443.9 441.0,441.9 441.0,407.7 441.5,409.0 441.5,444.5 442.0,445.0 442.0,408.2 442.5,408.9 442.5,449.2 443.0,445.4 443.0,409.1 443.5,412.3 443.5,444.3 444.0,439.6 444.0,406.3 444.5,405.6 444.5,442.4 445.0,449.8 445.0,406.7 445.5,411.8 445.5,446.9 446.0,440.8 446.0,407.4 446.5,413.5 446.5,440.5 447.0,441.1 447.0,408.1 447.5,408.1 447.5,442.2 448.0,452.2 448.0,407.9 448.5,407.4 448.5,444.2 449.0,448.9 449.0,406.0 449.5,403.7 449.5,443.4 450.0,442.8 450.0,401.5 450.5,401.1 450.5,446.2 451.0,448.1 451.0,402.9 451.5,405.3 451.5,442.3 452.0,437.7 452.0,407.1 452.5,407.9 452.5,445.7 453.0,444.4 453.0,406.7 453.5,408.4 453.5,444.7 454.0,443.1 454.0,408.5 454.5,411.0 454.5,440.1 455.0,443.7 455.0,406.7 455.5,411.9 455.5,440.6 456.0,442.3 456.0,407.9 456.5,409.0 456.5,443.4 457.0,442.8 457.0,408.4 457.5,410.4 457.5,446.1 458.0,443.7 458.0,406.1 458.5,412.7 458.5,444.5 459.0,443.9 459.0,410.1 459.5,406.6 459.5,443.1 460.0,445.9 460.0,407.7 460.5,412.9 460.5,439.7 461.0,446.2 461.0,409.6 461.5,412.0 461.5,443.8 462.0,439.3 462.0,409.9 462.5,409.0 462.5,446.4 463.0,440.3 463.0,409.4 463.5,412.2 463.5,443.3 464.0,439.3 464.0,409.8 464.5,411.2 464.5,442.4 465.0,445.7 465.0,408.0 465.5,410.9 465.5,440.2 466.0,445.1 466.0,411.6 466.5,410.5 466.5,443.6 467.0,439.3 467.0,411.1 467.5,404.2 467.5,440.6 468.0,442.5 468.0,414.6 468.5,411.0 468.5,442.0 469.0,441.0 469.0,412.4 469.5,411.8 469.5,440.2 470.0,444.1 470.0,410.6 470.5,410.8 470.5,441.1 471.0,440.2 471.0,410.7 471.5,412.0 471.5,444.7 472.0,439.3 472.0,412.5 472.5,411.6 472.5,439.4 473.0,440.6 473.0,408.2 473.5,415.7 473.5,449.1 474.0,439.3 474.0,417.5 474.5,407.5 474.5,440.4 475.0,439.6 475.0,412.4 475.5,411.6 475.5,441.2 476.0,442.5 476.0,411.7 476.5,408.9 476.5,445.3 477.0,445.3 477.0,413.4 477.5,413.7 477.5,443.8 478.0,442.8 478.0,412.4 478.5,413.7 478.5,443.5 479.0,439.3 479.0,408.9 479.5,412.3 479.5,443.1 480.0,439.2 480.0,410.4 480.5,410.4 480.5,445.2 481.0,439.2 481.0,409.3 481.5,411.4 481.5,442.2 482.0,439.5 482.0,413.1 482.5,413.7 482.5,441.9 483.0,440.7 483.0,412.8 483.5,415.4 483.5,440.8 484.0,442.7 484.0,407.2 484.5,415.4 484.5,442.4 485.0,445.8 485.0,414.6 485.5,413.3 485.5,440.1 486.0,444.1 486.0,411.8 486.5,410.1 486.5,440.7 487.0,438.7 487.0,414.7 487.5,409.5 487.5,442.0 488.0,443.0 488.0,410.6 488.5,412.2 488.5,441.1 489.0,440.7 489.0,410.5 489.5,413.6 489.5,439.4 490.0,444.8 490.0,412.5 490.5,414.6 490.5,441.3 491.0,438.2 491.0,412.2 491.5,411.1 491.5,445.1 492.0,441.5 492.0,409.3 492.5,412.7 492.5,442.7 493.0,439.8 493.0,414.1 493.5,413.2 493.5,442.9 494.0,441.3 494.0,415.3 494.5,410.9 494.5,441.0 495.0,446.8 495.0,410.4 495.5,412.3 495.5,443.8 496.0,443.0 496.0,411.6 496.5,411.5 496.5,445.3 497.0,441.2 497.0,411.3 497.5,411.9 497.5,441.4 498.0,445.2 498.0,413.7 498.5,411.7 498.5,442.2 499.0,438.4 499.0,413.7 499.5,416.5 499.5,440.6 500.0,442.5 500.0,410.9 500.5,407.9 500.5,441.4 501.0,439.7 501.0,414.0 501.5,408.9 501.5,440.8 502.0,439.5 502.0,414.6 502.5,412.4 502.5,439.9 503.0,440.4 503.0,412.6 503.5,414.0 503.5,444.8 504.0,445.1 504.0,411.6 504.5,407.4 504.5,439.3 505.0,446.1 505.0,413.5 505.5,411.7 505.5,441.0 506.0,439.5 506.0,415.7 506.5,412.7 506.5,439.3 507.0,444.6 507.0,412.6 507.5,411.4 507.5,441.4 508.0,439.7 508.0,414.8 508.5,411.4 508.5,442.4 509.0,440.5 509.0,410.6 509.5,414.5 509.5,444.3 510.0,439.8 510.0,404.9 510.5,410.7 510.5,440.3 511.0,446.4 511.0,413.2 511.5,414.1 511.5,441.9 512.0,449.6 512.0,416.0 512.5,413.8 512.5,440.5 513.0,439.1 513.0,409.1 513.5,411.1 513.5,443.9 514.0,442.1 514.0,410.5 514.5,411.0 514.5,445.1 515.0,444.2 515.0,410.7 515.5,411.6 515.5,440.2 516.0,450.0 516.0,411.4 516.5,411.4 516.5,440.5 517.0,442.9 517.0,411.2 517.5,410.5 517.5,441.3 518.0,442.8 518.0,408.6 518.5,405.5 518.5,441.0 519.0,442.0 519.0,402.7 519.5,402.3 519.5,440.9 520.0,439.9 520.0,404.7 520.5,407.9 520.5,441.3 521.0,442.3 521.0,410.1 521.5,411.1 521.5,441.0 522.0,442.3 522.0,411.4 522.5,411.4 522.5,450.2 523.0,442.8 523.0,410.6 523.5,407.7 523.5,441.0 524.0,438.1 524.0,405.8 524.5,414.2 524.5,441.3 525.0,441.4 525.0,413.8 525.5,411.5 525.5,441.0 526.0,444.1 526.0,414.5 526.5,411.7 526.5,444.5 527.0,439.4 527.0,413.4 527.5,413.3 527.5,443.2 528.0,438.9 528.0,414.8 528.5,414.6 528.5,440.5 529.0,446.2 529.0,412.4 529.5,414.8 529.5,443.7 530.0,440.5 530.0,412.9 530.5,414.6 530.5,442.7 531.0,443.6 531.0,412.8 531.5,414.2 531.5,444.5 532.0,436.2 532.0,413.9 532.5,406.8 532.5,442.5 533.0,442.1 533.0,413.6 533.5,406.8 533.5,442.7 534.0,443.3 534.0,410.5 534.5,409.5 534.5,441.0 535.0,441.3 535.0,412.7 535.5,413.1 535.5,442.4 536.0,443.4 536.0,413.9 536.5,411.5 536.5,442.2 537.0,440.7 537.0,411.3 537.5,413.7 537.5,445.8 538.0,442.1 538.0,408.4 538.5,408.0 538.5,442.5 539.0,440.7 539.0,412.1 539.5,410.2 539.5,441.0 540.0,446.0 540.0,412.2 540.5,407.1 540.5,444.5 541.0,445.0 541.0,402.7 541.5,412.7 541.5,449.1 542.0,441.0 542.0,410.5 542.5,404.4 542.5,446.0 543.0,442.3 543.0,409.2 543.5,410.1 543.5,450.8 544.0,443.4 544.0,402.1 544.5,402.4 544.5,444.6 545.0,445.5 545.0,408.5 545.5,404.4 545.5,443.6 546.0,447.7 546.0,403.9 546.5,409.0 546.5,437.1 547.0,448.3 547.0,411.3 547.5,410.4 547.5,443.7 548.0,439.7 548.0,411.3 548.5,411.2 548.5,450.1 549.0,444.7 549.0,405.9 549.5,411.2 549.5,441.5 550.0,449.5 550.0,408.6 550.5,410.7 550.5,439.3 551.0,446.3 551.0,411.1 551.5,406.9 551.5,440.3 552.0,442.9 552.0,407.6 552.5,412.0 552.5,438.7 553.0,441.3 553.0,410.1 553.5,410.5 553.5,440.2 554.0,444.7 554.0,414.2 554.5,412.8 554.5,439.4 555.0,443.7 555.0,413.2 555.5,415.5 555.5,439.6 556.0,440.9 556.0,416.2 556.5,412.7 556.5,442.6 557.0,444.1 557.0,411.7 557.5,408.8 557.5,455.2 558.0,440.9 558.0,408.9 558.5,414.0 558.5,442.8 559.0,442.9 559.0,409.4 559.5,411.9 559.5,439.5 560.0,445.3 560.0,408.9 560.5,414.3 560.5,440.6 561.0,443.1 561.0,411.4 561.5,411.4 561.5,441.9 562.0,440.5 562.0,411.1 562.5,410.2 562.5,442.4 563.0,440.0 563.0,408.3 563.5,405.4 563.5,440.0 564.0,440.1 564.0,403.4 564.5,403.8 564.5,440.9 565.0,442.3 565.0,403.2 565.5,409.0 565.5,441.2 566.0,440.7 566.0,410.6 566.5,411.2 566.5,439.3 567.0,441.3 567.0,411.4 567.5,410.7 567.5,442.3 568.0,439.8 568.0,411.3 568.5,414.2 568.5,448.2 569.0,446.6 569.0,414.6 569.5,410.7 569.5,439.9 570.0,443.3 570.0,414.2 570.5,412.9 570.5,444.1 571.0,445.5 571.0,411.8 571.5,413.2 571.5,442.6 572.0,441.4 572.0,413.1 572.5,410.3 572.5,442.9 573.0,440.6 573.0,408.4 573.5,413.0 573.5,443.7 574.0,438.5 574.0,412.0 574.5,411.0 574.5,441.5 575.0,444.1 575.0,407.8 575.5,408.2 575.5,441.0 576.0,440.4 576.0,414.5 576.5,414.6 576.5,440.9 577.0,440.7 577.0,413.6 577.5,412.9 577.5,442.4 578.0,446.7 578.0,410.8 578.5,413.9 578.5,442.0 579.0,446.0 579.0,412.3 579.5,414.5 579.5,441.6 580.0,441.3 580.0,413.9 580.5,414.3 580.5,438.7 581.0,445.5 581.0,412.9 581.5,409.6 581.5,442.7 582.0,439.7 582.0,413.5 582.5,413.4 582.5,441.1 583.0,442.5 583.0,408.7 583.5,411.6 583.5,443.3 584.0,440.2 584.0,408.7 584.5,409.8 584.5,440.5 585.0,441.4 585.0,410.1 585.5,407.3 585.5,442.1 586.0,439.4 586.0,403.7 586.5,415.5 586.5,441.6 587.0,443.7 587.0,414.1 587.5,411.0 587.5,442.9 588.0,436.9 588.0,414.4 588.5,408.9 588.5,441.8 589.0,445.8 589.0,412.9 589.5,412.2 589.5,441.5 590.0,445.3 590.0,415.4 590.5,413.8 590.5,440.1 591.0,439.0 591.0,413.5 591.5,414.7 591.5,443.8 592.0,439.7 592.0,408.0 592.5,416.0 592.5,442.3 593.0,439.2 593.0,413.2 593.5,412.1 593.5,439.5 594.0,445.1 594.0,415.5 594.5,413.2 594.5,443.0 595.0,441.9 595.0,413.8 595.5,409.5 595.5,442.9 596.0,442.8 596.0,410.6 596.5,409.6 596.5,440.5 597.0,442.5 597.0,414.2 597.5,411.2 597.5,441.4 598.0,451.7 598.0,414.9 598.5,412.7 598.5,439.5 599.0,441.3 599.0,413.5 599.5,410.7 599.5,444.3 600.0,439.9 600.0,414.0 600.5,410.6 600.5,440.8 601.0,441.1 601.0,414.6 601.5,409.8 601.5,440.0 602.0,439.1 602.0,408.2 602.5,413.3 602.5,442.9 603.0,446.1 603.0,411.7 603.5,412.6 603.5,446.9 604.0,442.7 604.0,412.2 604.5,406.5 604.5,440.1 605.0,438.7 605.0,413.3 605.5,412.2 605.5,441.7 606.0,445.0 606.0,412.8 606.5,411.3 606.5,448.9 607.0,442.7 607.0,414.0 607.5,412.0 607.5,440.0 608.0,438.6 608.0,407.6 608.5,409.9 608.5,442.5 609.0,439.5 609.0,409.3 609.5,409.5 609.5,438.9 610.0,442.2 610.0,411.2 610.5,411.9 610.5,442.6 611.0,442.1 611.0,411.6 611.5,414.7 611.5,441.8 612.0,442.1 612.0,415.4 612.5,413.8 612.5,441.1 613.0,441.0 613.0,412.2 613.5,412.4 613.5,447.1 614.0,443.8 614.0,411.8 614.5,414.1 614.5,439.2 615.0,439.4 615.0,414.8 615.5,410.1 615.5,438.5 616.0,439.2 616.0,413.6 616.5,414.4 616.5,441.7 617.0,447.3 617.0,412.9 617.5,415.2 617.5,440.0 618.0,442.1 618.0,416.6 618.5,413.1 618.5,441.6 619.0,441.8 619.0,410.7 619.5,407.9 619.5,436.4 620.0,437.5 620.0,416.3 620.5,408.9 620.5,444.6 621.0,439.8 621.0,413.4 621.5,404.1 621.5,441.3 622.0,444.4 622.0,415.4 622.5,413.7 622.5,440.2 623.0,440.3 623.0,409.8 623.5,411.0 623.5,439.7 624.0,441.6 624.0,415.5 624.5,408.9 624.5,448.2 625.0,438.8 625.0,409.1 625.5,412.7 625.5,438.6 626.0,441.8 626.0,413.4 626.5,410.4 626.5,440.6 627.0,442.7 627.0,414.8 627.5,413.0 627.5,441.7 628.0,437.5 628.0,414.4 628.5,416.2 628.5,449.0 629.0,443.9 629.0,413.0 629.5,410.3 629.5,443.2 630.0,441.3 630.0,412.0 630.5,410.1 630.5,441.7 631.0,445.7 631.0,409.6 631.5,414.6 631.5,442.0 632.0,445.4 632.0,408.9 632.5,410.5 632.5,441.0 633.0,439.3 633.0,410.1 633.5,412.6 633.5,441.6 634.0,444.7 634.0,410.0 634.5,415.6 634.5,443.6 635.0,441.8 635.0,414.3 635.5,413.7 635.5,440.1 636.0,439.0 636.0,412.1 636.5,411.5 636.5,441.3 637.0,443.7 637.0,410.5 637.5,403.5 637.5,443.2 638.0,443.9 638.0,413.0 638.5,412.9 638.5,444.7 639.0,440.4 639.0,413.1 639.5,406.7 639.5,439.6 640.0,441.5 640.0,412.2 640.5,414.8 640.5,440.0 641.0,440.8 641.0,411.7 641.5,413.2 641.5,443.6 642.0,438.3 642.0,412.2 642.5,412.9 642.5,438.5 643.0,447.1 643.0,413.8 643.5,414.6 643.5,439.9 644.0,442.0 644.0,414.9 644.5,411.8 644.5,442.7 645.0,443.0 645.0,414.0 645.5,415.7 645.5,442.1 646.0,439.3 646.0,413.7 646.5,414.9 646.5,442.2 647.0,438.4 647.0,409.3 647.5,411.4 647.5,440.3 648.0,441.1 648.0,411.3 648.5,414.6 648.5,441.2 649.0,439.7 649.0,410.5 649.5,413.7 649.5,438.8 650.0,441.9 650.0,415.7 650.5,413.8 650.5,439.8 651.0,442.3 651.0,407.5 651.5,411.1 651.5,442.4 652.0,440.7 652.0,410.9 652.5,414.6 652.5,441.2 653.0,441.8 653.0,413.6 653.5,416.5 653.5,443.4 654.0,440.1 654.0,413.4 654.5,413.6 654.5,445.3 655.0,442.8 655.0,410.8 655.5,413.6 655.5,442.0 656.0,438.2 656.0,413.3 656.5,412.4 656.5,443.9 657.0,443.2 657.0,414.2 657.5,410.6 657.5,446.5 658.0,440.6 658.0,414.9 658.5,412.0 658.5,440.0 659.0,442.8 659.0,412.3 659.5,410.3 659.5,442.2 660.0,443.1 660.0,414.1 660.5,410.3 660.5,445.4 661.0,441.3 661.0,411.7 661.5,410.5 661.5,446.3 662.0,442.7 662.0,408.0 662.5,412.0 662.5,443.7 663.0,440.2 663.0,412.0 663.5,411.6 663.5,438.8 664.0,444.4 664.0,411.8 664.5,412.1 664.5,446.0 665.0,437.8 665.0,409.3 665.5,412.5 665.5,443.6 666.0,441.5 666.0,415.2 666.5,410.0 666.5,445.1 667.0,440.3 667.0,406.2 667.5,409.7 667.5,440.1 668.0,442.7 668.0,406.4 668.5,413.4 668.5,439.7 669.0,442.9 669.0,414.6 669.5,412.5 669.5,439.1 670.0,443.6 670.0,410.6 670.5,411.1 670.5,444.3 671.0,439.5 671.0,414.8 671.5,411.0 671.5,443.6 672.0,437.8 672.0,414.3 672.5,409.2 672.5,440.9 673.0,437.7 673.0,412.8 673.5,413.5 673.5,438.8 674.0,442.9 674.0,412.6 674.5,416.0 674.5,439.7 675.0,441.6 675.0,412.3 675.5,411.1 675.5,441.2 676.0,441.9 676.0,413.6 676.5,412.0 676.5,442.8 677.0,442.9 677.0,412.2 677.5,409.3 677.5,440.2 678.0,439.4 678.0,409.2 678.5,413.8 678.5,442.9 679.0,439.1 679.0,409.0 679.5,413.4 679.5,444.2 680.0,440.8 680.0,413.8 680.5,413.1 680.5,446.5 681.0,441.0 681.0,415.5 681.5,415.6 681.5,442.3 682.0,444.5 682.0,412.2 682.5,410.2 682.5,439.3 683.0,444.1 683.0,413.4 683.5,408.5 683.5,442.5 684.0,442.4 684.0,415.1 684.5,411.2 684.5,443.8 685.0,438.6 685.0,411.8 685.5,411.6 685.5,443.3 686.0,448.2 686.0,411.1 686.5,406.4 686.5,440.3 687.0,439.0 687.0,413.2 687.5,412.4 687.5,444.5 688.0,441.0 688.0,410.9 688.5,410.8 688.5,442.7 689.0,443.4 689.0,409.2 689.5,413.6 689.5,443.1 690.0,440.0 690.0,411.2 690.5,415.5 690.5,444.8 691.0,443.3 691.0,412.8 691.5,414.4 691.5,442.2 692.0,441.6 692.0,410.0 692.5,413.7 692.5,442.5 693.0,438.1 693.0,409.8 693.5,411.9 693.5,441.9 694.0,444.2 694.0,413.0 694.5,410.1 694.5,441.0 695.0,440.3 695.0,411.8 695.5,410.5 695.5,445.6 696.0,440.5 696.0,410.7 696.5,413.4 696.5,438.2 697.0,439.7 697.0,409.1 697.5,411.9 697.5,442.8 698.0,441.3 698.0,410.4 698.5,412.2 698.5,443.4 699.0,442.4 699.0,411.7 699.5,411.2 699.5,441.3 700.0,441.1 700.0,410.8 700.5,414.7 700.5,441.6 701.0,439.4 701.0,411.8 701.5,409.5 701.5,440.8 702.0,443.6 702.0,411.4 702.5,409.1 702.5,441.9 703.0,441.7 703.0,411.4 703.5,407.3 703.5,440.9 704.0,439.4 704.0,406.8 704.5,410.6 704.5,440.0 705.0,447.0 705.0,409.9 705.5,409.6 705.5,440.9 706.0,443.1 706.0,405.5 706.5,408.2 706.5,439.2 707.0,440.7 707.0,408.9 707.5,409.5 707.5,439.3 708.0,439.8 708.0,409.9 708.5,411.0 708.5,444.2 709.0,444.3 709.0,409.9 709.5,409.1 709.5,442.8 710.0,439.4 710.0,411.4 710.5,411.4 710.5,440.1 711.0,440.4 711.0,411.1 711.5,415.4 711.5,439.4 712.0,442.0 712.0,414.7 712.5,413.6 712.5,441.4 713.0,444.3 713.0,407.7 713.5,414.4 713.5,443.7 714.0,439.9 714.0,411.2 714.5,414.5 714.5,440.1 715.0,439.8 715.0,413.1 715.5,412.9 715.5,443.9 716.0,441.1 716.0,411.9 716.5,414.1 716.5,439.2 717.0,439.0 717.0,415.8 717.5,411.5 717.5,449.8 718.0,442.0 718.0,409.1 718.5,412.3 718.5,439.6 719.0,444.3 719.0,410.6 719.5,414.0 719.5,442.0 720.0,438.9 720.0,406.5 720.5,414.2 720.5,441.2 721.0,441.2 721.0,413.9 721.5,412.5 721.5,437.0 722.0,440.8 722.0,414.3 722.5,415.2 722.5,444.4 723.0,443.6 723.0,414.4 723.5,411.6 723.5,440.7 724.0,440.5 724.0,410.5 724.5,409.5 724.5,442.4" fill="none" stroke="#00f" stroke-width="1.7" stroke-linejoin="round" stroke-linecap="round"/>
<path d="M208.4 444.9V491.0M217.3 445.2V471.7M222.2 445.2V468.4M226.2 444.6V480.6M234.4 442.4V469.5M243.3 442.4V482.8M250.6 442.4V484.4M252.9 442.4V482.8M260.4 442.4V479.5M269.3 442.4V487.9M277.7 442.4V489.5M286.6 442.4V488.4M295.5 442.4V484.4M304.0 442.4V484.4M305.5 442.4V470.6M312.6 442.4V483.5M320.6 442.4V481.7M329.5 452.6V481.3M331.5 454.5V468.4M338.2 442.6V478.4M343.3 442.4V484.4M346.6 442.4V478.4M355.5 442.4V463.9M363.7 442.4V471.7M367.7 442.4V462.8M372.6 442.4V478.8M381.5 444.1V469.9M389.5 444.3V484.4M398.4 444.3V487.9M406.6 444.3V471.7M415.0 444.3V477.7M419.9 444.3V472.8M424.3 444.3V483.5M432.8 444.3V478.4M441.4 444.3V475.0M443.2 444.3V470.6M449.4 444.3V468.8M458.3 443.6V481.0M467.6 442.7V481.0M475.8 442.4V476.2M484.2 442.4V478.8M492.7 442.4V481.0M501.5 442.4V482.2M510.4 442.4V483.5M514.6 442.4V467.9M518.6 442.4V488.8M527.5 442.4V476.2M535.7 443.1V472.8M544.6 445.2V467.9M553.1 442.9V483.5M561.5 442.4V482.8M570.4 442.4V483.5M579.3 442.4V471.7M587.5 442.4V475.0M596.4 442.4V487.3M604.6 442.4V483.5M613.5 442.4V487.9M622.4 442.4V485.0M630.4 442.4V490.6M639.3 442.4V481.0M647.5 442.4V487.9M652.4 442.4V481.0M656.8 442.4V487.9M665.2 442.4V473.9M673.5 442.4V469.9M682.6 442.4V481.0M690.8 442.4V477.7M699.2 442.4V482.2M708.1 442.4V477.3M716.8 442.4V477.3M246.2 411.4V400.9M296.2 411.4V397.1M326.6 408.4V392.6M339.9 411.4V403.7M343.3 411.4V332.7M388.4 408.1V390.0M392.4 408.1V399.3M408.8 408.1V402.6M421.5 408.1V398.9M426.6 408.1V402.6M454.3 408.5V404.2M282.2 411.4V407.1M471.3 411.4V404.9M508.2 411.4V406.4M528.2 411.4V405.5M542.0 407.1V396.0M546.4 407.2V396.0M551.5 409.9V402.0M570.4 411.4V404.2M613.5 411.4V402.6M630.8 411.4V407.7M681.5 411.4V405.5M690.1 411.4V406.4M712.3 411.4V407.1" stroke="#00f" stroke-width="2" stroke-linecap="round" fill="none"/>
<polyline points="203.5,644.9 203.5,677.3 204.0,678.4 204.0,644.5 204.5,637.1 204.5,672.3 205.0,669.2 205.0,644.7 205.5,635.3 205.5,671.2 206.0,675.7 206.0,643.4 206.5,640.4 206.5,671.8 207.0,676.4 207.0,640.0 207.5,639.6 207.5,673.3 208.0,676.1 208.0,638.3 208.5,631.8 208.5,677.6 209.0,674.5 209.0,636.9 209.5,637.5 209.5,678.3 210.0,675.0 210.0,635.2 210.5,636.0 210.5,672.2 211.0,671.4 211.0,635.4 211.5,636.0 211.5,673.4 212.0,672.8 212.0,635.7 212.5,635.8 212.5,672.7 213.0,674.2 213.0,637.8 213.5,637.8 213.5,671.2 214.0,678.0 214.0,638.6 214.5,638.6 214.5,675.5 215.0,673.4 215.0,636.1 215.5,629.7 215.5,672.1 216.0,681.5 216.0,632.5 216.5,637.9 216.5,678.8 217.0,672.9 217.0,637.9 217.5,638.6 217.5,676.7 218.0,677.2 218.0,638.4 218.5,637.7 218.5,674.9 219.0,678.3 219.0,637.1 219.5,635.2 219.5,674.5 220.0,672.5 220.0,635.2 220.5,633.1 220.5,668.0 221.0,678.8 221.0,634.3 221.5,635.4 221.5,673.0 222.0,674.7 222.0,637.3 222.5,637.9 222.5,675.4 223.0,671.3 223.0,638.4 223.5,636.8 223.5,670.9 224.0,675.9 224.0,637.1 224.5,637.8 224.5,671.5 225.0,675.2 225.0,636.3 225.5,634.0 225.5,676.1 226.0,680.3 226.0,632.0 226.5,631.9 226.5,673.8 227.0,670.8 227.0,633.8 227.5,636.2 227.5,679.8 228.0,673.5 228.0,637.8 228.5,638.6 228.5,682.0 229.0,672.2 229.0,638.9 229.5,639.2 229.5,670.4 230.0,674.5 230.0,638.9 230.5,640.8 230.5,676.4 231.0,672.5 231.0,640.4 231.5,642.2 231.5,673.6 232.0,681.4 232.0,642.5 232.5,642.5 232.5,675.9 233.0,673.5 233.0,638.1 233.5,642.2 233.5,672.0 234.0,674.0 234.0,637.8 234.5,639.5 234.5,675.3 235.0,674.8 235.0,640.1 235.5,640.2 235.5,673.3 236.0,668.8 236.0,643.4 236.5,644.1 236.5,674.9 237.0,671.8 237.0,639.6 237.5,644.0 237.5,674.5 238.0,676.6 238.0,642.8 238.5,643.6 238.5,675.9 239.0,670.2 239.0,645.1 239.5,642.6 239.5,671.8 240.0,673.0 240.0,642.4 240.5,644.1 240.5,669.1 241.0,672.4 241.0,631.9 241.5,637.3 241.5,671.9 242.0,671.6 242.0,644.5 242.5,642.9 242.5,675.2 243.0,674.2 243.0,644.9 243.5,636.3 243.5,678.6 244.0,671.1 244.0,643.2 244.5,643.0 244.5,668.8 245.0,668.8 245.0,642.4 245.5,644.5 245.5,671.7 246.0,676.0 246.0,638.6 246.5,646.7 246.5,672.4 247.0,673.7 247.0,636.8 247.5,638.7 247.5,672.7 248.0,676.0 248.0,642.2 248.5,637.9 248.5,668.9 249.0,669.7 249.0,643.4 249.5,642.1 249.5,670.0 250.0,674.6 250.0,641.1 250.5,644.4 250.5,676.0 251.0,672.0 251.0,643.4 251.5,643.5 251.5,668.8 252.0,669.2 252.0,646.3 252.5,644.7 252.5,672.3 253.0,676.0 253.0,640.5 253.5,645.0 253.5,673.5 254.0,673.8 254.0,638.3 254.5,643.7 254.5,671.2 255.0,679.6 255.0,642.6 255.5,639.6 255.5,673.0 256.0,674.6 256.0,639.7 256.5,641.8 256.5,678.7 257.0,673.1 257.0,642.7 257.5,640.9 257.5,672.6 258.0,672.4 258.0,644.1 258.5,644.4 258.5,673.2 259.0,676.1 259.0,644.3 259.5,640.1 259.5,669.5 260.0,676.0 260.0,643.7 260.5,641.3 260.5,676.0 261.0,674.7 261.0,637.1 261.5,643.1 261.5,670.7 262.0,672.2 262.0,646.1 262.5,642.3 262.5,672.8 263.0,669.9 263.0,645.7 263.5,640.2 263.5,672.5 264.0,668.0 264.0,642.3 264.5,630.0 264.5,677.4 265.0,673.9 265.0,646.5 265.5,643.4 265.5,669.5 266.0,672.0 266.0,642.7 266.5,645.0 266.5,673.5 267.0,677.4 267.0,644.5 267.5,641.0 267.5,671.4 268.0,674.4 268.0,638.1 268.5,640.5 268.5,672.4 269.0,669.8 269.0,639.6 269.5,643.8 269.5,674.5 270.0,667.5 270.0,638.1 270.5,644.8 270.5,673.8 271.0,670.0 271.0,640.0 271.5,643.6 271.5,675.1 272.0,671.9 272.0,642.5 272.5,637.5 272.5,670.7 273.0,672.3 273.0,643.2 273.5,645.3 273.5,674.1 274.0,671.6 274.0,643.7 274.5,646.1 274.5,671.6 275.0,675.0 275.0,646.1 275.5,640.5 275.5,673.6 276.0,669.7 276.0,644.0 276.5,642.1 276.5,671.8 277.0,678.4 277.0,644.1 277.5,639.9 277.5,673.1 278.0,676.1 278.0,644.2 278.5,642.4 278.5,674.1 279.0,680.6 279.0,643.5 279.5,641.8 279.5,671.5 280.0,673.0 280.0,641.4 280.5,640.3 280.5,671.3 281.0,674.6 281.0,641.9 281.5,640.8 281.5,673.3 282.0,671.1 282.0,642.7 282.5,639.3 282.5,670.6 283.0,673.2 283.0,643.6 283.5,640.2 283.5,680.9 284.0,669.2 284.0,646.2 284.5,639.4 284.5,671.4 285.0,674.1 285.0,643.6 285.5,640.7 285.5,677.8 286.0,684.9 286.0,641.8 286.5,646.0 286.5,673.8 287.0,675.0 287.0,644.2 287.5,641.9 287.5,673.7 288.0,673.3 288.0,643.0 288.5,642.5 288.5,672.7 289.0,673.2 289.0,644.2 289.5,640.5 289.5,675.4 290.0,678.2 290.0,640.3 290.5,641.8 290.5,672.0 291.0,670.5 291.0,642.6 291.5,643.1 291.5,672.4 292.0,673.3 292.0,640.9 292.5,642.0 292.5,672.8 293.0,673.4 293.0,643.5 293.5,645.2 293.5,670.6 294.0,676.0 294.0,645.6 294.5,635.7 294.5,673.7 295.0,674.6 295.0,643.7 295.5,646.2 295.5,672.1 296.0,669.3 296.0,640.9 296.5,646.1 296.5,671.0 297.0,669.8 297.0,641.7 297.5,643.9 297.5,673.4 298.0,673.0 298.0,643.2 298.5,640.3 298.5,673.6 299.0,670.3 299.0,642.5 299.5,640.8 299.5,675.3 300.0,672.6 300.0,644.8 300.5,643.9 300.5,673.9 301.0,671.2 301.0,640.1 301.5,644.9 301.5,669.8 302.0,670.2 302.0,643.3 302.5,645.3 302.5,677.0 303.0,676.3 303.0,640.1 303.5,642.7 303.5,674.2 304.0,669.9 304.0,645.3 304.5,644.0 304.5,673.1 305.0,677.8 305.0,645.3 305.5,633.0 305.5,672.2 306.0,673.7 306.0,642.8 306.5,639.4 306.5,673.7 307.0,675.3 307.0,640.2 307.5,643.7 307.5,674.0 308.0,678.8 308.0,643.3 308.5,641.4 308.5,671.7 309.0,671.6 309.0,641.0 309.5,644.0 309.5,672.5 310.0,680.0 310.0,642.1 310.5,640.8 310.5,674.1 311.0,671.3 311.0,640.6 311.5,640.3 311.5,669.9 312.0,674.8 312.0,636.4 312.5,643.4 312.5,674.3 313.0,675.5 313.0,641.3 313.5,641.6 313.5,673.5 314.0,679.8 314.0,637.3 314.5,637.8 314.5,678.3 315.0,672.9 315.0,643.6 315.5,639.5 315.5,675.3 316.0,673.5 316.0,640.2 316.5,636.7 316.5,672.2 317.0,671.1 317.0,644.7 317.5,645.2 317.5,675.7 318.0,673.7 318.0,641.6 318.5,640.2 318.5,674.0 319.0,672.8 319.0,642.4 319.5,644.5 319.5,675.7 320.0,671.3 320.0,642.1 320.5,642.3 320.5,673.7 321.0,676.2 321.0,642.0 321.5,644.8 321.5,672.6 322.0,673.9 322.0,642.5 322.5,641.4 322.5,673.5 323.0,673.2 323.0,642.1 323.5,642.8 323.5,672.6 324.0,672.3 324.0,642.1 324.5,641.9 324.5,678.2 325.0,671.1 325.0,637.7 325.5,635.9 325.5,671.8 326.0,675.1 326.0,641.2 326.5,641.6 326.5,672.6 327.0,680.3 327.0,643.2 327.5,644.5 327.5,678.6 328.0,676.9 328.0,637.7 328.5,643.3 328.5,677.6 329.0,675.9 329.0,644.3 329.5,639.0 329.5,673.8 330.0,677.1 330.0,643.5 330.5,643.3 330.5,677.7 331.0,673.3 331.0,645.0 331.5,640.2 331.5,689.6 332.0,689.3 332.0,642.4 332.5,639.0 332.5,674.6 333.0,675.1 333.0,644.7 333.5,640.4 333.5,675.0 334.0,674.0 334.0,641.3 334.5,639.7 334.5,671.4 335.0,673.8 335.0,646.0 335.5,641.8 335.5,675.5 336.0,670.6 336.0,644.0 336.5,643.8 336.5,672.4 337.0,671.3 337.0,644.0 337.5,640.3 337.5,673.3 338.0,672.5 338.0,636.0 338.5,644.8 338.5,673.2 339.0,670.7 339.0,643.8 339.5,643.6 339.5,671.7 340.0,672.8 340.0,640.1 340.5,644.5 340.5,671.7 341.0,672.5 341.0,641.3 341.5,640.7 341.5,674.4 342.0,669.3 342.0,644.2 342.5,641.9 342.5,670.6 343.0,670.6 343.0,640.4 343.5,642.9 343.5,675.7 344.0,676.0 344.0,636.9 344.5,644.3 344.5,672.3 345.0,675.5 345.0,642.8 345.5,644.6 345.5,670.9 346.0,672.9 346.0,641.1 346.5,638.6 346.5,672.6 347.0,672.2 347.0,644.3 347.5,642.3 347.5,677.7 348.0,671.0 348.0,641.6 348.5,643.8 348.5,673.9 349.0,672.9 349.0,638.5 349.5,640.9 349.5,676.5 350.0,673.0 350.0,644.6 350.5,644.6 350.5,672.9 351.0,671.5 351.0,643.8 351.5,635.3 351.5,670.9 352.0,669.2 352.0,643.2 352.5,641.5 352.5,674.2 353.0,669.2 353.0,642.4 353.5,641.0 353.5,676.5 354.0,671.5 354.0,641.2 354.5,642.9 354.5,671.2 355.0,672.0 355.0,642.0 355.5,639.5 355.5,671.5 356.0,675.5 356.0,646.9 356.5,642.3 356.5,673.0 357.0,668.6 357.0,641.8 357.5,642.4 357.5,679.2 358.0,671.3 358.0,643.5 358.5,631.2 358.5,673.4 359.0,672.3 359.0,643.7 359.5,639.4 359.5,674.3 360.0,669.0 360.0,634.9 360.5,639.2 360.5,678.0 361.0,670.3 361.0,639.9 361.5,642.0 361.5,673.8 362.0,670.4 362.0,640.2 362.5,642.7 362.5,673.7 363.0,677.0 363.0,642.0 363.5,636.2 363.5,673.0 364.0,676.6 364.0,639.9 364.5,640.0 364.5,670.7 365.0,675.1 365.0,639.8 365.5,644.6 365.5,671.4 366.0,674.9 366.0,642.1 366.5,642.1 366.5,673.4 367.0,679.7 367.0,634.9 367.5,638.2 367.5,677.0 368.0,671.9 368.0,638.1 368.5,636.3 368.5,676.1 369.0,671.4 369.0,634.9 369.5,642.6 369.5,675.1 370.0,671.4 370.0,640.7 370.5,638.7 370.5,671.2 371.0,672.6 371.0,638.7 371.5,637.1 371.5,671.9 372.0,668.3 372.0,638.2 372.5,643.4 372.5,671.4 373.0,671.4 373.0,640.8 373.5,638.7 373.5,683.7 374.0,670.9 374.0,642.0 374.5,640.3 374.5,677.3 375.0,670.3 375.0,641.6 375.5,636.6 375.5,673.5 376.0,672.6 376.0,633.9 376.5,643.8 376.5,675.1 377.0,670.3 377.0,641.9 377.5,644.0 377.5,671.1 378.0,674.2 378.0,633.2 378.5,636.7 378.5,678.7 379.0,676.6 379.0,636.6 379.5,641.1 379.5,674.5 380.0,680.6 380.0,636.4 380.5,639.9 380.5,675.4 381.0,671.1 381.0,641.0 381.5,639.1 381.5,677.9 382.0,669.8 382.0,635.3 382.5,636.5 382.5,673.1 383.0,671.7 383.0,638.4 383.5,639.9 383.5,669.7 384.0,676.0 384.0,635.5 384.5,636.7 384.5,670.9 385.0,680.8 385.0,634.3 385.5,635.0 385.5,671.6 386.0,668.2 386.0,634.1 386.5,632.6 386.5,668.9 387.0,671.4 387.0,629.9 387.5,626.4 387.5,671.0 388.0,674.2 388.0,623.8 388.5,624.0 388.5,680.9 389.0,675.5 389.0,626.6 389.5,629.7 389.5,670.5 390.0,673.8 390.0,631.8 390.5,632.9 390.5,673.6 391.0,677.4 391.0,633.5 391.5,634.0 391.5,673.7 392.0,677.2 392.0,634.8 392.5,632.4 392.5,678.0 393.0,673.7 393.0,637.6 393.5,642.3 393.5,673.4 394.0,668.2 394.0,639.3 394.5,637.6 394.5,673.9 395.0,672.3 395.0,637.4 395.5,638.7 395.5,671.9 396.0,670.6 396.0,636.2 396.5,636.1 396.5,676.8 397.0,675.8 397.0,634.9 397.5,642.6 397.5,670.1 398.0,668.3 398.0,640.0 398.5,637.2 398.5,675.1 399.0,673.3 399.0,641.0 399.5,641.5 399.5,670.0 400.0,673.7 400.0,639.6 400.5,639.9 400.5,672.6 401.0,671.0 401.0,637.5 401.5,643.1 401.5,675.4 402.0,671.9 402.0,640.5 402.5,641.4 402.5,676.6 403.0,670.7 403.0,642.8 403.5,641.0 403.5,673.4 404.0,673.1 404.0,640.9 404.5,637.1 404.5,674.1 405.0,675.5 405.0,640.2 405.5,637.9 405.5,670.9 406.0,679.6 406.0,637.9 406.5,637.5 406.5,674.2 407.0,672.3 407.0,644.2 407.5,641.1 407.5,673.3 408.0,682.2 408.0,635.1 408.5,637.8 408.5,675.2 409.0,675.8 409.0,638.7 409.5,638.1 409.5,670.1 410.0,669.5 410.0,642.6 410.5,641.4 410.5,672.7 411.0,673.2 411.0,633.2 411.5,636.6 411.5,672.6 412.0,671.9 412.0,640.9 412.5,642.7 412.5,669.3 413.0,679.7 413.0,639.9 413.5,638.9 413.5,670.2 414.0,672.3 414.0,638.4 414.5,638.7 414.5,670.7 415.0,678.7 415.0,638.1 415.5,636.6 415.5,675.0 416.0,673.9 416.0,634.1 416.5,632.0 416.5,674.2 417.0,670.2 417.0,631.9 417.5,633.8 417.5,669.4 418.0,672.5 418.0,636.3 418.5,638.0 418.5,673.0 419.0,675.0 419.0,638.7 419.5,638.8 419.5,673.8 420.0,671.8 420.0,638.9 420.5,638.6 420.5,670.8 421.0,670.7 421.0,640.9 421.5,641.1 421.5,671.3 422.0,674.0 422.0,639.8 422.5,640.1 422.5,672.0 423.0,672.3 423.0,639.2 423.5,640.7 423.5,671.4 424.0,671.6 424.0,635.5 424.5,640.6 424.5,670.0 425.0,673.0 425.0,638.7 425.5,637.0 425.5,677.0 426.0,675.2 426.0,644.1 426.5,643.7 426.5,673.5 427.0,671.1 427.0,644.8 427.5,643.4 427.5,671.4 428.0,672.3 428.0,642.9 428.5,640.9 428.5,672.0 429.0,676.2 429.0,637.9 429.5,641.9 429.5,675.8 430.0,671.8 430.0,641.7 430.5,643.6 430.5,668.5 431.0,669.4 431.0,644.3 431.5,640.9 431.5,673.5 432.0,676.6 432.0,637.7 432.5,643.6 432.5,670.3 433.0,670.7 433.0,643.2 433.5,644.5 433.5,671.1 434.0,672.5 434.0,642.7 434.5,635.1 434.5,670.6 435.0,671.8 435.0,643.0 435.5,644.0 435.5,670.9 436.0,672.9 436.0,642.7 436.5,643.7 436.5,672.2 437.0,671.9 437.0,645.6 437.5,641.0 437.5,675.1 438.0,673.7 438.0,642.7 438.5,641.3 438.5,675.1 439.0,671.9 439.0,644.2 439.5,644.2 439.5,671.9 440.0,682.0 440.0,641.4 440.5,641.4 440.5,675.0 441.0,672.9 441.0,641.3 441.5,641.0 441.5,670.9 442.0,672.1 442.0,636.6 442.5,638.1 442.5,672.7 443.0,673.3 443.0,635.6 443.5,634.2 443.5,671.0 444.0,671.4 444.0,635.1 444.5,637.5 444.5,673.5 445.0,674.3 445.0,639.7 445.5,638.2 445.5,671.5 446.0,671.1 446.0,641.3 446.5,641.4 446.5,677.5 447.0,672.5 447.0,641.4 447.5,643.0 447.5,673.9 448.0,673.5 448.0,642.5 448.5,639.0 448.5,669.3 449.0,676.1 449.0,641.6 449.5,641.3 449.5,678.4 450.0,672.9 450.0,643.4 450.5,642.4 450.5,674.9 451.0,670.8 451.0,640.4 451.5,641.4 451.5,670.8 452.0,669.2 452.0,642.6 452.5,637.4 452.5,669.3 453.0,673.6 453.0,642.8 453.5,644.5 453.5,678.0 454.0,675.5 454.0,642.7 454.5,642.4 454.5,672.1 455.0,673.2 455.0,645.6 455.5,641.4 455.5,673.4 456.0,671.6 456.0,640.8 456.5,639.3 456.5,672.9 457.0,672.0 457.0,641.8 457.5,641.4 457.5,679.4 458.0,668.5 458.0,640.9 458.5,643.4 458.5,669.9 459.0,675.7 459.0,641.5 459.5,642.7 459.5,674.7 460.0,673.7 460.0,645.2 460.5,636.5 460.5,668.8 461.0,678.4 461.0,644.5 461.5,638.0 461.5,671.9 462.0,671.5 462.0,643.0 462.5,644.0 462.5,670.8 463.0,669.9 463.0,641.3 463.5,640.5 463.5,672.8 464.0,670.2 464.0,641.8 464.5,644.0 464.5,671.9 465.0,677.0 465.0,644.2 465.5,645.0 465.5,671.4 466.0,669.5 466.0,642.0 466.5,644.8 466.5,681.3 467.0,668.3 467.0,639.2 467.5,642.2 467.5,672.9 468.0,673.5 468.0,643.0 468.5,643.5 468.5,673.8 469.0,670.7 469.0,643.5 469.5,640.1 469.5,669.8 470.0,674.3 470.0,641.3 470.5,641.9 470.5,671.1 471.0,672.4 471.0,635.6 471.5,641.3 471.5,667.2 472.0,675.5 472.0,644.2 472.5,643.9 472.5,671.3 473.0,671.9 473.0,642.5 473.5,645.1 473.5,673.3 474.0,673.1 474.0,643.1 474.5,641.4 474.5,673.8 475.0,672.4 475.0,641.4 475.5,641.0 475.5,671.1 476.0,677.5 476.0,638.0 476.5,640.3 476.5,672.3 477.0,673.7 477.0,640.1 477.5,639.1 477.5,674.4 478.0,674.3 478.0,635.3 478.5,635.8 478.5,675.0 479.0,679.5 479.0,635.7 479.5,638.0 479.5,671.5 480.0,676.9 480.0,639.1 480.5,640.1 480.5,681.3 481.0,672.2 481.0,640.9 481.5,641.2 481.5,671.1 482.0,672.1 482.0,641.4 482.5,641.3 482.5,669.0 483.0,672.5 483.0,641.4 483.5,641.6 483.5,672.9 484.0,670.7 484.0,642.4 484.5,642.4 484.5,673.5 485.0,673.1 485.0,642.5 485.5,642.7 485.5,672.4 486.0,674.3 486.0,641.5 486.5,641.8 486.5,675.7 487.0,674.9 487.0,645.2 487.5,641.7 487.5,671.4 488.0,671.0 488.0,643.4 488.5,638.4 488.5,669.7 489.0,671.0 489.0,643.5 489.5,642.1 489.5,669.5 490.0,672.1 490.0,644.4 490.5,643.5 490.5,672.7 491.0,672.3 491.0,644.1 491.5,643.7 491.5,675.1 492.0,676.3 492.0,640.6 492.5,642.4 492.5,675.3 493.0,673.7 493.0,643.7 493.5,643.4 493.5,671.6 494.0,674.1 494.0,640.8 494.5,645.5 494.5,677.4 495.0,670.3 495.0,642.0 495.5,639.6 495.5,672.5 496.0,676.3 496.0,642.9 496.5,642.6 496.5,674.9 497.0,669.5 497.0,636.2 497.5,641.4 497.5,677.2 498.0,672.3 498.0,643.1 498.5,641.9 498.5,672.0 499.0,673.9 499.0,642.8 499.5,645.7 499.5,670.7 500.0,674.0 500.0,645.7 500.5,644.7 500.5,673.8 501.0,671.4 501.0,645.3 501.5,639.1 501.5,672.0 502.0,676.5 502.0,645.3 502.5,641.3 502.5,671.2 503.0,671.3 503.0,641.0 503.5,639.3 503.5,671.6 504.0,674.1 504.0,637.5 504.5,643.8 504.5,676.6 505.0,676.9 505.0,641.6 505.5,644.1 505.5,674.1 506.0,673.6 506.0,645.4 506.5,642.3 506.5,674.4 507.0,672.5 507.0,646.2 507.5,639.8 507.5,674.4 508.0,673.1 508.0,643.4 508.5,640.5 508.5,675.7 509.0,673.4 509.0,646.5 509.5,643.1 509.5,672.9 510.0,672.0 510.0,643.6 510.5,637.8 510.5,672.5 511.0,675.2 511.0,643.5 511.5,644.0 511.5,673.5 512.0,673.3 512.0,643.1 512.5,640.6 512.5,674.7 513.0,673.4 513.0,645.5 513.5,641.4 513.5,674.7 514.0,671.0 514.0,641.4 514.5,641.2 514.5,678.3 515.0,672.9 515.0,640.6 515.5,635.0 515.5,675.5 516.0,671.7 516.0,636.5 516.5,634.0 516.5,673.1 517.0,674.8 517.0,633.6 517.5,635.5 517.5,671.9 518.0,679.3 518.0,638.3 518.5,640.3 518.5,674.0 519.0,674.2 519.0,639.5 519.5,641.4 519.5,675.9 520.0,676.1 520.0,641.4 520.5,636.2 520.5,675.5 521.0,673.1 521.0,640.3 521.5,639.5 521.5,671.1 522.0,674.6 522.0,637.2 522.5,643.2 522.5,676.0 523.0,671.0 523.0,642.1 523.5,643.0 523.5,670.4 524.0,675.6 524.0,643.7 524.5,643.4 524.5,675.1 525.0,670.9 525.0,642.1 525.5,638.8 525.5,672.5 526.0,675.3 526.0,641.1 526.5,643.6 526.5,674.5 527.0,672.9 527.0,640.3 527.5,645.6 527.5,674.0 528.0,672.7 528.0,644.1 528.5,643.0 528.5,674.2 529.0,670.7 529.0,644.4 529.5,644.4 529.5,673.2 530.0,672.0 530.0,644.0 530.5,643.0 530.5,673.1 531.0,670.2 531.0,642.3 531.5,643.3 531.5,672.6 532.0,671.6 532.0,638.2 532.5,640.4 532.5,671.9 533.0,675.9 533.0,640.3 533.5,639.1 533.5,668.9 534.0,673.0 534.0,640.0 534.5,642.3 534.5,675.4 535.0,672.1 535.0,641.6 535.5,641.8 535.5,674.8 536.0,673.3 536.0,641.0 536.5,639.5 536.5,674.2 537.0,674.9 537.0,637.7 537.5,642.0 537.5,681.6 538.0,675.5 538.0,639.6 538.5,642.5 538.5,675.9 539.0,676.4 539.0,642.1 539.5,635.9 539.5,679.7 540.0,675.8 540.0,639.0 540.5,630.9 540.5,680.3 541.0,678.9 541.0,640.1 541.5,634.8 541.5,676.5 542.0,680.1 542.0,630.6 542.5,641.8 542.5,680.7 543.0,679.0 543.0,637.6 543.5,638.5 543.5,678.4 544.0,679.9 544.0,637.0 544.5,634.2 544.5,678.1 545.0,682.3 545.0,635.4 545.5,637.9 545.5,674.4 546.0,684.8 546.0,633.3 546.5,635.1 546.5,681.9 547.0,680.8 547.0,630.3 547.5,634.7 547.5,677.8 548.0,682.0 548.0,636.0 548.5,635.0 548.5,673.5 549.0,681.5 549.0,632.4 549.5,628.9 549.5,680.9 550.0,676.0 550.0,627.3 550.5,629.3 550.5,674.8 551.0,675.7 551.0,633.5 551.5,637.3 551.5,673.9 552.0,673.8 552.0,639.4 552.5,637.0 552.5,676.8 553.0,674.5 553.0,639.3 553.5,638.8 553.5,673.0 554.0,674.0 554.0,642.4 554.5,639.5 554.5,671.7 555.0,671.4 555.0,643.7 555.5,639.4 555.5,670.8 556.0,675.2 556.0,639.9 556.5,646.1 556.5,674.7 557.0,674.0 557.0,639.1 557.5,637.5 557.5,674.7 558.0,672.4 558.0,640.1 558.5,644.0 558.5,669.8 559.0,670.6 559.0,641.7 559.5,644.3 559.5,673.4 560.0,675.2 560.0,641.0 560.5,641.4 560.5,670.0 561.0,675.1 561.0,641.4 561.5,641.3 561.5,670.1 562.0,671.4 562.0,641.0 562.5,638.7 562.5,675.5 563.0,669.3 563.0,638.2 563.5,636.0 563.5,674.4 564.0,670.4 564.0,634.9 564.5,635.9 564.5,670.9 565.0,671.0 565.0,638.1 565.5,640.0 565.5,669.8 566.0,674.2 566.0,641.0 566.5,641.3 566.5,674.6 567.0,675.8 567.0,639.4 567.5,638.5 567.5,673.7 568.0,673.2 568.0,643.4 568.5,641.2 568.5,671.8 569.0,671.9 569.0,637.4 569.5,641.6 569.5,673.0 570.0,672.0 570.0,643.7 570.5,639.4 570.5,673.4 571.0,669.7 571.0,640.4 571.5,639.0 571.5,674.9 572.0,674.0 572.0,640.4 572.5,642.0 572.5,673.8 573.0,675.2 573.0,636.1 573.5,643.2 573.5,673.0 574.0,672.4 574.0,640.6 574.5,644.8 574.5,674.1 575.0,671.1 575.0,644.1 575.5,638.5 575.5,674.3 576.0,673.5 576.0,640.4 576.5,639.8 576.5,674.3 577.0,671.8 577.0,641.9 577.5,641.6 577.5,674.7 578.0,673.3 578.0,646.8 578.5,645.8 578.5,678.5 579.0,671.8 579.0,642.4 579.5,640.4 579.5,676.1 580.0,674.3 580.0,642.0 580.5,640.9 580.5,674.1 581.0,673.6 581.0,647.1 581.5,640.4 581.5,675.8 582.0,669.4 582.0,643.5 582.5,638.6 582.5,672.4 583.0,673.9 583.0,645.0 583.5,642.1 583.5,669.8 584.0,677.1 584.0,642.3 584.5,645.1 584.5,671.4 585.0,673.0 585.0,643.8 585.5,645.4 585.5,677.5 586.0,670.0 586.0,645.2 586.5,642.1 586.5,676.2 587.0,668.8 587.0,636.6 587.5,640.2 587.5,674.9 588.0,677.0 588.0,645.8 588.5,644.1 588.5,671.5 589.0,672.8 589.0,645.0 589.5,644.4 589.5,673.4 590.0,670.2 590.0,644.5 590.5,640.1 590.5,673.4 591.0,678.9 591.0,643.2 591.5,641.9 591.5,670.8 592.0,671.5 592.0,636.7 592.5,642.4 592.5,671.3 593.0,672.1 593.0,643.2 593.5,642.0 593.5,674.2 594.0,675.6 594.0,645.2 594.5,634.8 594.5,672.4 595.0,673.5 595.0,643.2 595.5,641.7 595.5,673.5 596.0,674.4 596.0,644.0 596.5,643.3 596.5,670.5 597.0,675.1 597.0,642.4 597.5,641.9 597.5,674.3 598.0,670.5 598.0,643.4 598.5,640.5 598.5,673.0 599.0,671.8 599.0,640.2 599.5,638.3 599.5,672.4 600.0,673.9 600.0,644.6 600.5,645.7 600.5,673.5 601.0,673.5 601.0,641.4 601.5,645.2 601.5,671.2 602.0,673.7 602.0,640.7 602.5,642.9 602.5,671.1 603.0,672.0 603.0,640.7 603.5,635.0 603.5,676.6 604.0,669.6 604.0,640.4 604.5,641.7 604.5,672.4 605.0,672.3 605.0,643.7 605.5,644.1 605.5,671.1 606.0,672.2 606.0,640.8 606.5,642.1 606.5,672.7 607.0,671.4 607.0,637.2 607.5,640.5 607.5,670.6 608.0,670.6 608.0,642.8 608.5,640.0 608.5,671.5 609.0,671.3 609.0,642.1 609.5,644.0 609.5,674.4 610.0,675.7 610.0,645.7 610.5,638.9 610.5,673.0 611.0,674.1 611.0,642.7 611.5,643.8 611.5,674.2 612.0,673.8 612.0,643.1 612.5,646.7 612.5,675.4 613.0,677.6 613.0,642.5 613.5,639.0 613.5,672.4 614.0,672.4 614.0,638.1 614.5,636.2 614.5,669.2 615.0,670.8 615.0,643.5 615.5,644.7 615.5,670.7 616.0,676.3 616.0,641.1 616.5,644.4 616.5,674.4 617.0,678.9 617.0,645.5 617.5,637.8 617.5,673.4 618.0,676.2 618.0,642.9 618.5,641.0 618.5,672.9 619.0,669.8 619.0,645.7 619.5,643.6 619.5,677.7 620.0,672.6 620.0,639.3 620.5,641.1 620.5,670.0 621.0,675.4 621.0,642.4 621.5,643.9 621.5,672.6 622.0,673.5 622.0,637.6 622.5,641.3 622.5,676.0 623.0,671.3 623.0,640.8 623.5,642.2 623.5,670.8 624.0,668.2 624.0,643.0 624.5,644.0 624.5,670.7 625.0,670.2 625.0,645.2 625.5,644.2 625.5,677.9 626.0,672.2 626.0,643.3 626.5,644.2 626.5,672.5 627.0,675.2 627.0,645.0 627.5,643.3 627.5,672.5 628.0,671.8 628.0,641.7 628.5,642.2 628.5,675.0 629.0,672.5 629.0,644.3 629.5,638.8 629.5,673.4 630.0,668.8 630.0,642.0 630.5,641.4 630.5,671.4 631.0,670.0 631.0,642.8 631.5,639.5 631.5,672.9 632.0,671.8 632.0,642.9 632.5,641.7 632.5,669.8 633.0,681.2 633.0,640.2 633.5,641.0 633.5,675.0 634.0,672.0 634.0,642.9 634.5,643.8 634.5,672.4 635.0,672.9 635.0,643.7 635.5,639.3 635.5,672.1 636.0,672.0 636.0,645.0 636.5,636.9 636.5,672.2 637.0,675.8 637.0,639.7 637.5,639.4 637.5,673.2 638.0,672.5 638.0,644.7 638.5,640.4 638.5,671.6 639.0,673.5 639.0,644.3 639.5,642.6 639.5,671.3 640.0,674.8 640.0,645.2 640.5,640.5 640.5,672.1 641.0,669.1 641.0,643.3 641.5,637.1 641.5,675.3 642.0,671.2 642.0,640.1 642.5,644.2 642.5,674.4 643.0,675.1 643.0,641.6 643.5,641.4 643.5,673.3 644.0,673.7 644.0,640.9 644.5,643.7 644.5,671.1 645.0,671.0 645.0,641.6 645.5,643.3 645.5,670.5 646.0,669.5 646.0,643.3 646.5,645.0 646.5,675.5 647.0,671.7 647.0,640.8 647.5,639.8 647.5,674.4 648.0,674.0 648.0,639.4 648.5,638.8 648.5,673.5 649.0,673.8 649.0,643.6 649.5,641.4 649.5,672.1 650.0,673.5 650.0,642.0 650.5,641.6 650.5,676.6 651.0,670.9 651.0,642.3 651.5,637.0 651.5,671.5 652.0,677.5 652.0,642.6 652.5,642.9 652.5,673.0 653.0,674.6 653.0,639.8 653.5,637.7 653.5,676.0 654.0,675.1 654.0,642.8 654.5,642.4 654.5,669.5 655.0,677.7 655.0,645.9 655.5,643.6 655.5,670.9 656.0,670.0 656.0,645.2 656.5,634.8 656.5,672.9 657.0,670.2 657.0,640.0 657.5,638.6 657.5,669.2 658.0,673.3 658.0,643.7 658.5,640.3 658.5,672.4 659.0,670.5 659.0,642.0 659.5,642.1 659.5,673.4 660.0,674.6 660.0,643.2 660.5,643.0 660.5,671.8 661.0,674.7 661.0,640.3 661.5,645.0 661.5,674.0 662.0,674.3 662.0,642.5 662.5,638.7 662.5,672.6 663.0,674.5 663.0,641.1 663.5,639.5 663.5,674.6 664.0,675.0 664.0,638.8 664.5,643.0 664.5,673.0 665.0,672.8 665.0,640.8 665.5,642.7 665.5,673.0 666.0,672.4 666.0,640.2 666.5,638.7 666.5,669.9 667.0,675.6 667.0,641.2 667.5,643.9 667.5,673.5 668.0,687.8 668.0,645.0 668.5,636.0 668.5,673.9 669.0,680.9 669.0,643.4 669.5,638.9 669.5,673.7 670.0,677.7 670.0,643.4 670.5,641.5 670.5,672.1 671.0,672.8 671.0,646.1 671.5,640.4 671.5,677.1 672.0,673.1 672.0,639.8 672.5,643.2 672.5,673.9 673.0,673.7 673.0,635.7 673.5,636.8 673.5,674.6 674.0,669.9 674.0,640.6 674.5,641.6 674.5,669.7 675.0,674.8 675.0,640.7 675.5,641.0 675.5,675.8 676.0,672.3 676.0,638.8 676.5,642.3 676.5,669.4 677.0,670.2 677.0,642.3 677.5,642.6 677.5,676.8 678.0,672.4 678.0,643.3 678.5,645.8 678.5,674.8 679.0,671.5 679.0,642.8 679.5,645.2 679.5,677.2 680.0,670.6 680.0,642.1 680.5,641.6 680.5,674.0 681.0,674.9 681.0,640.2 681.5,646.0 681.5,671.5 682.0,676.3 682.0,644.0 682.5,640.7 682.5,672.8 683.0,674.3 683.0,637.0 683.5,638.9 683.5,670.6 684.0,674.7 684.0,641.2 684.5,641.4 684.5,672.7 685.0,672.0 685.0,643.6 685.5,643.0 685.5,676.3 686.0,674.9 686.0,642.6 686.5,640.7 686.5,673.2 687.0,675.6 687.0,643.5 687.5,645.4 687.5,671.8 688.0,671.7 688.0,642.1 688.5,640.1 688.5,671.1 689.0,673.5 689.0,641.7 689.5,637.4 689.5,675.1 690.0,669.8 690.0,642.1 690.5,641.2 690.5,674.5 691.0,672.4 691.0,638.8 691.5,638.7 691.5,669.4 692.0,670.9 692.0,639.8 692.5,640.9 692.5,673.6 693.0,679.4 693.0,638.9 693.5,643.1 693.5,671.6 694.0,674.9 694.0,644.6 694.5,643.4 694.5,674.5 695.0,670.1 695.0,643.4 695.5,644.5 695.5,680.6 696.0,671.8 696.0,641.5 696.5,644.3 696.5,671.9 697.0,677.7 697.0,644.1 697.5,642.9 697.5,677.9 698.0,672.7 698.0,646.9 698.5,641.8 698.5,672.3 699.0,668.8 699.0,641.9 699.5,641.8 699.5,677.3 700.0,673.3 700.0,643.4 700.5,644.6 700.5,676.2 701.0,672.2 701.0,643.3 701.5,646.2 701.5,679.5 702.0,670.5 702.0,643.8 702.5,641.2 702.5,672.8 703.0,672.5 703.0,644.1 703.5,644.1 703.5,675.1 704.0,671.5 704.0,643.3 704.5,644.9 704.5,674.3 705.0,671.4 705.0,643.9 705.5,640.4 705.5,677.3 706.0,676.3 706.0,643.5 706.5,641.0 706.5,670.2 707.0,670.4 707.0,640.5 707.5,641.7 707.5,671.0 708.0,673.7 708.0,636.4 708.5,636.9 708.5,674.9 709.0,671.1 709.0,645.6 709.5,645.4 709.5,679.2 710.0,672.2 710.0,641.5 710.5,639.2 710.5,671.6 711.0,668.3 711.0,640.3 711.5,642.0 711.5,673.5 712.0,668.8 712.0,640.7 712.5,643.1 712.5,669.5 713.0,671.0 713.0,642.5 713.5,641.8 713.5,670.4 714.0,669.1 714.0,639.7 714.5,642.0 714.5,673.9 715.0,676.0 715.0,639.3 715.5,642.8 715.5,673.8 716.0,671.6 716.0,640.2 716.5,640.4 716.5,682.8 717.0,675.7 717.0,643.0 717.5,634.3 717.5,678.5 718.0,674.6 718.0,644.1 718.5,643.9 718.5,675.5 719.0,669.4 719.0,646.7 719.5,643.1 719.5,676.3 720.0,671.1 720.0,647.1 720.5,643.1 720.5,671.6 721.0,672.5 721.0,636.6 721.5,644.8 721.5,671.4 722.0,673.8 722.0,640.3 722.5,641.9 722.5,671.1 723.0,672.9 723.0,646.2 723.5,645.0 723.5,671.2 724.0,673.3 724.0,642.3 724.5,638.6 724.5,670.3" fill="none" stroke="#00f" stroke-width="1.7" stroke-linejoin="round" stroke-linecap="round"/>
<path d="M208.4 675.2V723.7M214.0 675.4V694.4M217.3 675.4V714.8M222.4 675.4V686.7M226.3 675.4V712.8M234.4 674.2V703.8M243.4 673.9V714.8M250.5 673.9V700.8M252.3 673.9V712.8M260.4 673.9V719.9M262.5 673.9V696.9M269.4 673.9V718.6M277.8 673.9V721.7M286.2 673.9V719.4M295.6 673.9V763.8M303.3 673.9V719.9M305.1 673.9V702.0M312.2 673.9V716.1M320.4 673.9V716.1M329.3 677.1V718.6M331.6 677.6V704.6M338.5 674.0V705.9M343.3 673.9V753.0M346.6 673.9V708.9M355.3 673.9V705.1M364.0 673.9V702.0M367.0 673.9V696.9M372.7 673.9V708.9M381.3 673.9V711.0M389.5 673.9V725.8M398.4 673.9V724.2M406.6 673.9V702.0M415.5 673.9V697.5M420.4 673.9V728.8M424.4 673.9V710.2M432.6 673.9V710.2M441.5 673.9V718.6M443.6 673.9V702.0M449.9 673.9V707.9M458.4 673.9V719.9M467.1 673.9V721.7M475.5 673.9V705.4M484.4 673.9V718.6M492.6 673.9V713.5M501.5 673.9V714.8M509.9 673.9V713.5M514.3 673.9V702.0M518.6 673.9V714.8M527.5 673.9V707.9M535.5 675.1V702.8M544.1 682.7V705.9M553.3 674.7V716.8M561.5 673.9V717.9M570.4 673.9V713.5M579.3 673.9V705.9M587.5 673.9V707.9M596.4 673.9V716.8M604.8 673.9V720.4M613.2 673.9V717.9M622.2 673.9V707.9M630.3 673.9V723.7M639.3 673.9V712.8M647.4 673.9V725.8M652.0 673.9V716.8M656.3 673.9V716.8M665.3 673.9V705.9M673.4 673.9V705.9M682.4 673.9V712.8M690.8 673.9V712.0M699.4 673.9V714.8M708.4 673.9V710.2M716.5 673.9V712.8M246.4 641.4V629.3M295.6 641.4V614.3M326.2 641.4V631.9M331.6 641.4V610.4M343.3 641.4V603.8M362.5 640.4V629.3M373.4 638.9V632.6M409.6 638.9V630.8M265.0 641.4V636.5M275.2 641.4V636.5M432.1 641.4V635.2M471.7 641.4V632.6M538.0 638.6V628.3M543.6 633.9V614.3M613.2 641.4V625.7M641.8 641.4V635.9M683.4 641.4V635.2M703.0 641.4V635.2M712.4 641.4V633.9" stroke="#00f" stroke-width="2" stroke-linecap="round" fill="none"/>
<g opacity="0.999">
<text y="25.9" font-size="23.2" font-weight="bold" style="fill:#000"><tspan x="528.17" textLength="134.29" lengthAdjust="spacingAndGlyphs">FINOKALIA</tspan> <tspan x="671.56" textLength="101.21" lengthAdjust="spacingAndGlyphs">Wavelet</tspan> <tspan x="780.61" textLength="94.97" lengthAdjust="spacingAndGlyphs">Spectra</tspan> <tspan x="885.47" textLength="30.52" lengthAdjust="spacingAndGlyphs">on</tspan> <tspan x="923.88" textLength="29.95" lengthAdjust="spacingAndGlyphs">19</tspan> <tspan x="962.49" textLength="98.51" lengthAdjust="spacingAndGlyphs">October</tspan> <tspan x="1069.57" textLength="61.70" lengthAdjust="spacingAndGlyphs">2019</tspan></text>
<text y="53.6" font-size="23.2" font-weight="bold" style="fill:#000"><tspan x="249.82" textLength="98.40" lengthAdjust="spacingAndGlyphs">Filtered</tspan> <tspan x="355.38" textLength="77.99" lengthAdjust="spacingAndGlyphs">Series</tspan> <tspan x="441.62" textLength="82.87" lengthAdjust="spacingAndGlyphs">(cutoff</tspan> <tspan x="532.92" textLength="25.61" lengthAdjust="spacingAndGlyphs">at</tspan> <tspan x="566.29" textLength="38.06" lengthAdjust="spacingAndGlyphs">7.5</tspan> <tspan x="612.09" textLength="64.68" lengthAdjust="spacingAndGlyphs">mHz)</tspan></text>
<text y="53.9" font-size="23.2" font-weight="bold" style="fill:#000"><tspan x="1038.90" textLength="42.46" lengthAdjust="spacingAndGlyphs">Pc4</tspan> <tspan x="1091.66" textLength="100.48" lengthAdjust="spacingAndGlyphs">Wavelet</tspan> <tspan x="1199.97" textLength="77.58" lengthAdjust="spacingAndGlyphs">Power</tspan></text>
<text x="171.80" y="281.80" font-size="23.2" textLength="63.41" lengthAdjust="spacingAndGlyphs">00:00</text>
<text x="863.80" y="281.80" font-size="23.2" textLength="63.41" lengthAdjust="spacingAndGlyphs">00:00</text>
<text x="302.05" y="281.80" font-size="23.2" textLength="63.41" lengthAdjust="spacingAndGlyphs">06:00</text>
<text x="995.17" y="281.80" font-size="23.2" textLength="63.41" lengthAdjust="spacingAndGlyphs">06:00</text>
<text x="432.30" y="281.80" font-size="23.2" textLength="63.41" lengthAdjust="spacingAndGlyphs">12:00</text>
<text x="1126.55" y="281.80" font-size="23.2" textLength="63.41" lengthAdjust="spacingAndGlyphs">12:00</text>
<text x="562.55" y="281.80" font-size="23.2" textLength="63.41" lengthAdjust="spacingAndGlyphs">18:00</text>
<text x="1257.92" y="281.80" font-size="23.2" textLength="63.41" lengthAdjust="spacingAndGlyphs">18:00</text>
<text x="692.80" y="281.80" font-size="23.2" textLength="63.41" lengthAdjust="spacingAndGlyphs">24:00</text>
<text x="1389.30" y="281.80" font-size="23.2" textLength="63.41" lengthAdjust="spacingAndGlyphs">00:00</text>
<text x="171.80" y="544.20" font-size="23.2" textLength="63.41" lengthAdjust="spacingAndGlyphs">00:00</text>
<text x="863.80" y="544.20" font-size="23.2" textLength="63.41" lengthAdjust="spacingAndGlyphs">00:00</text>
<text x="302.05" y="544.20" font-size="23.2" textLength="63.41" lengthAdjust="spacingAndGlyphs">06:00</text>
<text x="995.17" y="544.20" font-size="23.2" textLength="63.41" lengthAdjust="spacingAndGlyphs">06:00</text>
<text x="432.30" y="544.20" font-size="23.2" textLength="63.41" lengthAdjust="spacingAndGlyphs">12:00</text>
<text x="1126.55" y="544.20" font-size="23.2" textLength="63.41" lengthAdjust="spacingAndGlyphs">12:00</text>
<text x="562.55" y="544.20" font-size="23.2" textLength="63.41" lengthAdjust="spacingAndGlyphs">18:00</text>
<text x="1257.92" y="544.20" font-size="23.2" textLength="63.41" lengthAdjust="spacingAndGlyphs">18:00</text>
<text x="692.80" y="544.20" font-size="23.2" textLength="63.41" lengthAdjust="spacingAndGlyphs">24:00</text>
<text x="1389.30" y="544.20" font-size="23.2" textLength="63.41" lengthAdjust="spacingAndGlyphs">00:00</text>
<text x="171.80" y="806.20" font-size="23.2" textLength="63.41" lengthAdjust="spacingAndGlyphs">00:00</text>
<text x="863.80" y="806.20" font-size="23.2" textLength="63.41" lengthAdjust="spacingAndGlyphs">00:00</text>
<text x="302.05" y="806.20" font-size="23.2" textLength="63.41" lengthAdjust="spacingAndGlyphs">06:00</text>
<text x="995.17" y="806.20" font-size="23.2" textLength="63.41" lengthAdjust="spacingAndGlyphs">06:00</text>
<text x="432.30" y="806.20" font-size="23.2" textLength="63.41" lengthAdjust="spacingAndGlyphs">12:00</text>
<text x="1126.55" y="806.20" font-size="23.2" textLength="63.41" lengthAdjust="spacingAndGlyphs">12:00</text>
<text x="562.55" y="806.20" font-size="23.2" textLength="63.41" lengthAdjust="spacingAndGlyphs">18:00</text>
<text x="1257.92" y="806.20" font-size="23.2" textLength="63.41" lengthAdjust="spacingAndGlyphs">18:00</text>
<text x="692.80" y="806.20" font-size="23.2" textLength="63.41" lengthAdjust="spacingAndGlyphs">24:00</text>
<text x="1389.30" y="806.20" font-size="23.2" textLength="63.41" lengthAdjust="spacingAndGlyphs">00:00</text>
<text x="181.30" y="73.00" font-size="23.2" textLength="14.00" lengthAdjust="spacingAndGlyphs">1</text>
<text x="181.30" y="135.67" font-size="23.2" textLength="14.00" lengthAdjust="spacingAndGlyphs">0</text>
<text x="173.36" y="198.33" font-size="23.2" textLength="21.94" lengthAdjust="spacingAndGlyphs">-1</text>
<text x="173.36" y="261.00" font-size="23.2" textLength="21.94" lengthAdjust="spacingAndGlyphs">-2</text>
<text x="853.00" y="258.91" font-size="23.2" textLength="14.00" lengthAdjust="spacingAndGlyphs">7</text>
<text x="853.00" y="237.46" font-size="23.2" textLength="14.00" lengthAdjust="spacingAndGlyphs">8</text>
<text x="853.00" y="218.55" font-size="23.2" textLength="14.00" lengthAdjust="spacingAndGlyphs">9</text>
<text x="846.00" y="201.63" font-size="23.2" textLength="28.00" lengthAdjust="spacingAndGlyphs">10</text>
<text x="846.00" y="172.35" font-size="23.2" textLength="28.00" lengthAdjust="spacingAndGlyphs">12</text>
<text x="846.00" y="147.59" font-size="23.2" textLength="28.00" lengthAdjust="spacingAndGlyphs">14</text>
<text x="846.00" y="126.14" font-size="23.2" textLength="28.00" lengthAdjust="spacingAndGlyphs">16</text>
<text x="846.00" y="107.23" font-size="23.2" textLength="28.00" lengthAdjust="spacingAndGlyphs">18</text>
<text x="846.00" y="90.31" font-size="23.2" textLength="28.00" lengthAdjust="spacingAndGlyphs">20</text>
<text x="846.00" y="75.00" font-size="23.2" textLength="28.00" lengthAdjust="spacingAndGlyphs">22</text>
<text x="181.30" y="335.00" font-size="23.2" textLength="14.00" lengthAdjust="spacingAndGlyphs">1</text>
<text x="181.30" y="429.50" font-size="23.2" textLength="14.00" lengthAdjust="spacingAndGlyphs">0</text>
<text x="173.36" y="524.00" font-size="23.2" textLength="21.94" lengthAdjust="spacingAndGlyphs">-1</text>
<text x="853.00" y="521.90" font-size="23.2" textLength="14.00" lengthAdjust="spacingAndGlyphs">7</text>
<text x="853.00" y="500.34" font-size="23.2" textLength="14.00" lengthAdjust="spacingAndGlyphs">8</text>
<text x="853.00" y="481.32" font-size="23.2" textLength="14.00" lengthAdjust="spacingAndGlyphs">9</text>
<text x="846.00" y="464.31" font-size="23.2" textLength="28.00" lengthAdjust="spacingAndGlyphs">10</text>
<text x="846.00" y="434.87" font-size="23.2" textLength="28.00" lengthAdjust="spacingAndGlyphs">12</text>
<text x="846.00" y="409.99" font-size="23.2" textLength="28.00" lengthAdjust="spacingAndGlyphs">14</text>
<text x="846.00" y="388.43" font-size="23.2" textLength="28.00" lengthAdjust="spacingAndGlyphs">16</text>
<text x="846.00" y="369.41" font-size="23.2" textLength="28.00" lengthAdjust="spacingAndGlyphs">18</text>
<text x="846.00" y="352.40" font-size="23.2" textLength="28.00" lengthAdjust="spacingAndGlyphs">20</text>
<text x="846.00" y="337.01" font-size="23.2" textLength="28.00" lengthAdjust="spacingAndGlyphs">22</text>
<text x="160.30" y="597.00" font-size="23.2" textLength="35.00" lengthAdjust="spacingAndGlyphs">0.5</text>
<text x="181.30" y="660.00" font-size="23.2" textLength="14.00" lengthAdjust="spacingAndGlyphs">0</text>
<text x="152.36" y="723.00" font-size="23.2" textLength="42.94" lengthAdjust="spacingAndGlyphs">-0.5</text>
<text x="173.36" y="786.00" font-size="23.2" textLength="21.94" lengthAdjust="spacingAndGlyphs">-1</text>
<text x="853.00" y="783.90" font-size="23.2" textLength="14.00" lengthAdjust="spacingAndGlyphs">7</text>
<text x="853.00" y="762.34" font-size="23.2" textLength="14.00" lengthAdjust="spacingAndGlyphs">8</text>
<text x="853.00" y="743.32" font-size="23.2" textLength="14.00" lengthAdjust="spacingAndGlyphs">9</text>
<text x="846.00" y="726.31" font-size="23.2" textLength="28.00" lengthAdjust="spacingAndGlyphs">10</text>
<text x="846.00" y="696.87" font-size="23.2" textLength="28.00" lengthAdjust="spacingAndGlyphs">12</text>
<text x="846.00" y="671.99" font-size="23.2" textLength="28.00" lengthAdjust="spacingAndGlyphs">14</text>
<text x="846.00" y="650.43" font-size="23.2" textLength="28.00" lengthAdjust="spacingAndGlyphs">16</text>
<text x="846.00" y="631.41" font-size="23.2" textLength="28.00" lengthAdjust="spacingAndGlyphs">18</text>
<text x="846.00" y="614.40" font-size="23.2" textLength="28.00" lengthAdjust="spacingAndGlyphs">20</text>
<text x="846.00" y="599.01" font-size="23.2" textLength="28.00" lengthAdjust="spacingAndGlyphs">22</text>
<text x="165.40" y="198.20" font-size="23.2" font-weight="bold" textLength="75.41" lengthAdjust="spacingAndGlyphs" transform="rotate(-90 165.40 198.20)">X (nT)</text>
<text x="165.40" y="459.69" font-size="23.2" font-weight="bold" textLength="74.38" lengthAdjust="spacingAndGlyphs" transform="rotate(-90 165.40 459.69)">Y (nT)</text>
<text x="142.20" y="721.70" font-size="23.2" font-weight="bold" textLength="74.39" lengthAdjust="spacingAndGlyphs" transform="rotate(-90 142.20 721.70)">Z (nT)</text>
<text x="835.80" y="226.51" font-size="23.2" font-weight="bold" textLength="133.02" lengthAdjust="spacingAndGlyphs" transform="rotate(-90 835.80 226.51)">freq (mHz)</text>
<text x="835.80" y="489.01" font-size="23.2" font-weight="bold" textLength="133.02" lengthAdjust="spacingAndGlyphs" transform="rotate(-90 835.80 489.01)">freq (mHz)</text>
<text x="835.80" y="751.01" font-size="23.2" font-weight="bold" textLength="133.02" lengthAdjust="spacingAndGlyphs" transform="rotate(-90 835.80 751.01)">freq (mHz)</text>
</g>
</svg></body></html>
